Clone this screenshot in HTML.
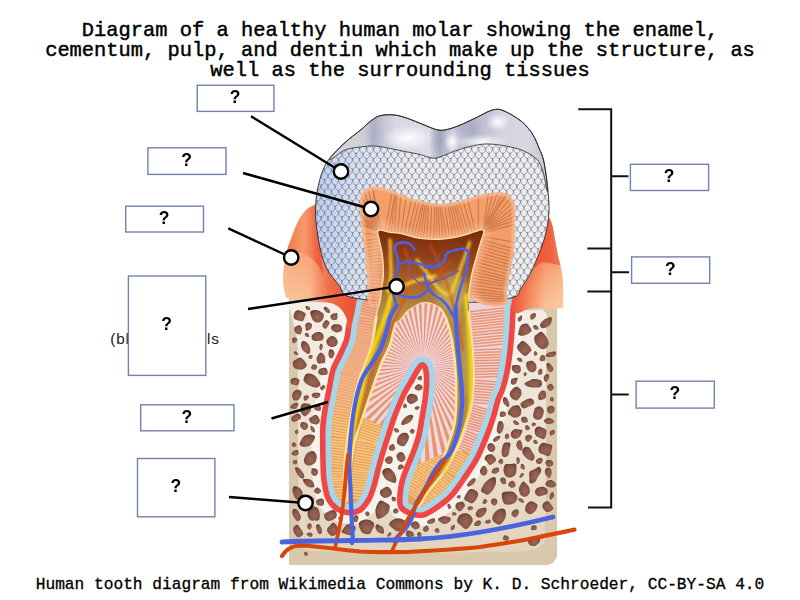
<!DOCTYPE html>
<html><head><meta charset="utf-8"><style>
html,body{margin:0;padding:0;background:#fff;width:800px;height:600px;overflow:hidden}
svg{display:block}
.t{font-family:"Liberation Mono",monospace;font-size:20.4px;fill:#000;stroke:#000;stroke-width:0.45px;text-anchor:middle}
.c{font-family:"Liberation Mono",monospace;font-size:16.2px;fill:#000;stroke:#000;stroke-width:0.3px;text-anchor:middle}
.q{font-family:"Liberation Sans",sans-serif;font-weight:bold;font-size:17.5px;fill:#000;text-anchor:middle}
.h{font-family:"Liberation Sans",sans-serif;font-size:15.3px;fill:#1a1a1a}
</style></head><body>
<svg width="800" height="600" viewBox="0 0 800 600">
<defs>
<linearGradient id="gL" x1="320" y1="250" x2="284" y2="300" gradientUnits="userSpaceOnUse"><stop offset="0" stop-color="#f6a272"/><stop offset="0.5" stop-color="#f8b286"/><stop offset="1" stop-color="#fac49c"/></linearGradient>
<linearGradient id="gLu" x1="290" y1="0" x2="320" y2="0" gradientUnits="userSpaceOnUse"><stop offset="0" stop-color="#f47a50"/><stop offset="0.45" stop-color="#f69a6c"/><stop offset="0.8" stop-color="#f27450"/><stop offset="1" stop-color="#ee5a3a"/></linearGradient>
<linearGradient id="gLt" x1="300" y1="0" x2="352" y2="0" gradientUnits="userSpaceOnUse"><stop offset="0" stop-color="#f05838" stop-opacity="0"/><stop offset="0.2" stop-color="#f05838" stop-opacity="0"/><stop offset="0.55" stop-color="#ee5a38" stop-opacity="0.75"/><stop offset="1" stop-color="#ee5232" stop-opacity="1"/></linearGradient>
<linearGradient id="gR" x1="535" y1="265" x2="565" y2="300" gradientUnits="userSpaceOnUse"><stop offset="0" stop-color="#f48a60"/><stop offset="0.4" stop-color="#f8ac7e"/><stop offset="1" stop-color="#fcc8a0"/></linearGradient>
<linearGradient id="gRu" x1="535" y1="0" x2="560" y2="0" gradientUnits="userSpaceOnUse"><stop offset="0" stop-color="#ee5434"/><stop offset="0.6" stop-color="#f06040"/><stop offset="1" stop-color="#f47c54"/></linearGradient>
<linearGradient id="gRt" x1="545" y1="0" x2="512" y2="0" gradientUnits="userSpaceOnUse"><stop offset="0" stop-color="#ee5636" stop-opacity="0"/><stop offset="0.4" stop-color="#ee5636" stop-opacity="0.35"/><stop offset="1" stop-color="#ee5232" stop-opacity="1"/></linearGradient>
<linearGradient id="occ" x1="330" y1="0" x2="550" y2="0" gradientUnits="userSpaceOnUse">
 <stop offset="0" stop-color="#d4d4da"/><stop offset="0.17" stop-color="#d0d0d8"/><stop offset="0.2" stop-color="#b8b8cc"/><stop offset="0.3" stop-color="#d8d8e4"/><stop offset="0.45" stop-color="#dcdce6"/>
 <stop offset="0.5" stop-color="#b0b0c8"/><stop offset="0.56" stop-color="#d0d0de"/><stop offset="0.65" stop-color="#b4b4cc"/><stop offset="0.78" stop-color="#d4d4e0"/><stop offset="0.9" stop-color="#d8d8e2"/><stop offset="1" stop-color="#c4c4d0"/></linearGradient>
<linearGradient id="occV" x1="0" y1="110" x2="0" y2="165" gradientUnits="userSpaceOnUse"><stop offset="0" stop-color="#8888a8" stop-opacity="0.35"/><stop offset="0.5" stop-color="#fff" stop-opacity="0.0"/><stop offset="1" stop-color="#fff" stop-opacity="0.4"/></linearGradient>
<linearGradient id="enm" x1="316" y1="0" x2="550" y2="0" gradientUnits="userSpaceOnUse"><stop offset="0" stop-color="#bccef0"/><stop offset="0.18" stop-color="#d8e0f0"/><stop offset="0.4" stop-color="#eaebef"/><stop offset="1" stop-color="#ececef"/></linearGradient>
<linearGradient id="dC" x1="0" y1="186" x2="0" y2="300" gradientUnits="userSpaceOnUse"><stop offset="0" stop-color="#f3a06a"/><stop offset="1" stop-color="#f09a66"/></linearGradient>
<linearGradient id="pulpG" x1="0" y1="232" x2="0" y2="315" gradientUnits="userSpaceOnUse"><stop offset="0" stop-color="#7a2c0a"/><stop offset="0.3" stop-color="#92401a"/><stop offset="0.65" stop-color="#a86a2c"/><stop offset="1" stop-color="#b89048"/></linearGradient>
<filter id="blur1" x="-20%" y="-20%" width="140%" height="140%"><feGaussianBlur stdDeviation="0.9"/></filter>
<clipPath id="cA"><path d="M356.0,296.0 C353.0,300.2 353.2,305.2 352.0,310.0 C350.8,314.8 349.9,320.0 349.0,325.0 C348.1,330.0 348.0,335.0 346.5,340.0 C345.0,345.0 342.2,350.0 340.0,355.0 C337.8,360.0 334.8,364.2 333.0,370.0 C331.2,375.8 330.3,383.3 329.0,390.0 C327.7,396.7 326.0,404.2 325.0,410.0 C324.0,415.8 323.4,420.0 323.0,425.0 C322.6,430.0 322.7,434.2 322.7,440.0 C322.7,445.8 322.8,453.3 323.0,460.0 C323.2,466.7 323.2,473.7 324.0,480.0 C324.8,486.3 326.0,493.3 328.0,498.0 C330.0,502.7 332.8,505.6 336.0,508.0 C339.2,510.4 343.5,512.2 347.5,512.5 C351.5,512.8 356.4,512.2 360.0,510.0 C363.6,507.8 366.7,503.0 369.0,499.0 C371.3,495.0 372.5,490.8 374.0,486.0 C375.5,481.2 376.5,475.7 378.0,470.0 C379.5,464.3 381.2,457.8 383.0,452.0 C384.8,446.2 386.7,440.7 388.5,435.0 C390.3,429.3 392.1,423.3 394.0,418.0 C395.9,412.7 398.2,407.3 400.0,403.0 C401.8,398.7 403.0,395.8 405.0,392.0 C407.0,388.2 409.7,384.0 412.0,380.0 C414.3,376.0 417.2,370.5 419.0,368.0 C420.8,365.5 421.8,364.5 423.0,365.0 C424.2,365.5 425.4,367.7 426.0,371.0 C426.6,374.3 426.7,380.2 426.5,385.0 C426.3,389.8 425.8,394.5 425.0,400.0 C424.2,405.5 423.0,412.2 422.0,418.0 C421.0,423.8 420.5,429.2 419.0,435.0 C417.5,440.8 415.2,447.2 413.0,453.0 C410.8,458.8 407.8,465.2 406.0,470.0 C404.2,474.8 403.0,477.8 402.0,482.0 C401.0,486.2 400.2,490.8 400.0,495.0 C399.8,499.2 399.2,503.9 401.0,507.0 C402.8,510.1 407.3,512.2 411.0,513.5 C414.7,514.8 418.8,515.9 423.0,515.0 C427.2,514.1 431.3,511.2 436.0,508.0 C440.7,504.8 446.5,500.7 451.0,496.0 C455.5,491.3 458.8,486.0 463.0,480.0 C467.2,474.0 472.7,465.8 476.0,460.0 C479.3,454.2 480.8,450.0 483.0,445.0 C485.2,440.0 487.2,435.0 489.0,430.0 C490.8,425.0 492.5,420.0 494.0,415.0 C495.5,410.0 496.5,404.5 498.0,400.0 C499.5,395.5 501.5,392.7 503.0,388.0 C504.5,383.3 505.8,378.0 507.0,372.0 C508.2,366.0 509.2,359.0 510.0,352.0 C510.8,345.0 511.5,337.0 512.0,330.0 C512.5,323.0 512.7,315.3 513.0,310.0 C513.3,304.7 516.2,302.2 514.0,298.0 C511.8,293.8 524.0,287.2 500.0,285.0 C476.0,282.8 394.0,283.2 370.0,285.0 C346.0,286.8 359.0,291.8 356.0,296.0 Z"/></clipPath>
<clipPath id="cLlow"><path d="M300,300 L300,540 L398,540 L398,470 L390,440 L380,425 L365,418 L345,420 L300,420Z"/></clipPath>
<clipPath id="cRlow"><path d="M398,540 L398,475 L410,468 L440,455 L470,450 L500,450 L500,540Z"/></clipPath>
<linearGradient id="oLg" x1="0" y1="300" x2="0" y2="440" gradientUnits="userSpaceOnUse"><stop offset="0" stop-color="#f2b898"/><stop offset="0.5" stop-color="#eeaa78"/><stop offset="1" stop-color="#e9a252"/></linearGradient>
<linearGradient id="oLs" x1="0" y1="300" x2="0" y2="440" gradientUnits="userSpaceOnUse"><stop offset="0" stop-color="#e8906c"/><stop offset="0.6" stop-color="#f2b890"/><stop offset="1" stop-color="#f6c88c"/></linearGradient>
<radialGradient id="spotG" cx="0.55" cy="0.6" r="0.6"><stop offset="0" stop-color="#9c6656"/><stop offset="0.7" stop-color="#845444"/><stop offset="1" stop-color="#6a4234"/></radialGradient>
<clipPath id="cOcc"><path d="M330.0,158.0 C332.0,155.4 340.0,147.1 345.0,142.5 C350.0,137.9 355.5,134.2 360.0,130.5 C364.5,126.8 368.5,122.5 372.0,120.0 C375.5,117.5 377.2,116.3 381.0,115.5 C384.8,114.7 390.0,114.5 394.5,115.0 C399.0,115.5 403.2,116.9 408.0,118.5 C412.8,120.1 418.0,122.6 423.0,124.5 C428.0,126.4 433.7,129.2 438.0,130.0 C442.3,130.8 444.9,130.0 449.0,129.0 C453.1,128.0 457.8,126.0 462.5,124.0 C467.2,122.0 473.0,119.2 477.5,117.0 C482.0,114.8 486.2,112.3 489.5,111.0 C492.8,109.7 494.8,109.4 497.0,109.3 C499.2,109.2 500.5,109.5 503.0,110.5 C505.5,111.5 509.0,113.2 512.0,115.0 C515.0,116.8 518.2,118.8 521.0,121.0 C523.8,123.2 526.2,125.8 528.5,128.5 C530.8,131.2 532.8,134.2 534.5,137.5 C536.2,140.8 537.5,144.2 539.0,148.0 C540.5,151.8 542.2,155.0 543.5,160.0 C544.8,165.0 545.8,172.7 546.5,178.0 C547.2,183.3 548.1,193.0 547.5,192.0 C546.9,191.0 544.7,177.3 543.0,172.0 C541.3,166.7 540.2,163.2 537.5,160.0 C534.8,156.8 530.8,154.5 527.0,152.5 C523.2,150.5 519.5,149.2 515.0,148.0 C510.5,146.8 505.0,145.7 500.0,145.0 C495.0,144.3 490.0,143.8 485.0,144.0 C480.0,144.2 475.0,145.3 470.0,146.5 C465.0,147.7 460.0,149.2 455.0,151.0 C450.0,152.8 443.8,155.8 440.0,157.0 C436.2,158.2 435.3,158.4 432.0,158.0 C428.7,157.6 424.5,155.6 420.0,154.5 C415.5,153.4 410.0,152.5 405.0,151.5 C400.0,150.5 395.0,149.4 390.0,148.5 C385.0,147.6 380.0,146.2 375.0,146.0 C370.0,145.8 365.0,146.3 360.0,147.0 C355.0,147.7 349.5,148.2 345.0,150.0 C340.5,151.8 335.5,156.7 333.0,158.0 C330.5,159.3 328.0,160.6 330.0,158.0 Z"/></clipPath>
<radialGradient id="hiW"><stop offset="0" stop-color="#fff" stop-opacity="0.95"/><stop offset="1" stop-color="#fff" stop-opacity="0"/></radialGradient>
<filter id="blur3" x="-50%" y="-50%" width="200%" height="200%"><feGaussianBlur stdDeviation="3"/></filter>
<linearGradient id="boneG" x1="0" y1="300" x2="0" y2="555" gradientUnits="userSpaceOnUse"><stop offset="0" stop-color="#f4eee6"/><stop offset="0.5" stop-color="#ece2d4"/><stop offset="1" stop-color="#e2d4bc"/></linearGradient>
<clipPath id="cI"><path d="M423.0,365.0 C424.2,365.5 425.4,367.7 426.0,371.0 C426.6,374.3 426.7,380.2 426.5,385.0 C426.3,389.8 425.8,394.5 425.0,400.0 C424.2,405.5 423.0,412.2 422.0,418.0 C421.0,423.8 420.5,429.2 419.0,435.0 C417.5,440.8 415.2,447.2 413.0,453.0 C410.8,458.8 407.8,465.2 406.0,470.0 C404.2,474.8 403.0,477.8 402.0,482.0 C401.0,486.2 400.2,490.8 400.0,495.0 C399.8,499.2 403.5,505.2 401.0,507.0 C398.5,508.8 390.3,507.3 385.0,506.0 C379.7,504.7 370.8,502.3 369.0,499.0 C367.2,495.7 372.5,490.8 374.0,486.0 C375.5,481.2 376.5,475.7 378.0,470.0 C379.5,464.3 381.2,457.8 383.0,452.0 C384.8,446.2 386.7,440.7 388.5,435.0 C390.3,429.3 392.1,423.3 394.0,418.0 C395.9,412.7 398.2,407.3 400.0,403.0 C401.8,398.7 403.0,395.8 405.0,392.0 C407.0,388.2 409.7,384.0 412.0,380.0 C414.3,376.0 417.2,370.5 419.0,368.0 C420.8,365.5 421.8,364.5 423.0,365.0 Z"/></clipPath>
<clipPath id="cDC"><path d="M369.0,304.0 C367.7,298.7 367.8,283.7 367.0,274.0 C366.2,264.3 365.0,255.0 364.0,246.0 C363.0,237.0 361.8,226.7 361.0,220.0 C360.2,213.3 359.5,210.0 359.5,206.0 C359.5,202.0 359.9,198.8 361.0,196.0 C362.1,193.2 363.5,191.1 366.0,189.5 C368.5,187.9 372.0,186.4 376.0,186.5 C380.0,186.6 384.3,188.1 390.0,190.0 C395.7,191.9 403.3,195.8 410.0,198.0 C416.7,200.2 424.3,202.0 430.0,203.0 C435.7,204.0 439.0,204.3 444.0,204.0 C449.0,203.7 454.7,202.3 460.0,201.0 C465.3,199.7 471.0,197.3 476.0,196.0 C481.0,194.7 485.3,193.5 490.0,193.0 C494.7,192.5 500.3,192.2 504.0,193.0 C507.7,193.8 510.2,195.5 512.0,198.0 C513.8,200.5 514.5,203.5 515.0,208.0 C515.5,212.5 515.2,218.0 515.0,225.0 C514.8,232.0 514.8,242.2 514.0,250.0 C513.2,257.8 511.2,265.3 510.0,272.0 C508.8,278.7 507.7,284.7 507.0,290.0 C506.3,295.3 508.8,301.3 506.0,304.0 C503.2,306.7 496.0,306.7 490.0,306.0 C484.0,305.3 478.3,301.3 470.0,300.0 C461.7,298.7 450.0,298.3 440.0,298.0 C430.0,297.7 419.2,297.0 410.0,298.0 C400.8,299.0 390.8,302.7 385.0,304.0 C379.2,305.3 377.7,306.0 375.0,306.0 C372.3,306.0 370.3,309.3 369.0,304.0 Z"/></clipPath>
<clipPath id="cCr"><path d="M350.0,297.0 C339.8,294.2 342.8,289.7 339.0,285.0 C335.2,280.3 330.2,275.2 327.0,269.0 C323.8,262.8 321.8,255.8 320.0,248.0 C318.2,240.2 316.7,230.0 316.0,222.0 C315.3,214.0 315.5,206.5 316.0,200.0 C316.5,193.5 317.8,188.0 319.0,183.0 C320.2,178.0 321.2,174.2 323.0,170.0 C324.8,165.8 326.3,162.6 330.0,158.0 C333.7,153.4 340.0,147.1 345.0,142.5 C350.0,137.9 355.5,134.2 360.0,130.5 C364.5,126.8 368.5,122.5 372.0,120.0 C375.5,117.5 377.2,116.3 381.0,115.5 C384.8,114.7 390.0,114.5 394.5,115.0 C399.0,115.5 403.2,116.9 408.0,118.5 C412.8,120.1 418.0,122.6 423.0,124.5 C428.0,126.4 433.7,129.2 438.0,130.0 C442.3,130.8 444.9,130.0 449.0,129.0 C453.1,128.0 457.8,126.0 462.5,124.0 C467.2,122.0 473.0,119.2 477.5,117.0 C482.0,114.8 486.2,112.3 489.5,111.0 C492.8,109.7 494.8,109.4 497.0,109.3 C499.2,109.2 500.5,109.5 503.0,110.5 C505.5,111.5 509.0,113.2 512.0,115.0 C515.0,116.8 518.2,118.8 521.0,121.0 C523.8,123.2 526.2,125.8 528.5,128.5 C530.8,131.2 532.8,134.2 534.5,137.5 C536.2,140.8 537.5,144.2 539.0,148.0 C540.5,151.8 542.2,154.3 543.5,160.0 C544.8,165.7 546.1,174.5 547.0,182.0 C547.9,189.5 548.8,198.3 549.0,205.0 C549.2,211.7 548.8,216.2 548.0,222.0 C547.2,227.8 545.7,234.3 544.0,240.0 C542.3,245.7 540.0,251.0 538.0,256.0 C536.0,261.0 534.0,265.8 532.0,270.0 C530.0,274.2 528.0,277.7 526.0,281.0 C524.0,284.3 522.0,287.3 520.0,290.0 C518.0,292.7 520.7,295.0 514.0,297.0 C507.3,299.0 499.0,301.2 480.0,302.0 C461.0,302.8 421.7,302.8 400.0,302.0 C378.3,301.2 360.2,299.8 350.0,297.0 Z"/></clipPath>
<clipPath id="cPulp"><path d="M379.0,231.0 C380.7,229.8 386.5,232.5 390.0,233.0 C393.5,233.5 395.0,233.0 400.0,234.0 C405.0,235.0 413.3,238.0 420.0,239.0 C426.7,240.0 433.3,240.3 440.0,240.0 C446.7,239.7 454.0,238.3 460.0,237.0 C466.0,235.7 472.2,233.0 476.0,232.0 C479.8,231.0 482.3,229.3 483.0,231.0 C483.7,232.7 481.2,237.8 480.0,242.0 C478.8,246.2 477.5,250.5 476.0,256.0 C474.5,261.5 472.3,268.5 471.0,275.0 C469.7,281.5 468.5,288.8 468.0,295.0 C467.5,301.2 467.7,306.2 468.0,312.0 C468.3,317.8 469.3,323.7 470.0,330.0 C470.7,336.3 471.5,341.7 472.0,350.0 C472.5,358.3 473.2,370.8 473.0,380.0 C472.8,389.2 472.5,396.7 471.0,405.0 C469.5,413.3 466.5,422.5 464.0,430.0 C461.5,437.5 459.3,443.0 456.0,450.0 C452.7,457.0 448.7,465.0 444.0,472.0 C439.3,479.0 432.0,486.5 428.0,492.0 C424.0,497.5 421.8,503.3 420.0,505.0 C418.2,506.7 416.2,504.5 417.0,502.0 C417.8,499.5 421.5,495.3 425.0,490.0 C428.5,484.7 434.2,477.5 438.0,470.0 C441.8,462.5 445.2,453.3 448.0,445.0 C450.8,436.7 453.7,430.8 455.0,420.0 C456.3,409.2 456.5,393.3 456.0,380.0 C455.5,366.7 453.7,350.3 452.0,340.0 C450.3,329.7 448.0,323.5 446.0,318.0 C444.0,312.5 442.3,309.5 440.0,307.0 C437.7,304.5 434.7,303.8 432.0,303.0 C429.3,302.2 426.7,301.8 424.0,302.0 C421.3,302.2 418.7,302.7 416.0,304.0 C413.3,305.3 410.5,307.7 408.0,310.0 C405.5,312.3 403.0,316.0 401.0,318.0 C399.0,320.0 397.8,317.5 396.0,322.0 C394.2,326.5 392.3,338.3 390.0,345.0 C387.7,351.7 384.4,356.2 382.0,362.0 C379.6,367.8 378.3,372.0 375.5,380.0 C372.7,388.0 368.4,400.0 365.0,410.0 C361.6,420.0 357.5,430.0 355.0,440.0 C352.5,450.0 351.2,462.0 350.0,470.0 C348.8,478.0 348.5,483.0 348.0,488.0 C347.5,493.0 347.5,498.0 347.0,500.0 C346.5,502.0 345.5,502.0 345.0,500.0 C344.5,498.0 344.2,493.0 344.0,488.0 C343.8,483.0 343.5,478.0 344.0,470.0 C344.5,462.0 345.7,450.0 347.0,440.0 C348.3,430.0 350.0,420.0 352.0,410.0 C354.0,400.0 356.7,388.0 359.0,380.0 C361.3,372.0 363.8,367.8 366.0,362.0 C368.2,356.2 370.3,352.0 372.0,345.0 C373.7,338.0 374.5,327.5 376.0,320.0 C377.5,312.5 380.0,305.0 381.0,300.0 C382.0,295.0 381.5,294.2 382.0,290.0 C382.5,285.8 383.8,280.8 384.0,275.0 C384.2,269.2 383.7,260.8 383.0,255.0 C382.3,249.2 380.7,244.0 380.0,240.0 C379.3,236.0 377.3,232.2 379.0,231.0 Z"/></clipPath>
</defs>
<rect width="800" height="600" fill="#fff"/>
<text class="t" x="400" y="36">Diagram of a healthy human molar showing the enamel,</text>
<text class="t" x="400" y="55.8">cementum, pulp, and dentin which make up the structure, as</text>
<text class="t" x="400" y="75.5">well as the surrounding tissues</text>
<text class="c" x="400" y="588.6">Human tooth diagram from Wikimedia Commons by K. D. Schroeder, CC-BY-SA 4.0</text>
<text class="h" x="110.3" y="344.4" textLength="108.5" lengthAdjust="spacing">(blood vessels</text>

<!-- bone -->
<path d="M289.0,298.0 L289.0,565.0 L548.0,565.0 L553.0,563.0 L557.0,557.0 L557.0,307.0 L548.0,306.0 L300.0,298.0 Z" fill="#dac8ac"/>
<path d="M290.0,302.0 C287.0,304.7 290.8,311.7 292.0,318.0 C293.2,324.3 296.0,329.7 297.0,340.0 C298.0,350.3 297.8,363.3 298.0,380.0 C298.2,396.7 297.8,420.0 298.0,440.0 C298.2,460.0 298.3,482.5 299.0,500.0 C299.7,517.5 298.5,536.5 302.0,545.0 C305.5,553.5 303.7,549.7 320.0,551.0 C336.3,552.3 373.3,552.8 400.0,553.0 C426.7,553.2 457.0,552.8 480.0,552.0 C503.0,551.2 527.2,553.3 538.0,548.0 C548.8,542.7 543.7,534.7 545.0,520.0 C546.3,505.3 545.8,480.0 546.0,460.0 C546.2,440.0 546.0,420.0 546.0,400.0 C546.0,380.0 546.2,354.7 546.0,340.0 C545.8,325.3 549.3,317.0 545.0,312.0 C540.7,307.0 544.2,311.2 520.0,310.0 C495.8,308.8 435.0,306.3 400.0,305.0 C365.0,303.7 328.3,302.5 310.0,302.0 C291.7,301.5 293.0,299.3 290.0,302.0 Z" fill="url(#boneG)"/>
<path d="M356.0,296.0 C353.0,300.2 353.2,305.2 352.0,310.0 C350.8,314.8 349.9,320.0 349.0,325.0 C348.1,330.0 348.0,335.0 346.5,340.0 C345.0,345.0 342.2,350.0 340.0,355.0 C337.8,360.0 334.8,364.2 333.0,370.0 C331.2,375.8 330.3,383.3 329.0,390.0 C327.7,396.7 326.0,404.2 325.0,410.0 C324.0,415.8 323.4,420.0 323.0,425.0 C322.6,430.0 322.7,434.2 322.7,440.0 C322.7,445.8 322.8,453.3 323.0,460.0 C323.2,466.7 323.2,473.7 324.0,480.0 C324.8,486.3 326.0,493.3 328.0,498.0 C330.0,502.7 332.8,505.6 336.0,508.0 C339.2,510.4 343.5,512.2 347.5,512.5 C351.5,512.8 356.4,512.2 360.0,510.0 C363.6,507.8 366.7,503.0 369.0,499.0 C371.3,495.0 372.5,490.8 374.0,486.0 C375.5,481.2 376.5,475.7 378.0,470.0 C379.5,464.3 381.2,457.8 383.0,452.0 C384.8,446.2 386.7,440.7 388.5,435.0 C390.3,429.3 392.1,423.3 394.0,418.0 C395.9,412.7 398.2,407.3 400.0,403.0 C401.8,398.7 403.0,395.8 405.0,392.0 C407.0,388.2 409.7,384.0 412.0,380.0 C414.3,376.0 417.2,370.5 419.0,368.0 C420.8,365.5 421.8,364.5 423.0,365.0 C424.2,365.5 425.4,367.7 426.0,371.0 C426.6,374.3 426.7,380.2 426.5,385.0 C426.3,389.8 425.8,394.5 425.0,400.0 C424.2,405.5 423.0,412.2 422.0,418.0 C421.0,423.8 420.5,429.2 419.0,435.0 C417.5,440.8 415.2,447.2 413.0,453.0 C410.8,458.8 407.8,465.2 406.0,470.0 C404.2,474.8 403.0,477.8 402.0,482.0 C401.0,486.2 400.2,490.8 400.0,495.0 C399.8,499.2 399.2,503.9 401.0,507.0 C402.8,510.1 407.3,512.2 411.0,513.5 C414.7,514.8 418.8,515.9 423.0,515.0 C427.2,514.1 431.3,511.2 436.0,508.0 C440.7,504.8 446.5,500.7 451.0,496.0 C455.5,491.3 458.8,486.0 463.0,480.0 C467.2,474.0 472.7,465.8 476.0,460.0 C479.3,454.2 480.8,450.0 483.0,445.0 C485.2,440.0 487.2,435.0 489.0,430.0 C490.8,425.0 492.5,420.0 494.0,415.0 C495.5,410.0 496.5,404.5 498.0,400.0 C499.5,395.5 501.5,392.7 503.0,388.0 C504.5,383.3 505.8,378.0 507.0,372.0 C508.2,366.0 509.2,359.0 510.0,352.0 C510.8,345.0 511.5,337.0 512.0,330.0 C512.5,323.0 512.7,315.3 513.0,310.0 C513.3,304.7 516.2,302.2 514.0,298.0 C511.8,293.8 524.0,287.2 500.0,285.0 C476.0,282.8 394.0,283.2 370.0,285.0 C346.0,286.8 359.0,291.8 356.0,296.0 Z" fill="none" stroke="#f6f2ec" stroke-width="22" stroke-linejoin="round"/>
<path d="M423.0,365.0 C424.2,365.5 425.4,367.7 426.0,371.0 C426.6,374.3 426.7,380.2 426.5,385.0 C426.3,389.8 425.8,394.5 425.0,400.0 C424.2,405.5 423.0,412.2 422.0,418.0 C421.0,423.8 420.5,429.2 419.0,435.0 C417.5,440.8 415.2,447.2 413.0,453.0 C410.8,458.8 407.8,465.2 406.0,470.0 C404.2,474.8 403.0,477.8 402.0,482.0 C401.0,486.2 400.2,490.8 400.0,495.0 C399.8,499.2 403.5,505.2 401.0,507.0 C398.5,508.8 390.3,507.3 385.0,506.0 C379.7,504.7 370.8,502.3 369.0,499.0 C367.2,495.7 372.5,490.8 374.0,486.0 C375.5,481.2 376.5,475.7 378.0,470.0 C379.5,464.3 381.2,457.8 383.0,452.0 C384.8,446.2 386.7,440.7 388.5,435.0 C390.3,429.3 392.1,423.3 394.0,418.0 C395.9,412.7 398.2,407.3 400.0,403.0 C401.8,398.7 403.0,395.8 405.0,392.0 C407.0,388.2 409.7,384.0 412.0,380.0 C414.3,376.0 417.2,370.5 419.0,368.0 C420.8,365.5 421.8,364.5 423.0,365.0 Z" fill="#f6f2ec"/>
<g fill="url(#spotG)"><path d="M307.6,515.2 C307.4,513.4 307.7,510.9 308.6,509.4 C309.4,508.0 311.2,506.7 312.7,506.5 C314.2,506.3 316.4,506.8 317.6,508.1 C318.8,509.3 319.5,511.9 319.8,513.9 C320.0,515.9 319.8,518.9 318.9,520.0 C318.0,521.1 315.7,520.6 314.2,520.6 C312.8,520.6 311.3,521.0 310.2,520.1 C309.1,519.2 307.9,517.0 307.6,515.2 Z"/>
<path d="M407.5,524.4 C407.5,525.9 405.6,527.7 403.9,528.9 C402.2,530.1 399.4,531.5 397.5,531.3 C395.6,531.2 393.7,529.2 392.3,528.0 C390.8,526.9 389.0,525.6 389.0,524.3 C389.0,523.1 390.6,521.4 392.0,520.4 C393.4,519.4 395.6,518.2 397.5,518.2 C399.5,518.1 402.1,518.9 403.8,519.9 C405.4,521.0 407.5,522.9 407.5,524.4 Z"/>
<path d="M455.5,506.8 C455.4,505.8 455.5,504.6 456.1,503.8 C456.7,503.0 457.9,502.4 459.1,502.2 C460.3,501.9 462.2,501.6 463.2,502.2 C464.1,502.8 465.0,504.6 465.0,505.7 C464.9,506.8 463.7,507.8 462.9,508.7 C462.1,509.7 461.2,511.2 460.1,511.3 C459.1,511.4 457.6,510.2 456.9,509.4 C456.1,508.7 455.7,507.7 455.5,506.8 Z"/>
<path d="M317.5,322.6 C316.0,322.7 314.3,321.5 313.2,320.5 C312.2,319.5 311.7,318.2 311.3,316.7 C310.8,315.2 309.8,312.6 310.5,311.5 C311.2,310.4 313.9,310.1 315.4,310.0 C316.9,310.0 318.3,310.3 319.7,311.1 C321.0,311.8 323.3,313.1 323.7,314.6 C324.2,316.2 323.3,318.9 322.3,320.2 C321.2,321.6 319.0,322.6 317.5,322.6 Z"/>
<path d="M528.8,353.4 C527.7,354.4 526.6,356.2 525.1,356.0 C523.6,355.8 521.3,353.8 520.0,352.3 C518.6,350.9 517.1,348.8 517.0,347.3 C516.8,345.9 518.1,344.8 519.1,343.7 C520.0,342.6 521.1,340.9 522.6,341.0 C524.0,341.1 526.4,342.9 527.9,344.4 C529.4,345.8 531.2,348.2 531.4,349.7 C531.5,351.2 529.8,352.3 528.8,353.4 Z"/>
<path d="M308.8,354.0 C307.8,354.3 306.0,353.0 304.8,352.1 C303.7,351.1 302.4,349.8 301.8,348.4 C301.1,347.0 301.0,345.0 301.2,343.8 C301.3,342.6 302.0,341.5 302.8,341.1 C303.6,340.8 304.9,341.2 305.9,341.8 C306.9,342.5 308.2,343.7 308.9,345.1 C309.7,346.4 310.4,348.6 310.3,350.1 C310.3,351.6 309.7,353.7 308.8,354.0 Z"/>
<path d="M484.2,493.3 C483.0,492.6 481.0,492.0 481.0,490.4 C481.1,488.8 482.9,485.4 484.3,483.5 C485.6,481.6 487.5,480.0 489.2,478.9 C491.0,477.9 493.7,476.5 494.9,477.2 C496.0,477.8 496.2,480.8 495.9,482.8 C495.7,484.9 494.5,487.4 493.2,489.4 C491.9,491.4 489.7,493.9 488.2,494.5 C486.7,495.2 485.4,494.0 484.2,493.3 Z"/>
<path d="M529.9,482.9 C529.0,482.1 529.5,479.7 529.4,477.9 C529.3,476.1 528.7,473.5 529.5,472.1 C530.4,470.6 532.9,470.0 534.5,469.1 C536.1,468.3 538.0,466.5 539.1,466.8 C540.2,467.1 541.4,469.2 541.2,470.9 C541.0,472.6 539.1,475.0 537.9,476.9 C536.8,478.8 535.8,481.6 534.4,482.6 C533.1,483.6 530.7,483.6 529.9,482.9 Z"/>
<path d="M301.0,536.4 C300.0,537.0 298.5,537.5 297.5,537.0 C296.4,536.5 295.2,534.6 294.4,533.4 C293.7,532.2 293.2,530.8 293.2,529.7 C293.1,528.5 293.6,527.4 294.3,526.6 C295.1,525.8 296.5,524.4 297.6,524.8 C298.7,525.2 299.9,527.6 300.9,529.0 C301.8,530.5 303.2,532.2 303.2,533.4 C303.3,534.7 302.0,535.8 301.0,536.4 Z"/>
<path d="M535.2,493.3 C534.8,492.1 535.1,490.0 536.0,488.9 C536.9,487.9 539.0,487.3 540.4,487.0 C541.9,486.7 543.4,486.7 544.6,487.2 C545.8,487.7 547.0,488.7 547.4,489.8 C547.9,490.9 547.9,492.9 547.2,493.8 C546.4,494.7 544.4,495.0 542.9,495.5 C541.5,495.9 539.7,496.7 538.4,496.3 C537.2,495.9 535.6,494.5 535.2,493.3 Z"/>
<path d="M503.5,470.5 C503.4,468.6 504.1,465.7 505.2,464.6 C506.3,463.6 508.6,464.2 510.4,464.1 C512.2,463.9 514.8,462.9 515.8,463.8 C516.8,464.8 516.4,467.9 516.4,469.7 C516.3,471.5 516.3,473.2 515.4,474.5 C514.6,475.8 512.8,477.2 511.2,477.5 C509.6,477.7 507.1,477.3 505.8,476.2 C504.5,475.0 503.6,472.4 503.5,470.5 Z"/>
<path d="M299.9,520.0 C299.2,520.6 297.9,521.4 296.8,520.8 C295.7,520.1 294.2,517.8 293.4,516.3 C292.7,514.8 292.3,513.0 292.3,511.7 C292.4,510.5 292.8,509.2 293.5,508.9 C294.2,508.5 295.6,508.9 296.6,509.6 C297.6,510.2 298.7,511.6 299.4,512.9 C300.1,514.1 300.7,515.8 300.8,516.9 C300.9,518.1 300.5,519.4 299.9,520.0 Z"/>
<path d="M541.7,327.9 C540.8,327.4 539.7,325.7 540.0,324.5 C540.3,323.2 542.2,321.3 543.4,320.3 C544.5,319.3 545.5,318.8 546.8,318.3 C548.1,317.7 550.4,316.6 551.2,317.1 C552.0,317.7 551.9,320.0 551.6,321.4 C551.3,322.8 550.3,324.5 549.3,325.5 C548.4,326.6 546.9,327.3 545.6,327.7 C544.3,328.1 542.6,328.5 541.7,327.9 Z"/>
<path d="M505.1,457.3 C504.0,457.3 502.5,456.4 502.0,455.0 C501.5,453.5 501.6,450.6 501.9,448.7 C502.2,446.7 503.0,444.4 503.8,443.4 C504.7,442.4 505.8,442.6 506.9,442.6 C508.0,442.5 509.9,442.0 510.3,443.2 C510.8,444.4 509.9,447.6 509.6,449.6 C509.3,451.6 509.1,453.8 508.4,455.1 C507.6,456.4 506.2,457.3 505.1,457.3 Z"/>
<path d="M524.4,383.8 C524.5,382.8 527.1,381.9 528.6,381.1 C530.1,380.3 531.6,379.2 533.6,379.0 C535.6,378.9 538.9,379.4 540.3,380.1 C541.8,380.9 542.3,382.5 542.2,383.7 C542.2,384.8 541.5,386.4 540.0,387.0 C538.6,387.7 535.7,387.5 533.6,387.4 C531.6,387.4 529.5,387.3 528.0,386.7 C526.5,386.1 524.3,384.7 524.4,383.8 Z"/>
<path d="M511.5,416.4 C510.2,415.6 508.1,414.7 507.9,413.4 C507.6,412.1 509.1,410.0 510.0,408.8 C510.9,407.5 512.1,406.4 513.5,405.8 C515.0,405.3 517.4,404.8 518.6,405.5 C519.9,406.2 520.9,408.4 521.2,410.1 C521.4,411.7 521.2,414.2 520.2,415.5 C519.3,416.8 516.9,417.5 515.5,417.6 C514.0,417.8 512.7,417.1 511.5,416.4 Z"/>
<path d="M495.0,522.8 C493.7,521.7 492.3,520.2 492.2,518.4 C492.2,516.7 493.5,513.9 494.8,512.3 C496.0,510.8 498.0,509.5 499.7,509.0 C501.3,508.5 503.5,508.4 504.5,509.2 C505.6,510.0 505.9,512.1 506.0,513.8 C506.0,515.5 505.7,517.5 504.7,519.3 C503.7,521.1 501.7,524.0 500.0,524.6 C498.4,525.2 496.3,523.8 495.0,522.8 Z"/>
<path d="M315.7,461.7 C314.7,463.3 312.4,464.7 310.8,465.2 C309.2,465.7 307.3,465.5 306.1,464.8 C304.9,464.1 304.0,462.2 303.8,460.8 C303.7,459.3 304.5,457.3 305.2,455.9 C306.0,454.5 307.2,453.1 308.6,452.3 C310.0,451.5 312.2,450.7 313.6,451.2 C314.9,451.8 316.3,453.7 316.6,455.4 C317.0,457.2 316.6,460.0 315.7,461.7 Z"/>
<path d="M399.9,445.4 C398.8,444.8 397.3,443.9 397.0,442.5 C396.7,441.1 397.2,438.5 398.1,437.0 C398.9,435.4 400.7,433.8 402.1,433.2 C403.4,432.5 405.3,432.6 406.4,433.1 C407.6,433.7 408.8,435.3 409.0,436.7 C409.1,438.2 408.1,440.3 407.3,441.9 C406.4,443.4 405.2,445.4 404.0,446.0 C402.7,446.6 401.1,446.0 399.9,445.4 Z"/>
<path d="M527.4,513.2 C526.4,512.5 525.4,511.4 525.2,510.0 C525.1,508.6 525.4,506.2 526.3,504.8 C527.1,503.3 529.2,501.7 530.6,501.3 C532.0,501.0 533.3,501.8 534.5,502.5 C535.6,503.1 537.4,504.0 537.5,505.4 C537.7,506.8 536.5,509.3 535.4,510.8 C534.4,512.2 532.6,513.7 531.2,514.1 C529.9,514.5 528.4,513.9 527.4,513.2 Z"/>
<path d="M304.5,317.7 C304.1,318.9 303.8,320.6 302.7,321.1 C301.7,321.6 299.6,321.1 298.2,320.6 C296.8,320.2 294.8,319.4 294.1,318.4 C293.3,317.3 293.5,315.5 293.9,314.2 C294.3,312.9 295.1,311.2 296.4,310.7 C297.6,310.1 299.9,310.4 301.4,310.9 C303.0,311.4 305.1,312.6 305.6,313.8 C306.1,314.9 305.0,316.5 304.5,317.7 Z"/>
<path d="M543.3,414.5 C542.9,416.0 542.3,417.8 541.2,418.7 C540.1,419.6 538.2,420.0 536.9,419.8 C535.6,419.5 533.9,418.3 533.4,417.0 C532.8,415.7 533.4,413.7 533.8,412.1 C534.2,410.6 534.6,408.5 535.7,407.6 C536.8,406.7 538.9,406.2 540.2,406.6 C541.5,407.0 543.0,408.5 543.5,409.8 C544.0,411.1 543.7,413.0 543.3,414.5 Z"/>
<path d="M320.4,384.9 C319.9,386.2 317.6,387.5 315.7,387.6 C313.8,387.7 310.8,386.4 308.8,385.3 C306.8,384.3 304.6,382.6 303.9,381.2 C303.1,379.9 303.7,378.4 304.2,377.2 C304.7,375.9 305.1,374.1 306.7,373.7 C308.3,373.3 311.9,373.9 313.8,374.9 C315.7,376.0 317.2,378.1 318.3,379.8 C319.4,381.5 320.8,383.6 320.4,384.9 Z"/>
<path d="M384.7,497.9 C383.4,497.7 381.7,496.5 380.9,495.4 C380.1,494.2 379.6,492.2 380.0,491.1 C380.3,489.9 382.0,489.1 383.2,488.4 C384.4,487.7 385.9,486.5 387.2,486.7 C388.5,486.9 390.1,488.4 390.8,489.5 C391.6,490.7 392.2,492.5 391.8,493.7 C391.5,494.9 390.2,496.1 389.0,496.8 C387.8,497.5 386.1,498.1 384.7,497.9 Z"/>
<path d="M533.6,372.0 C532.4,372.4 530.7,372.3 529.5,371.6 C528.4,370.8 527.2,368.9 526.7,367.4 C526.2,365.9 526.0,363.6 526.5,362.5 C527.0,361.4 528.7,361.1 529.8,360.9 C530.9,360.7 532.0,360.6 533.0,361.2 C534.1,361.8 535.4,363.0 535.9,364.3 C536.5,365.6 536.7,367.8 536.3,369.0 C536.0,370.3 534.7,371.5 533.6,372.0 Z"/>
<path d="M477.3,516.9 C476.5,516.3 475.5,515.2 475.6,514.0 C475.8,512.7 477.0,510.5 478.1,509.5 C479.2,508.5 481.0,508.3 482.3,508.0 C483.6,507.7 485.2,507.3 485.9,507.8 C486.6,508.4 486.7,510.2 486.3,511.4 C486.0,512.6 485.0,514.1 484.1,515.1 C483.1,516.1 481.7,517.1 480.6,517.4 C479.5,517.7 478.2,517.5 477.3,516.9 Z"/>
<path d="M331.4,346.9 C330.0,346.7 328.5,345.9 327.7,345.0 C326.9,344.0 326.2,342.5 326.3,341.3 C326.4,340.2 327.3,338.9 328.3,338.0 C329.2,337.1 330.6,336.0 331.9,336.0 C333.2,335.9 334.9,336.9 335.9,337.9 C336.8,338.9 337.8,340.6 337.8,341.9 C337.8,343.2 336.8,345.1 335.8,346.0 C334.7,346.8 332.7,347.1 331.4,346.9 Z"/>
<path d="M551.3,451.0 C550.8,452.8 550.3,455.6 549.0,456.2 C547.7,456.8 545.1,455.3 543.5,454.6 C541.8,454.0 539.9,453.5 539.1,452.3 C538.3,451.1 538.4,448.8 538.8,447.3 C539.3,445.8 540.5,443.8 541.8,443.2 C543.1,442.5 545.1,443.0 546.8,443.4 C548.5,443.8 551.3,444.2 552.1,445.5 C552.8,446.7 551.8,449.2 551.3,451.0 Z"/>
<path d="M450.5,520.8 C450.2,521.6 449.0,522.2 448.0,522.7 C446.9,523.3 445.3,524.1 444.1,524.0 C442.8,523.9 441.4,522.8 440.4,522.0 C439.4,521.3 438.0,520.3 438.0,519.5 C438.0,518.7 439.3,517.8 440.5,517.3 C441.6,516.7 443.2,516.3 444.8,516.3 C446.4,516.4 449.0,516.9 450.0,517.6 C450.9,518.4 450.8,519.9 450.5,520.8 Z"/>
<path d="M509.7,393.9 C509.7,392.4 511.0,390.7 512.1,389.5 C513.1,388.3 514.6,386.8 516.0,386.7 C517.3,386.6 519.4,387.8 520.3,389.0 C521.2,390.2 521.7,392.3 521.6,393.8 C521.5,395.2 520.6,396.6 519.7,397.8 C518.8,398.9 517.5,400.4 516.2,400.5 C514.9,400.6 513.1,399.6 512.0,398.6 C510.9,397.5 509.7,395.5 509.7,393.9 Z"/>
<path d="M526.0,496.7 C524.6,497.1 522.2,496.4 521.0,495.2 C519.9,494.1 519.1,491.7 518.9,490.0 C518.8,488.3 519.4,486.6 520.2,485.2 C520.9,483.8 522.2,481.5 523.3,481.4 C524.5,481.3 526.2,483.5 527.2,484.6 C528.2,485.7 529.0,486.7 529.4,488.2 C529.8,489.6 530.1,491.7 529.5,493.1 C528.9,494.5 527.4,496.3 526.0,496.7 Z"/>
<path d="M395.3,482.8 C394.3,483.5 392.0,482.5 390.4,481.8 C388.7,481.1 386.6,480.4 385.3,478.8 C383.9,477.2 382.3,474.0 382.2,472.3 C382.2,470.6 383.8,469.3 385.0,468.6 C386.3,468.0 388.0,467.7 389.5,468.3 C391.0,469.0 392.8,470.9 394.0,472.5 C395.1,474.1 396.0,476.3 396.2,478.0 C396.5,479.7 396.3,482.2 395.3,482.8 Z"/>
<path d="M544.0,439.2 C542.9,439.7 541.0,438.5 539.6,437.8 C538.2,437.1 536.3,436.4 535.5,435.0 C534.7,433.6 534.5,431.0 534.9,429.5 C535.3,428.1 536.8,426.9 538.0,426.5 C539.2,426.1 540.7,426.8 542.0,427.4 C543.4,427.9 545.5,428.7 546.2,429.9 C546.8,431.2 546.3,433.5 546.0,435.0 C545.6,436.6 545.1,438.8 544.0,439.2 Z"/>
<path d="M311.0,409.5 C310.7,411.0 309.8,412.4 308.7,413.5 C307.7,414.6 305.9,416.3 304.6,416.2 C303.3,416.1 301.7,414.1 301.0,412.7 C300.3,411.4 300.2,409.6 300.4,408.1 C300.6,406.7 301.2,404.7 302.2,403.9 C303.2,403.1 304.9,403.2 306.3,403.4 C307.6,403.5 309.5,403.7 310.3,404.7 C311.1,405.7 311.3,408.1 311.0,409.5 Z"/>
<path d="M303.5,369.0 C302.2,369.7 300.6,369.8 299.0,369.6 C297.5,369.4 295.3,368.9 294.3,367.7 C293.2,366.5 292.3,363.7 292.7,362.4 C293.0,361.0 295.1,360.2 296.4,359.3 C297.6,358.5 299.0,357.2 300.3,357.4 C301.6,357.6 303.0,359.2 304.1,360.5 C305.2,361.8 306.9,363.8 306.8,365.2 C306.7,366.6 304.8,368.3 303.5,369.0 Z"/>
<path d="M314.2,486.7 C313.6,487.4 311.8,487.4 310.5,487.4 C309.3,487.3 307.8,486.9 306.8,486.2 C305.8,485.5 305.0,484.4 304.4,483.3 C303.7,482.1 302.5,480.2 302.9,479.5 C303.3,478.8 305.5,478.9 306.9,479.0 C308.2,479.0 309.8,479.1 310.9,479.8 C312.1,480.5 313.1,482.0 313.7,483.1 C314.2,484.3 314.7,486.0 314.2,486.7 Z"/>
<path d="M332.9,536.1 C331.6,536.1 329.9,535.1 328.9,534.0 C327.9,532.9 326.9,530.8 327.0,529.4 C327.2,528.0 328.7,526.8 329.8,525.7 C330.8,524.6 332.0,522.8 333.2,522.8 C334.4,522.8 335.9,524.4 336.8,525.6 C337.7,526.7 338.7,528.3 338.7,529.7 C338.6,531.1 337.6,532.7 336.7,533.8 C335.7,534.8 334.2,536.0 332.9,536.1 Z"/>
<path d="M342.2,328.2 C342.2,329.2 341.8,330.6 340.9,331.3 C340.0,332.1 338.2,332.5 336.9,332.4 C335.6,332.4 334.2,331.7 333.2,330.9 C332.2,330.2 331.0,328.9 331.0,327.9 C331.0,326.8 332.1,325.3 333.1,324.7 C334.1,324.1 335.9,324.2 337.2,324.3 C338.4,324.4 339.9,324.6 340.7,325.3 C341.5,325.9 342.2,327.2 342.2,328.2 Z"/>
<path d="M546.4,347.7 C545.2,348.6 543.2,349.7 541.5,349.1 C539.7,348.5 537.0,346.0 535.8,344.1 C534.5,342.1 534.0,338.9 534.3,337.2 C534.5,335.6 536.1,334.9 537.3,334.0 C538.5,333.1 540.0,331.3 541.5,331.8 C543.0,332.3 545.1,335.1 546.4,337.0 C547.6,338.9 548.7,341.5 548.8,343.3 C548.8,345.1 547.6,346.7 546.4,347.7 Z"/>
<path d="M369.4,534.0 C367.9,534.7 365.2,534.3 363.6,533.5 C362.0,532.6 360.7,530.7 360.0,528.9 C359.2,527.1 358.4,524.3 359.1,522.7 C359.8,521.2 362.4,520.1 364.1,519.7 C365.9,519.2 367.8,519.3 369.4,520.0 C371.1,520.6 373.7,522.1 374.2,523.7 C374.7,525.2 373.3,527.6 372.5,529.3 C371.7,531.0 370.9,533.3 369.4,534.0 Z"/>
<path d="M493.5,463.1 C492.5,464.0 491.0,465.3 489.9,465.1 C488.9,465.0 488.0,463.2 487.1,462.1 C486.2,461.0 484.7,459.9 484.6,458.7 C484.6,457.5 485.8,455.7 486.9,455.0 C487.9,454.2 489.7,454.1 490.9,454.3 C492.1,454.5 493.2,455.4 494.1,456.3 C495.0,457.3 496.2,458.8 496.1,460.0 C496.0,461.1 494.6,462.2 493.5,463.1 Z"/>
<path d="M417.8,400.0 C417.4,401.2 415.5,402.1 414.3,402.7 C413.2,403.4 411.9,404.2 410.7,404.1 C409.6,403.9 408.1,402.8 407.4,401.7 C406.8,400.6 406.5,398.7 406.9,397.5 C407.2,396.3 408.4,394.9 409.4,394.3 C410.4,393.7 411.9,393.7 413.1,393.9 C414.3,394.1 415.8,394.5 416.6,395.6 C417.4,396.6 418.2,398.8 417.8,400.0 Z"/>
<path d="M532.5,460.8 C531.4,461.2 529.3,459.9 528.0,459.2 C526.7,458.4 525.5,457.6 524.5,456.3 C523.5,455.0 522.2,452.7 522.2,451.2 C522.2,449.7 523.4,447.8 524.6,447.2 C525.8,446.6 527.9,446.7 529.2,447.4 C530.5,448.2 531.3,450.3 532.2,451.8 C533.1,453.3 534.6,455.2 534.7,456.6 C534.7,458.1 533.6,460.3 532.5,460.8 Z"/>
<path d="M511.3,436.5 C510.7,435.5 510.6,433.7 511.1,432.4 C511.7,431.2 513.4,429.7 514.6,429.2 C515.8,428.7 517.2,429.3 518.5,429.4 C519.8,429.6 521.8,429.5 522.3,430.2 C522.8,431.0 521.9,432.8 521.4,434.0 C520.9,435.1 520.3,436.5 519.2,437.3 C518.1,438.1 516.1,438.8 514.8,438.7 C513.5,438.5 511.9,437.6 511.3,436.5 Z"/>
<path d="M377.6,518.8 C376.3,518.1 375.9,515.0 375.7,513.1 C375.4,511.1 375.4,509.1 376.2,507.0 C377.0,504.9 378.7,501.3 380.2,500.6 C381.8,499.8 384.0,501.6 385.5,502.5 C387.1,503.4 389.2,504.2 389.6,505.9 C390.0,507.6 389.1,510.9 388.1,512.8 C387.0,514.6 385.1,515.9 383.4,516.9 C381.6,517.9 378.9,519.4 377.6,518.8 Z"/>
<path d="M304.3,430.0 C303.3,429.9 302.3,429.0 301.7,428.3 C301.0,427.6 300.5,426.8 300.3,425.9 C300.2,425.0 300.3,423.6 300.8,422.9 C301.3,422.2 302.6,421.9 303.5,421.9 C304.3,421.9 305.3,422.2 306.0,422.7 C306.8,423.3 307.8,424.1 308.0,425.1 C308.2,426.1 307.9,427.7 307.3,428.5 C306.7,429.3 305.2,430.0 304.3,430.0 Z"/>
<path d="M341.6,532.1 C341.3,531.0 342.9,529.1 343.8,527.9 C344.8,526.6 345.8,525.2 347.1,524.6 C348.5,524.1 350.5,524.2 351.9,524.6 C353.3,525.0 355.0,525.9 355.5,526.9 C356.0,528.0 355.4,529.8 354.7,531.2 C353.9,532.5 352.4,534.5 351.0,535.0 C349.5,535.6 347.3,534.8 345.8,534.3 C344.2,533.8 341.9,533.2 341.6,532.1 Z"/>
<path d="M468.0,501.8 C466.6,501.1 464.5,500.4 464.2,499.1 C463.9,497.8 465.3,495.5 466.2,493.8 C467.1,492.2 468.1,490.1 469.5,489.4 C470.8,488.7 472.9,489.2 474.4,489.8 C475.8,490.5 477.7,491.8 478.1,493.4 C478.4,495.0 477.3,497.6 476.4,499.3 C475.4,500.9 473.7,502.8 472.3,503.3 C470.9,503.7 469.3,502.5 468.0,501.8 Z"/>
<path d="M323.7,336.5 C323.8,337.7 323.4,339.3 322.5,340.1 C321.5,340.8 319.5,340.9 317.9,341.0 C316.3,341.0 314.0,341.0 313.0,340.2 C311.9,339.5 311.4,337.5 311.5,336.4 C311.7,335.2 313.0,334.1 314.0,333.4 C315.1,332.6 316.6,332.0 318.0,332.0 C319.3,331.9 321.3,332.4 322.2,333.2 C323.2,333.9 323.7,335.4 323.7,336.5 Z"/>
<path d="M518.5,335.0 C517.8,334.0 518.6,331.7 519.0,330.1 C519.4,328.5 519.7,326.4 521.0,325.4 C522.2,324.3 524.9,323.4 526.4,323.6 C527.8,323.8 528.7,325.4 529.6,326.5 C530.4,327.7 531.9,329.1 531.6,330.4 C531.3,331.6 529.0,333.2 527.7,334.1 C526.3,335.0 524.9,335.5 523.3,335.7 C521.8,335.8 519.3,335.9 518.5,335.0 Z"/>
<path d="M316.5,359.2 C316.5,357.9 317.2,356.6 317.9,355.5 C318.5,354.4 319.4,352.7 320.4,352.5 C321.3,352.3 322.9,353.6 323.7,354.5 C324.5,355.5 324.9,356.9 325.1,358.3 C325.3,359.6 325.5,361.8 324.9,362.6 C324.3,363.5 322.7,363.2 321.6,363.3 C320.4,363.4 319.0,364.0 318.2,363.3 C317.4,362.6 316.6,360.5 316.5,359.2 Z"/>
<path d="M399.3,461.3 C398.4,460.9 397.8,460.3 397.4,459.3 C396.9,458.3 396.2,456.5 396.6,455.3 C396.9,454.2 398.6,452.7 399.6,452.2 C400.7,451.8 402.0,452.2 402.8,452.6 C403.6,453.1 404.1,454.0 404.5,455.0 C404.9,456.0 405.7,457.7 405.4,458.9 C405.0,460.1 403.3,461.6 402.3,462.0 C401.2,462.4 400.1,461.8 399.3,461.3 Z"/>
<path d="M466.0,529.2 C464.4,529.3 462.5,527.1 461.0,525.8 C459.5,524.5 457.5,523.0 457.2,521.3 C456.9,519.6 458.2,517.0 459.3,515.6 C460.5,514.3 462.5,513.4 464.1,513.2 C465.8,513.0 467.9,513.4 469.3,514.5 C470.7,515.5 472.5,517.7 472.7,519.4 C473.0,521.2 471.7,523.4 470.6,525.0 C469.5,526.7 467.7,529.1 466.0,529.2 Z"/>
<path d="M299.8,444.7 C299.4,443.7 300.1,442.1 300.9,440.7 C301.6,439.2 302.6,437.1 304.2,436.0 C305.8,435.0 308.7,434.6 310.5,434.6 C312.3,434.7 314.4,435.3 314.9,436.4 C315.4,437.4 314.4,439.5 313.5,441.0 C312.6,442.6 311.2,444.7 309.5,445.7 C307.8,446.6 304.9,446.9 303.3,446.8 C301.7,446.6 300.2,445.7 299.8,444.7 Z"/>
<path d="M401.6,424.8 C401.0,424.3 401.3,422.7 401.9,421.4 C402.5,420.1 404.0,418.0 405.5,416.9 C406.9,415.8 409.2,414.9 410.4,414.7 C411.7,414.5 412.6,415.1 413.0,415.7 C413.3,416.4 413.2,417.5 412.6,418.6 C412.1,419.7 411.0,421.3 409.8,422.3 C408.6,423.2 406.9,423.9 405.6,424.3 C404.2,424.7 402.2,425.3 401.6,424.8 Z"/>
<path d="M504.6,503.9 C503.2,502.9 502.4,500.2 502.1,498.4 C501.7,496.5 501.5,493.8 502.5,492.7 C503.5,491.5 506.2,491.8 508.0,491.6 C509.8,491.5 511.7,491.1 513.2,491.9 C514.8,492.7 517.0,494.7 517.4,496.4 C517.8,498.1 516.8,500.7 515.6,502.0 C514.5,503.4 512.5,504.1 510.7,504.4 C508.9,504.7 506.1,504.9 504.6,503.9 Z"/>
<path d="M302.7,500.4 C302.7,499.3 303.9,497.9 304.8,497.2 C305.7,496.4 307.1,495.7 308.3,495.6 C309.5,495.5 311.0,496.0 312.0,496.7 C312.9,497.4 314.0,498.7 314.1,499.8 C314.2,500.9 313.5,502.3 312.6,503.4 C311.7,504.4 310.0,505.9 308.8,505.9 C307.5,505.9 306.0,504.3 305.0,503.4 C304.0,502.5 302.7,501.4 302.7,500.4 Z"/>
<path d="M550.0,511.4 C548.8,511.9 547.4,512.2 546.2,511.8 C545.1,511.4 543.9,510.2 543.3,509.1 C542.6,508.0 542.2,506.3 542.4,505.2 C542.6,504.0 543.6,502.8 544.6,502.2 C545.6,501.5 547.4,501.0 548.4,501.4 C549.5,501.8 550.3,503.3 551.1,504.6 C551.9,505.8 553.6,507.6 553.4,508.8 C553.2,509.9 551.2,510.9 550.0,511.4 Z"/>
<path d="M521.3,406.6 C520.8,405.7 520.1,404.4 520.8,403.3 C521.5,402.2 523.8,400.7 525.5,399.9 C527.1,399.1 529.4,398.5 530.8,398.6 C532.1,398.7 533.0,399.6 533.6,400.5 C534.1,401.3 534.7,402.8 533.9,403.8 C533.1,404.9 530.5,405.8 528.8,406.6 C527.2,407.4 525.2,408.5 523.9,408.5 C522.7,408.5 521.9,407.5 521.3,406.6 Z"/>
<path d="M419.7,525.2 C419.8,526.2 419.5,527.6 418.7,528.3 C417.9,529.0 416.0,529.5 415.0,529.4 C413.9,529.2 412.8,528.1 412.1,527.3 C411.4,526.5 410.9,525.5 411.0,524.6 C411.1,523.8 411.8,522.9 412.6,522.3 C413.4,521.8 414.6,521.2 415.5,521.2 C416.5,521.3 417.6,522.0 418.3,522.7 C419.0,523.3 419.7,524.3 419.7,525.2 Z"/>
<path d="M300.2,498.6 C299.2,499.2 297.6,500.1 296.4,499.4 C295.2,498.7 294.0,496.0 293.3,494.4 C292.7,492.7 292.4,491.0 292.5,489.6 C292.6,488.2 293.3,486.6 294.2,486.2 C295.1,485.7 296.7,486.3 297.9,487.0 C299.2,487.7 300.9,488.8 301.7,490.3 C302.5,491.8 303.0,494.4 302.8,495.8 C302.5,497.2 301.3,498.0 300.2,498.6 Z"/>
<path d="M539.5,400.1 C538.9,399.8 538.4,398.9 538.2,397.9 C538.1,396.9 538.1,395.3 538.7,394.1 C539.3,392.9 540.7,391.2 541.7,390.7 C542.8,390.1 544.2,390.5 544.9,391.0 C545.6,391.6 545.9,392.8 546.0,394.0 C546.1,395.1 546.2,397.1 545.5,398.1 C544.9,399.1 543.1,399.4 542.1,399.8 C541.1,400.1 540.2,400.5 539.5,400.1 Z"/>
<path d="M552.5,371.0 C552.0,371.5 551.3,372.4 550.5,372.2 C549.7,372.0 548.3,370.6 547.7,369.7 C547.1,368.7 546.9,367.7 546.7,366.7 C546.5,365.8 546.3,364.6 546.7,364.0 C547.1,363.5 548.3,362.9 549.2,363.2 C550.1,363.5 551.4,365.0 552.1,366.0 C552.8,367.0 553.4,368.3 553.4,369.1 C553.5,370.0 553.0,370.5 552.5,371.0 Z"/>
<path d="M511.5,384.3 C511.1,383.9 510.9,383.1 510.9,382.2 C510.9,381.4 510.9,379.9 511.5,379.2 C512.1,378.5 513.6,378.1 514.6,377.9 C515.6,377.7 517.0,377.4 517.5,377.9 C517.9,378.4 517.3,380.0 517.1,380.9 C516.9,381.8 516.6,382.8 516.0,383.4 C515.4,384.1 514.3,384.5 513.6,384.7 C512.8,384.8 511.9,384.7 511.5,384.3 Z"/>
<path d="M320.0,396.0 C319.8,396.7 318.9,397.3 318.2,397.7 C317.4,398.1 316.4,398.4 315.4,398.3 C314.5,398.2 313.2,397.7 312.6,397.1 C312.0,396.6 311.7,395.5 311.8,394.8 C312.0,394.1 312.9,393.4 313.6,393.1 C314.3,392.7 315.2,392.7 316.3,392.7 C317.3,392.7 319.2,392.7 319.8,393.2 C320.5,393.8 320.3,395.3 320.0,396.0 Z"/>
<path d="M548.1,389.1 C547.6,388.4 547.1,387.5 547.2,386.7 C547.3,386.0 548.1,385.0 548.8,384.6 C549.5,384.1 550.6,383.7 551.4,383.9 C552.1,384.1 552.7,385.0 553.2,385.7 C553.6,386.4 554.0,387.3 553.9,388.0 C553.8,388.7 553.0,389.4 552.4,389.9 C551.7,390.4 550.7,391.0 550.0,390.9 C549.3,390.8 548.5,389.8 548.1,389.1 Z"/>
<path d="M544.8,360.6 C544.3,361.1 543.2,361.2 542.3,361.2 C541.5,361.2 540.4,361.0 540.0,360.5 C539.6,359.9 539.6,358.8 539.8,358.1 C539.9,357.4 540.3,356.8 540.8,356.3 C541.2,355.8 541.9,355.1 542.5,355.1 C543.2,355.0 544.1,355.5 544.6,356.0 C545.1,356.6 545.5,357.4 545.5,358.2 C545.5,358.9 545.3,360.1 544.8,360.6 Z"/>
<path d="M392.0,462.5 C391.5,463.2 390.4,463.9 389.5,464.0 C388.6,464.1 387.3,463.6 386.5,463.0 C385.7,462.3 384.8,461.0 384.8,460.1 C384.8,459.2 385.8,458.1 386.5,457.5 C387.2,456.9 388.0,456.3 388.9,456.2 C389.8,456.1 391.4,456.3 392.0,456.9 C392.6,457.5 392.7,459.0 392.7,459.9 C392.7,460.8 392.5,461.8 392.0,462.5 Z"/>
<path d="M320.6,534.1 C320.1,534.3 319.1,534.2 318.5,533.6 C317.9,533.0 317.4,531.6 317.0,530.4 C316.6,529.2 316.0,527.5 316.1,526.4 C316.3,525.4 317.1,524.2 317.8,524.1 C318.5,524.0 319.6,525.1 320.3,525.9 C320.9,526.7 321.5,528.0 321.8,529.1 C322.1,530.2 322.1,531.5 321.9,532.3 C321.7,533.2 321.2,533.9 320.6,534.1 Z"/>
<path d="M428.9,529.6 C428.8,530.2 428.1,530.9 427.5,531.3 C426.9,531.7 426.0,532.1 425.3,532.0 C424.6,531.9 423.6,531.3 423.3,530.6 C422.9,530.0 423.0,528.9 423.3,528.2 C423.5,527.5 424.1,527.0 424.7,526.5 C425.3,526.1 426.3,525.3 427.0,525.5 C427.6,525.6 428.1,526.8 428.4,527.5 C428.8,528.1 429.1,529.0 428.9,529.6 Z"/>
<path d="M483.0,475.5 C482.2,475.4 481.3,474.9 480.8,474.0 C480.3,473.2 479.9,471.6 480.0,470.5 C480.2,469.4 480.9,468.3 481.6,467.5 C482.3,466.7 483.2,465.8 484.0,465.8 C484.8,465.8 485.7,466.7 486.2,467.7 C486.8,468.6 487.5,470.0 487.4,471.3 C487.4,472.5 486.5,474.2 485.7,474.9 C485.0,475.6 483.8,475.7 483.0,475.5 Z"/>
<path d="M294.0,400.2 C293.1,399.6 292.4,398.1 292.2,396.9 C292.0,395.7 292.2,393.9 292.8,392.7 C293.4,391.5 294.8,390.4 295.9,389.9 C296.9,389.5 298.2,389.6 299.1,390.1 C300.1,390.5 301.3,391.3 301.6,392.4 C301.8,393.5 301.3,395.4 300.7,396.7 C300.0,398.0 298.9,399.6 297.8,400.2 C296.7,400.8 295.0,400.7 294.0,400.2 Z"/>
<path d="M499.3,433.8 C498.4,433.8 497.3,432.6 496.9,431.3 C496.6,430.1 496.9,428.2 497.2,426.6 C497.5,425.0 497.8,422.7 498.5,421.8 C499.3,420.9 500.8,421.0 501.6,421.3 C502.4,421.6 503.1,422.7 503.4,423.8 C503.7,424.9 503.8,426.5 503.6,427.7 C503.3,429.0 502.8,430.4 502.1,431.4 C501.3,432.4 500.1,433.9 499.3,433.8 Z"/>
<path d="M304.0,477.7 C303.5,478.3 302.4,478.9 301.4,478.5 C300.4,478.0 298.6,476.2 297.7,475.0 C296.7,473.8 296.3,472.5 295.8,471.3 C295.4,470.0 294.7,468.0 295.1,467.5 C295.6,466.9 297.4,467.2 298.5,467.8 C299.7,468.5 301.0,470.1 302.0,471.3 C302.9,472.5 303.7,473.8 304.0,474.8 C304.3,475.9 304.4,477.1 304.0,477.7 Z"/>
<path d="M552.8,465.0 C552.4,465.6 551.8,466.2 551.0,466.5 C550.1,466.7 548.8,466.8 547.8,466.4 C546.9,466.0 545.8,464.7 545.5,463.8 C545.2,462.9 545.6,461.6 546.2,461.0 C546.7,460.4 547.8,460.1 548.7,460.0 C549.5,459.9 550.7,459.9 551.5,460.4 C552.2,460.8 553.1,461.9 553.3,462.6 C553.5,463.4 553.2,464.3 552.8,465.0 Z"/>
<path d="M383.3,533.7 C382.8,534.1 381.5,533.6 380.6,533.2 C379.6,532.9 378.2,532.4 377.4,531.4 C376.5,530.5 375.5,528.5 375.4,527.3 C375.3,526.2 375.9,524.7 376.6,524.4 C377.4,524.1 378.8,524.9 379.9,525.4 C380.9,525.9 382.3,526.4 383.0,527.4 C383.7,528.3 383.9,530.0 384.0,531.0 C384.1,532.1 383.9,533.3 383.3,533.7 Z"/>
<path d="M322.9,505.6 C322.2,506.1 321.0,506.0 320.0,505.8 C319.0,505.6 317.6,505.2 317.0,504.5 C316.4,503.7 316.0,502.0 316.2,501.1 C316.4,500.2 317.5,499.7 318.3,499.2 C319.0,498.8 319.8,498.4 320.7,498.5 C321.6,498.6 323.1,498.9 323.6,499.7 C324.2,500.4 324.1,501.9 324.0,502.9 C323.9,503.9 323.6,505.1 322.9,505.6 Z"/>
<path d="M300.3,334.2 C299.6,334.6 298.3,334.4 297.4,334.0 C296.5,333.6 295.4,332.7 294.9,331.7 C294.4,330.7 294.1,328.8 294.4,327.9 C294.8,326.9 295.9,326.3 296.9,325.9 C297.8,325.5 299.1,325.1 300.0,325.5 C300.9,326.0 301.9,327.6 302.1,328.7 C302.4,329.7 302.0,330.9 301.7,331.8 C301.4,332.7 301.0,333.9 300.3,334.2 Z"/>
<path d="M330.4,316.8 C330.4,315.9 331.1,314.7 331.8,314.2 C332.4,313.6 333.3,313.6 334.2,313.5 C335.1,313.3 336.6,312.8 337.1,313.3 C337.6,313.7 337.3,315.3 337.4,316.3 C337.4,317.2 337.6,318.3 337.2,318.9 C336.7,319.6 335.6,320.0 334.7,320.1 C333.8,320.2 332.5,320.2 331.8,319.6 C331.1,319.1 330.4,317.7 330.4,316.8 Z"/>
<path d="M522.7,422.4 C522.0,422.0 521.4,421.0 521.2,420.3 C521.0,419.5 521.0,418.6 521.3,418.0 C521.7,417.4 522.5,417.0 523.3,416.8 C524.0,416.7 525.2,416.6 525.9,417.0 C526.6,417.4 527.2,418.4 527.5,419.2 C527.8,420.0 528.1,421.3 527.7,421.8 C527.3,422.4 526.1,422.6 525.2,422.7 C524.4,422.8 523.3,422.8 522.7,422.4 Z"/>
<path d="M414.7,387.9 C414.6,387.3 415.2,386.6 415.7,386.0 C416.3,385.4 417.2,384.5 418.1,384.3 C419.1,384.2 420.5,384.7 421.3,385.3 C422.0,385.8 422.7,386.8 422.7,387.5 C422.7,388.2 422.0,389.2 421.3,389.7 C420.6,390.2 419.4,390.5 418.5,390.5 C417.6,390.5 416.7,390.1 416.0,389.7 C415.4,389.2 414.7,388.5 414.7,387.9 Z"/>
<path d="M528.8,441.7 C528.0,441.9 526.6,441.2 526.0,440.7 C525.4,440.1 525.3,439.1 525.2,438.3 C525.1,437.6 525.2,436.7 525.7,436.1 C526.1,435.5 527.0,435.2 527.8,435.0 C528.6,434.8 529.9,434.5 530.6,434.9 C531.4,435.3 532.3,436.5 532.4,437.3 C532.4,438.1 531.4,439.0 530.8,439.8 C530.2,440.5 529.6,441.6 528.8,441.7 Z"/>
<path d="M549.5,478.0 C548.8,478.2 547.7,477.1 546.9,476.3 C546.2,475.5 545.3,474.5 545.0,473.4 C544.8,472.2 544.8,470.3 545.3,469.4 C545.7,468.5 546.8,467.9 547.7,467.8 C548.6,467.7 549.9,467.9 550.5,468.6 C551.2,469.3 551.7,471.1 551.7,472.2 C551.8,473.3 551.4,474.2 551.0,475.2 C550.6,476.2 550.2,477.8 549.5,478.0 Z"/>
<path d="M536.4,462.7 C536.0,462.0 535.9,460.8 536.2,460.1 C536.5,459.4 537.5,458.8 538.2,458.4 C539.0,458.0 540.0,457.6 540.7,457.8 C541.5,457.9 542.3,458.6 542.6,459.2 C542.9,459.8 542.7,460.8 542.4,461.5 C542.1,462.2 541.7,463.1 541.1,463.5 C540.4,463.9 539.3,464.1 538.5,464.0 C537.7,463.8 536.8,463.3 536.4,462.7 Z"/>
<path d="M324.6,518.0 C324.1,516.9 323.9,515.2 324.5,514.1 C325.2,513.0 327.0,512.1 328.5,511.4 C330.0,510.8 332.1,509.8 333.4,510.1 C334.8,510.3 336.1,511.8 336.5,513.0 C337.0,514.2 337.0,516.1 336.3,517.3 C335.6,518.5 333.6,519.7 332.1,520.3 C330.6,520.9 328.5,521.1 327.3,520.7 C326.0,520.3 325.0,519.1 324.6,518.0 Z"/>
<path d="M468.0,486.6 C467.4,486.3 467.0,485.3 467.3,484.3 C467.6,483.4 468.8,482.0 469.8,481.0 C470.7,480.0 471.8,478.9 472.8,478.5 C473.7,478.1 474.9,478.0 475.3,478.4 C475.8,478.8 475.7,480.0 475.4,481.0 C475.1,482.0 474.1,483.3 473.3,484.2 C472.5,485.0 471.4,485.6 470.5,486.0 C469.7,486.4 468.5,486.8 468.0,486.6 Z"/>
<path d="M519.9,372.3 C519.3,373.0 518.4,373.6 517.4,373.6 C516.4,373.5 514.9,373.0 513.9,372.2 C513.0,371.3 511.9,369.8 511.7,368.6 C511.5,367.5 512.0,366.0 512.7,365.4 C513.4,364.7 514.9,364.9 516.0,365.0 C517.2,365.1 519.1,365.2 519.9,366.0 C520.7,366.8 520.9,368.7 520.9,369.8 C520.9,370.8 520.5,371.7 519.9,372.3 Z"/>
<path d="M508.0,407.0 C507.4,407.0 506.5,406.0 505.8,405.4 C505.0,404.8 504.0,404.2 503.6,403.2 C503.1,402.2 502.9,400.6 503.0,399.5 C503.1,398.5 503.4,397.3 504.0,397.0 C504.6,396.7 505.8,397.1 506.5,397.8 C507.3,398.5 508.1,400.0 508.6,401.2 C509.0,402.4 509.4,404.0 509.4,405.0 C509.3,405.9 508.6,406.9 508.0,407.0 Z"/>
<path d="M319.8,421.3 C319.6,422.4 318.4,423.8 317.4,424.2 C316.3,424.7 314.8,424.4 313.7,424.1 C312.6,423.8 311.3,423.4 310.5,422.5 C309.8,421.6 308.9,419.8 309.2,418.8 C309.5,417.8 311.2,417.1 312.3,416.5 C313.4,415.8 314.8,414.6 315.9,414.8 C317.0,415.0 318.2,416.6 318.8,417.7 C319.5,418.7 320.1,420.2 319.8,421.3 Z"/>
<path d="M530.7,319.2 C530.3,318.9 530.3,318.0 530.3,317.3 C530.3,316.6 530.3,315.6 530.6,315.0 C531.0,314.3 531.9,313.8 532.6,313.5 C533.3,313.2 534.2,312.8 534.8,313.0 C535.3,313.3 535.9,314.1 536.0,314.9 C536.0,315.7 535.6,317.1 535.0,317.8 C534.5,318.6 533.4,319.3 532.7,319.5 C532.0,319.8 531.1,319.6 530.7,319.2 Z"/>
<path d="M317.8,494.1 C317.1,494.1 316.4,493.6 315.7,493.1 C315.1,492.6 314.2,492.0 314.1,491.3 C314.0,490.6 314.5,489.6 315.1,488.9 C315.6,488.3 316.5,487.7 317.3,487.6 C318.0,487.6 318.9,488.2 319.5,488.7 C320.2,489.3 321.1,490.1 321.2,490.7 C321.2,491.4 320.3,492.3 319.7,492.9 C319.1,493.4 318.4,494.0 317.8,494.1 Z"/>
<path d="M291.5,454.2 C291.4,453.7 291.7,452.9 292.1,452.3 C292.6,451.7 293.4,450.9 294.3,450.6 C295.2,450.2 296.9,449.9 297.6,450.2 C298.3,450.4 298.3,451.4 298.5,452.0 C298.6,452.6 298.9,453.3 298.5,454.0 C298.1,454.6 296.8,455.5 295.9,455.7 C295.0,455.9 293.9,455.6 293.1,455.3 C292.4,455.1 291.7,454.7 291.5,454.2 Z"/>
<path d="M512.8,516.3 C512.2,515.8 511.4,515.2 511.4,514.3 C511.3,513.5 511.8,512.0 512.5,511.2 C513.1,510.4 514.5,509.5 515.5,509.4 C516.4,509.2 517.7,509.6 518.2,510.2 C518.7,510.8 518.9,512.0 518.7,512.9 C518.6,513.8 518.1,515.0 517.5,515.7 C516.9,516.5 515.7,517.3 514.9,517.4 C514.1,517.5 513.4,516.8 512.8,516.3 Z"/>
<path d="M554.3,421.4 C554.2,422.2 552.8,423.1 551.9,423.6 C551.0,424.1 549.9,424.3 548.9,424.3 C547.8,424.2 546.5,423.9 545.7,423.3 C544.9,422.7 543.8,421.3 544.0,420.4 C544.2,419.6 545.7,418.8 546.6,418.4 C547.5,418.0 548.6,417.8 549.5,417.9 C550.4,418.0 551.3,418.4 552.1,419.0 C552.9,419.6 554.3,420.7 554.3,421.4 Z"/>
<path d="M497.0,503.5 C496.6,504.3 495.7,505.2 495.0,505.4 C494.3,505.6 493.3,505.2 492.6,504.8 C492.0,504.5 491.5,503.9 491.2,503.1 C490.9,502.4 490.7,501.3 491.0,500.6 C491.3,499.8 492.2,499.0 493.0,498.6 C493.7,498.3 494.9,498.3 495.6,498.7 C496.4,499.0 497.2,499.9 497.4,500.7 C497.6,501.5 497.4,502.7 497.0,503.5 Z"/>
<path d="M323.7,327.7 C323.2,327.3 322.6,327.0 322.5,326.2 C322.4,325.4 322.6,323.9 323.2,322.9 C323.7,321.9 325.0,320.5 325.8,320.2 C326.6,319.9 327.4,320.5 328.0,320.9 C328.6,321.3 329.4,321.7 329.5,322.6 C329.5,323.4 328.8,325.0 328.2,326.0 C327.5,327.0 326.4,328.5 325.7,328.8 C324.9,329.1 324.3,328.2 323.7,327.7 Z"/>
<path d="M494.0,451.0 C493.3,451.6 492.1,452.2 491.1,451.9 C490.1,451.6 488.5,450.5 487.9,449.4 C487.3,448.3 487.2,446.5 487.5,445.5 C487.7,444.5 488.6,443.8 489.3,443.5 C490.1,443.1 491.2,442.8 492.0,443.2 C492.9,443.5 494.0,444.5 494.5,445.4 C495.0,446.3 495.3,447.6 495.2,448.5 C495.1,449.5 494.7,450.5 494.0,451.0 Z"/>
<path d="M299.1,382.6 C298.9,383.5 298.7,384.7 298.0,385.1 C297.2,385.5 295.8,385.1 294.7,384.9 C293.6,384.6 292.0,384.5 291.3,383.9 C290.6,383.2 290.3,381.8 290.5,380.8 C290.7,379.9 291.5,378.8 292.4,378.3 C293.3,377.8 295.0,377.6 296.1,377.9 C297.2,378.1 298.7,379.0 299.2,379.8 C299.7,380.6 299.3,381.7 299.1,382.6 Z"/>
<path d="M427.2,523.1 C426.9,522.5 427.2,521.3 427.8,520.6 C428.4,519.9 429.8,519.3 430.9,518.9 C432.0,518.5 433.6,518.0 434.3,518.2 C435.0,518.5 435.1,519.6 435.2,520.2 C435.2,520.8 435.1,521.5 434.7,522.0 C434.3,522.6 433.3,523.2 432.5,523.5 C431.7,523.8 430.7,523.9 429.8,523.9 C429.0,523.8 427.6,523.6 427.2,523.1 Z"/>
<path d="M491.8,472.4 C491.6,471.9 491.7,471.0 492.1,470.3 C492.5,469.5 493.5,468.6 494.5,468.1 C495.4,467.7 497.1,467.4 497.9,467.6 C498.6,467.8 498.8,468.7 499.0,469.3 C499.2,470.0 499.5,470.7 499.1,471.3 C498.7,472.0 497.6,472.9 496.7,473.3 C495.8,473.7 494.5,473.8 493.7,473.6 C492.8,473.5 492.1,473.0 491.8,472.4 Z"/>
<path d="M502.3,417.1 C501.6,417.1 500.6,417.0 500.2,416.5 C499.8,416.0 499.7,415.0 499.8,414.2 C499.9,413.5 500.1,412.5 500.6,412.0 C501.1,411.6 502.1,411.5 502.9,411.5 C503.7,411.6 504.7,411.8 505.2,412.3 C505.7,412.9 506.1,414.2 505.9,414.9 C505.7,415.6 504.7,416.2 504.1,416.5 C503.5,416.9 502.9,417.1 502.3,417.1 Z"/>
<path d="M510.6,487.5 C509.8,487.2 508.8,486.3 508.5,485.6 C508.2,484.8 508.5,483.6 508.9,482.9 C509.2,482.2 509.9,481.7 510.6,481.4 C511.3,481.0 512.4,480.6 513.1,480.9 C513.8,481.1 514.5,482.0 514.9,482.7 C515.3,483.5 515.7,484.5 515.5,485.4 C515.2,486.2 514.4,487.3 513.6,487.6 C512.8,488.0 511.5,487.9 510.6,487.5 Z"/>
<path d="M548.2,412.5 C547.6,411.9 547.2,410.8 547.2,409.9 C547.2,409.0 547.4,407.8 548.0,407.1 C548.6,406.4 549.8,405.8 550.7,405.7 C551.7,405.6 553.1,406.1 553.8,406.8 C554.4,407.5 554.8,408.9 554.7,409.8 C554.7,410.7 554.0,411.7 553.3,412.4 C552.7,413.0 551.7,413.5 550.8,413.5 C550.0,413.5 548.8,413.1 548.2,412.5 Z"/>
<path d="M318.2,372.6 C317.9,371.7 318.7,370.0 319.4,369.2 C320.1,368.5 321.5,368.2 322.5,368.0 C323.6,367.8 325.0,367.5 325.8,367.9 C326.6,368.4 327.2,369.6 327.5,370.6 C327.7,371.6 328.0,373.1 327.4,373.9 C326.9,374.6 325.2,374.9 324.1,375.0 C323.0,375.2 321.9,375.3 320.9,374.9 C320.0,374.5 318.4,373.6 318.2,372.6 Z"/>
<path d="M393.8,450.2 C393.2,450.5 392.4,450.9 391.6,450.8 C390.8,450.7 389.6,450.2 389.2,449.5 C388.8,448.8 389.0,447.4 389.2,446.7 C389.5,445.9 390.1,445.3 390.8,444.9 C391.5,444.4 392.6,443.8 393.3,444.0 C393.9,444.3 394.4,445.6 394.7,446.4 C395.1,447.1 395.5,448.0 395.3,448.6 C395.2,449.2 394.4,449.8 393.8,450.2 Z"/>
<path d="M306.1,330.6 C305.5,330.2 305.7,328.6 305.6,327.6 C305.4,326.5 304.9,325.2 305.4,324.4 C305.8,323.5 307.3,322.7 308.1,322.5 C309.0,322.2 309.8,322.6 310.5,323.0 C311.1,323.4 311.8,324.0 312.0,324.8 C312.1,325.7 312.0,327.1 311.5,327.9 C311.0,328.8 310.0,329.6 309.1,330.1 C308.2,330.5 306.7,331.1 306.1,330.6 Z"/>
<path d="M545.4,355.5 C545.4,354.9 546.5,354.1 547.3,353.5 C548.1,352.9 549.1,352.4 550.3,352.1 C551.6,351.7 553.8,351.2 554.8,351.5 C555.7,351.7 556.0,352.9 556.0,353.6 C556.0,354.4 555.6,355.3 554.8,355.9 C554.0,356.4 552.4,356.8 551.2,357.0 C550.0,357.1 548.6,357.3 547.6,357.0 C546.7,356.8 545.5,356.1 545.4,355.5 Z"/>
<path d="M545.4,484.3 C545.3,483.4 546.2,482.0 547.1,481.3 C548.0,480.6 549.7,480.1 550.8,480.1 C551.9,480.1 553.0,480.8 553.8,481.4 C554.7,481.9 555.6,482.6 555.8,483.4 C556.0,484.2 555.9,485.7 555.2,486.4 C554.4,487.1 552.6,487.4 551.4,487.5 C550.2,487.5 548.7,487.4 547.7,486.8 C546.7,486.3 545.5,485.2 545.4,484.3 Z"/>
<path d="M520.8,450.4 C520.0,450.6 518.9,449.8 518.1,449.0 C517.4,448.2 516.5,446.7 516.3,445.6 C516.1,444.5 516.5,443.2 516.9,442.4 C517.2,441.6 517.6,441.1 518.2,440.8 C518.8,440.5 519.9,439.9 520.5,440.5 C521.1,441.0 521.7,442.9 522.0,444.1 C522.4,445.4 522.8,447.1 522.6,448.2 C522.4,449.2 521.5,450.3 520.8,450.4 Z"/>
<path d="M291.7,420.5 C291.2,419.7 291.1,418.3 291.5,417.4 C292.0,416.5 293.4,415.8 294.5,415.1 C295.6,414.5 297.1,413.5 298.1,413.6 C299.1,413.7 300.0,414.7 300.5,415.5 C300.9,416.3 301.2,417.6 300.7,418.5 C300.2,419.3 298.6,419.9 297.6,420.5 C296.5,421.1 295.3,422.0 294.3,422.0 C293.3,422.0 292.1,421.2 291.7,420.5 Z"/>
<path d="M317.1,474.7 C316.5,475.3 315.5,476.1 314.6,476.0 C313.7,475.9 312.1,474.9 311.6,474.1 C311.1,473.2 311.3,471.9 311.4,471.0 C311.5,470.0 311.6,469.0 312.1,468.6 C312.7,468.2 313.8,468.1 314.6,468.3 C315.4,468.5 316.6,469.0 317.1,469.6 C317.7,470.3 317.9,471.5 317.9,472.4 C317.9,473.2 317.6,474.1 317.1,474.7 Z"/>
<path d="M330.4,358.3 C329.7,358.0 329.2,356.8 328.8,355.9 C328.5,355.0 328.4,354.0 328.5,353.0 C328.6,351.9 328.9,350.4 329.5,349.8 C330.0,349.2 331.0,349.3 331.6,349.4 C332.3,349.5 333.1,349.7 333.5,350.5 C334.0,351.2 334.6,352.7 334.5,353.8 C334.4,355.0 333.6,356.7 332.9,357.4 C332.2,358.2 331.0,358.5 330.4,358.3 Z"/>
<path d="M544.5,381.1 C544.1,380.6 544.0,380.0 543.9,379.2 C543.8,378.4 543.6,377.3 544.0,376.5 C544.5,375.6 545.7,374.4 546.5,374.1 C547.3,373.8 548.3,374.1 548.7,374.5 C549.2,375.0 549.2,376.0 549.1,376.8 C549.1,377.6 548.9,378.4 548.4,379.3 C548.0,380.1 547.1,381.6 546.5,381.9 C545.8,382.2 544.9,381.5 544.5,381.1 Z"/>
<path d="M413.9,535.7 C413.5,536.4 411.9,536.6 411.0,536.8 C410.1,537.0 409.3,537.2 408.4,537.0 C407.6,536.7 406.5,536.1 406.1,535.4 C405.7,534.7 405.8,533.7 406.0,532.9 C406.2,532.1 406.7,530.9 407.4,530.6 C408.2,530.3 409.6,530.8 410.6,531.1 C411.5,531.5 412.7,532.0 413.3,532.7 C413.8,533.5 414.2,535.0 413.9,535.7 Z"/>
<path d="M308.6,357.3 C308.5,356.9 308.5,356.4 308.8,356.0 C309.1,355.6 309.9,355.0 310.4,355.0 C311.0,354.9 312.0,355.2 312.3,355.5 C312.7,355.9 312.7,356.5 312.7,356.9 C312.7,357.3 312.5,357.7 312.2,358.1 C311.9,358.4 311.4,358.9 310.9,359.0 C310.3,359.1 309.6,358.8 309.2,358.5 C308.8,358.2 308.6,357.7 308.6,357.3 Z"/>
<path d="M316.8,368.3 C316.5,368.9 315.9,369.5 315.3,369.7 C314.6,369.9 313.7,369.9 313.0,369.6 C312.3,369.3 311.2,368.6 311.1,368.0 C310.9,367.4 311.5,366.5 311.9,365.8 C312.3,365.2 312.7,364.4 313.3,364.3 C313.9,364.1 314.8,364.4 315.4,364.8 C316.1,365.1 316.9,365.6 317.1,366.2 C317.3,366.8 317.1,367.7 316.8,368.3 Z"/>
<path d="M525.6,429.5 C525.2,429.0 525.2,428.1 525.2,427.5 C525.1,426.9 525.1,426.2 525.4,425.8 C525.8,425.3 526.6,424.8 527.1,424.9 C527.7,425.0 528.2,425.8 528.7,426.3 C529.2,426.8 530.0,427.3 530.1,427.8 C530.2,428.4 529.7,429.1 529.2,429.5 C528.8,429.9 528.2,430.2 527.6,430.2 C526.9,430.2 526.0,429.9 525.6,429.5 Z"/>
<path d="M483.9,504.0 C483.4,503.9 482.7,503.2 482.6,502.7 C482.4,502.1 483.0,501.3 483.3,500.7 C483.6,500.1 483.9,499.3 484.3,499.1 C484.8,498.9 485.5,499.2 485.9,499.4 C486.4,499.7 487.0,500.0 487.2,500.4 C487.4,500.9 487.3,501.8 487.0,502.3 C486.8,502.8 486.2,503.2 485.7,503.4 C485.1,503.7 484.5,504.1 483.9,504.0 Z"/>
<path d="M354.4,521.7 C353.9,521.4 353.4,521.0 353.2,520.3 C353.1,519.6 353.1,518.5 353.5,517.7 C353.8,516.8 354.6,515.6 355.2,515.2 C355.8,514.9 356.6,515.2 357.2,515.5 C357.7,515.8 358.2,516.3 358.4,517.0 C358.6,517.7 358.5,518.9 358.1,519.7 C357.8,520.6 357.0,521.8 356.4,522.2 C355.8,522.5 355.0,522.1 354.4,521.7 Z"/>
<path d="M414.8,408.7 C414.7,408.2 414.8,407.5 415.2,407.1 C415.5,406.7 416.4,406.5 416.9,406.4 C417.5,406.3 417.9,406.4 418.4,406.6 C418.9,406.7 419.8,407.0 419.9,407.3 C419.9,407.7 419.3,408.3 418.9,408.7 C418.6,409.1 418.3,409.5 417.8,409.7 C417.3,409.9 416.5,410.0 416.0,409.8 C415.5,409.6 415.0,409.2 414.8,408.7 Z"/>
<path d="M304.4,400.4 C304.0,400.1 303.7,399.3 303.7,398.7 C303.6,398.0 303.5,396.9 303.9,396.3 C304.3,395.8 305.3,395.5 306.0,395.4 C306.7,395.2 307.4,395.1 307.9,395.4 C308.4,395.7 309.1,396.4 309.1,397.0 C309.1,397.7 308.4,398.5 307.9,399.1 C307.4,399.7 306.9,400.3 306.3,400.5 C305.8,400.7 304.9,400.7 304.4,400.4 Z"/>
<path d="M439.3,532.1 C439.0,532.6 438.2,533.1 437.6,533.1 C437.0,533.1 436.3,532.7 435.8,532.3 C435.3,531.9 434.7,531.3 434.6,530.7 C434.5,530.2 435.0,529.5 435.3,529.1 C435.7,528.7 436.2,528.4 436.8,528.3 C437.3,528.3 438.1,528.3 438.6,528.7 C439.0,529.0 439.3,529.7 439.4,530.3 C439.5,530.9 439.6,531.7 439.3,532.1 Z"/>
<path d="M290.3,407.5 C290.1,406.9 290.9,405.7 291.5,405.1 C292.0,404.4 292.7,403.8 293.5,403.4 C294.4,403.1 295.7,402.6 296.5,402.7 C297.3,402.9 298.2,403.6 298.4,404.3 C298.5,404.9 297.9,405.8 297.4,406.6 C297.0,407.3 296.4,408.3 295.6,408.7 C294.8,409.1 293.4,409.0 292.6,408.8 C291.7,408.6 290.4,408.1 290.3,407.5 Z"/>
<path d="M524.1,502.1 C524.0,502.5 523.5,502.9 522.9,502.9 C522.3,502.9 521.3,502.4 520.6,502.1 C520.0,501.7 519.4,501.2 519.0,500.7 C518.6,500.2 517.9,499.3 518.1,499.0 C518.3,498.6 519.2,498.6 519.9,498.6 C520.6,498.6 521.7,498.6 522.3,498.9 C522.9,499.3 523.3,500.1 523.6,500.7 C523.9,501.2 524.2,501.7 524.1,502.1 Z"/>
<path d="M307.1,526.6 C307.1,525.9 307.3,525.4 307.7,524.8 C308.0,524.2 308.5,523.3 309.1,523.2 C309.7,523.1 310.8,523.5 311.3,524.0 C311.7,524.5 311.8,525.4 311.8,526.0 C311.8,526.7 311.6,527.2 311.3,527.8 C311.0,528.4 310.4,529.3 309.9,529.5 C309.3,529.6 308.2,529.0 307.8,528.5 C307.3,528.0 307.1,527.2 307.1,526.6 Z"/>
<path d="M524.1,469.9 C523.7,470.1 522.9,469.4 522.3,469.0 C521.8,468.7 521.0,468.4 520.8,467.9 C520.5,467.3 520.7,466.5 520.8,465.9 C520.8,465.2 520.9,464.3 521.3,464.1 C521.7,463.8 522.5,464.0 523.1,464.3 C523.7,464.6 524.3,465.4 524.6,466.0 C524.9,466.6 524.8,467.4 524.7,468.0 C524.6,468.7 524.5,469.8 524.1,469.9 Z"/>
<path d="M517.7,464.3 C517.3,464.2 517.0,463.0 516.8,462.3 C516.6,461.6 516.5,461.0 516.5,460.2 C516.5,459.4 516.6,458.1 516.9,457.6 C517.2,457.2 517.9,457.3 518.3,457.4 C518.7,457.5 519.1,457.9 519.4,458.4 C519.6,458.9 519.9,459.7 519.9,460.5 C519.9,461.3 519.6,462.4 519.2,463.0 C518.8,463.7 518.1,464.4 517.7,464.3 Z"/>
<path d="M418.0,379.4 C417.6,378.9 417.5,377.9 417.6,377.4 C417.8,376.9 418.4,376.6 418.9,376.4 C419.3,376.1 419.8,375.7 420.3,375.8 C420.8,375.8 421.7,376.3 421.9,376.8 C422.2,377.3 421.9,378.1 421.8,378.6 C421.7,379.2 421.7,380.0 421.4,380.3 C421.0,380.5 420.2,380.3 419.6,380.1 C419.1,379.9 418.3,379.8 418.0,379.4 Z"/>
<path d="M342.5,520.6 C342.3,520.8 341.7,520.8 341.3,520.8 C340.8,520.9 340.1,521.0 339.6,520.7 C339.2,520.4 338.8,519.7 338.6,519.1 C338.4,518.6 338.2,517.9 338.4,517.6 C338.7,517.2 339.5,517.2 340.0,517.3 C340.5,517.3 341.1,517.7 341.6,518.0 C342.0,518.4 342.4,518.9 342.6,519.3 C342.7,519.7 342.7,520.3 342.5,520.6 Z"/>
<path d="M320.8,408.0 C320.9,408.9 321.0,410.2 320.5,410.6 C319.9,411.1 318.4,411.0 317.5,410.8 C316.7,410.7 316.0,410.4 315.4,409.9 C314.8,409.4 314.2,408.6 314.2,407.9 C314.2,407.3 314.9,406.6 315.5,406.0 C316.0,405.5 316.8,404.9 317.6,404.9 C318.4,404.8 319.7,405.1 320.2,405.7 C320.8,406.2 320.8,407.2 320.8,408.0 Z"/>
<path d="M493.0,440.7 C492.8,440.2 493.3,439.3 493.7,438.6 C494.2,438.0 494.9,437.3 495.6,436.9 C496.4,436.4 497.4,435.8 498.2,435.7 C499.0,435.6 500.0,435.8 500.2,436.2 C500.5,436.7 500.2,437.6 499.8,438.3 C499.3,439.0 498.6,439.8 497.8,440.4 C496.9,440.9 495.5,441.6 494.7,441.7 C493.9,441.7 493.1,441.2 493.0,440.7 Z"/>
<path d="M417.3,535.2 C417.2,534.6 417.1,534.0 417.3,533.5 C417.5,533.0 417.9,532.4 418.4,532.2 C418.9,532.0 419.6,532.1 420.1,532.4 C420.7,532.7 421.4,533.2 421.6,533.8 C421.8,534.4 421.5,535.3 421.3,535.8 C421.0,536.4 420.5,537.0 420.0,537.1 C419.5,537.3 418.7,537.0 418.3,536.7 C417.8,536.4 417.5,535.7 417.3,535.2 Z"/>
<path d="M505.8,483.5 C505.4,484.0 504.2,484.4 503.4,484.2 C502.6,484.1 501.7,483.1 501.1,482.4 C500.6,481.8 500.3,480.9 500.2,480.2 C500.2,479.5 500.3,478.7 500.7,478.2 C501.1,477.8 501.9,477.5 502.7,477.5 C503.4,477.6 504.8,477.8 505.3,478.4 C505.9,478.9 505.9,480.2 506.0,481.0 C506.1,481.9 506.2,482.9 505.8,483.5 Z"/>
<path d="M296.8,341.2 C296.5,341.8 295.8,342.5 295.1,342.8 C294.5,343.1 293.4,343.4 292.9,343.1 C292.4,342.8 292.4,341.6 292.3,340.9 C292.2,340.2 291.8,339.3 292.1,338.7 C292.4,338.1 293.4,337.6 294.0,337.4 C294.6,337.2 295.2,337.4 295.7,337.7 C296.2,337.9 297.0,338.2 297.2,338.8 C297.4,339.4 297.2,340.5 296.8,341.2 Z"/>
<path d="M292.7,462.8 C292.5,462.3 292.7,461.4 293.1,461.0 C293.4,460.5 294.0,460.5 294.6,460.3 C295.1,460.1 295.9,459.6 296.3,459.8 C296.8,460.0 297.0,461.0 297.1,461.6 C297.3,462.2 297.4,462.8 297.1,463.3 C296.9,463.8 296.2,464.4 295.7,464.5 C295.2,464.6 294.6,464.2 294.1,464.0 C293.6,463.7 292.8,463.3 292.7,462.8 Z"/>
<path d="M534.0,426.3 C533.5,426.4 532.7,426.3 532.3,426.1 C531.9,425.8 531.6,425.3 531.6,424.9 C531.5,424.5 531.7,424.0 532.0,423.6 C532.3,423.2 532.8,422.6 533.3,422.5 C533.8,422.3 534.5,422.7 535.0,422.9 C535.6,423.2 536.3,423.6 536.3,424.0 C536.4,424.4 535.7,425.0 535.3,425.4 C534.9,425.8 534.5,426.2 534.0,426.3 Z"/>
<path d="M518.9,424.4 C518.7,424.7 518.1,424.8 517.5,424.9 C516.9,424.9 515.9,425.1 515.3,424.7 C514.6,424.4 513.9,423.5 513.5,422.8 C513.2,422.2 513.0,421.4 513.3,421.0 C513.6,420.6 514.5,420.5 515.2,420.5 C515.8,420.6 516.6,421.1 517.2,421.5 C517.9,421.9 518.7,422.4 518.9,422.9 C519.2,423.3 519.2,424.0 518.9,424.4 Z"/>
<path d="M297.6,355.0 C297.3,355.2 296.9,355.2 296.4,355.1 C295.9,355.0 295.2,354.9 294.8,354.6 C294.3,354.2 293.9,353.4 293.8,353.0 C293.7,352.5 293.8,352.1 294.0,351.9 C294.2,351.6 294.6,351.3 295.0,351.3 C295.5,351.4 296.4,351.7 296.9,352.1 C297.5,352.5 298.2,353.4 298.3,353.9 C298.4,354.4 297.9,354.8 297.6,355.0 Z"/>
<path d="M295.8,434.1 C295.5,433.9 295.3,433.3 295.1,432.8 C294.9,432.4 294.5,431.7 294.7,431.2 C294.9,430.8 295.6,430.4 296.0,430.1 C296.4,429.9 297.0,429.5 297.4,429.6 C297.7,429.7 297.9,430.4 298.1,430.9 C298.3,431.4 298.8,432.1 298.6,432.6 C298.5,433.1 297.8,433.6 297.3,433.9 C296.8,434.1 296.2,434.2 295.8,434.1 Z"/>
<path d="M320.2,350.1 C319.9,349.9 319.6,349.4 319.5,348.8 C319.4,348.2 319.3,347.4 319.5,346.6 C319.6,345.8 320.1,344.5 320.5,344.1 C320.9,343.7 321.6,343.8 321.9,344.0 C322.3,344.2 322.5,344.8 322.6,345.4 C322.7,345.9 322.8,346.7 322.6,347.5 C322.5,348.2 322.0,349.5 321.6,349.9 C321.2,350.4 320.6,350.3 320.2,350.1 Z"/>
<path d="M314.7,432.3 C314.4,432.6 313.7,432.6 313.1,432.3 C312.6,432.0 311.6,431.1 311.2,430.4 C310.8,429.7 310.7,428.7 310.7,427.9 C310.7,427.2 310.6,426.2 310.9,426.0 C311.3,425.7 312.2,426.1 312.7,426.5 C313.3,426.9 313.9,427.9 314.3,428.6 C314.7,429.2 314.9,430.0 314.9,430.6 C315.0,431.2 315.0,432.0 314.7,432.3 Z"/>
<path d="M329.6,313.0 C329.2,313.3 328.2,313.0 327.4,312.7 C326.7,312.4 326.0,311.9 325.4,311.2 C324.7,310.6 323.9,309.5 323.7,308.8 C323.6,308.1 324.0,307.4 324.5,307.1 C324.9,306.8 325.7,306.8 326.3,307.0 C327.0,307.3 327.7,308.0 328.3,308.6 C328.9,309.3 329.7,310.2 329.9,310.9 C330.1,311.6 330.0,312.7 329.6,313.0 Z"/>
<path d="M366.0,515.6 C365.6,515.2 365.2,514.6 365.2,514.1 C365.1,513.5 365.3,512.7 365.7,512.2 C366.0,511.8 366.9,511.4 367.5,511.5 C368.0,511.5 368.6,512.0 368.9,512.3 C369.3,512.7 369.5,513.2 369.6,513.7 C369.7,514.3 369.7,515.1 369.3,515.6 C369.0,516.0 368.1,516.5 367.5,516.5 C367.0,516.5 366.4,515.9 366.0,515.6 Z"/>
<path d="M450.0,508.6 C449.6,508.8 449.1,509.4 448.7,509.1 C448.3,508.8 447.9,507.5 447.7,506.8 C447.5,506.2 447.3,505.5 447.4,505.0 C447.4,504.5 447.7,504.1 448.1,504.0 C448.4,503.8 448.9,503.7 449.3,503.9 C449.7,504.2 450.3,504.9 450.6,505.6 C450.9,506.3 451.3,507.4 451.2,507.9 C451.1,508.4 450.4,508.4 450.0,508.6 Z"/>
<path d="M320.8,389.3 C320.4,388.9 319.8,388.3 319.9,387.8 C320.0,387.3 320.9,386.7 321.5,386.2 C322.0,385.7 322.8,385.1 323.3,385.0 C323.9,385.0 324.5,385.5 324.8,385.9 C325.1,386.4 325.3,387.0 325.2,387.5 C325.1,388.1 324.5,388.6 323.9,389.1 C323.4,389.6 322.6,390.4 322.1,390.4 C321.6,390.5 321.1,389.8 320.8,389.3 Z"/>
<path d="M499.5,463.3 C499.1,462.9 498.3,462.6 498.2,462.1 C498.1,461.6 498.7,460.8 499.0,460.2 C499.4,459.7 499.9,459.1 500.5,459.0 C501.0,458.8 501.9,458.9 502.3,459.2 C502.8,459.5 503.0,460.2 503.1,460.8 C503.2,461.5 503.3,462.3 502.9,462.9 C502.6,463.5 501.7,464.1 501.1,464.2 C500.6,464.3 500.0,463.6 499.5,463.3 Z"/>
<path d="M451.3,530.3 C451.0,530.2 450.8,529.6 450.7,529.0 C450.7,528.4 450.7,527.3 451.0,526.7 C451.4,526.1 452.3,525.6 452.8,525.3 C453.4,525.0 454.0,524.6 454.3,524.8 C454.7,524.9 454.9,525.6 454.9,526.2 C455.0,526.8 455.0,528.0 454.6,528.6 C454.2,529.2 453.3,529.6 452.8,529.9 C452.2,530.2 451.7,530.5 451.3,530.3 Z"/>
<path d="M518.7,321.4 C518.3,321.2 517.8,320.6 517.8,320.0 C517.7,319.4 517.9,318.2 518.2,317.6 C518.6,317.0 519.3,316.8 519.8,316.4 C520.4,316.0 521.2,315.2 521.6,315.3 C522.0,315.4 522.0,316.5 522.1,317.2 C522.1,317.9 522.3,318.8 522.0,319.4 C521.7,320.1 520.9,320.8 520.4,321.2 C519.8,321.5 519.1,321.6 518.7,321.4 Z"/>
<path d="M312.6,535.0 C312.5,535.5 312.4,536.1 311.9,536.4 C311.4,536.7 310.2,536.8 309.5,536.7 C308.8,536.6 308.2,536.1 307.7,535.7 C307.2,535.3 306.6,534.8 306.6,534.3 C306.6,533.9 307.3,533.4 307.8,533.1 C308.4,532.8 309.3,532.5 310.0,532.6 C310.7,532.6 311.6,533.1 312.0,533.5 C312.5,533.9 312.6,534.5 312.6,535.0 Z"/>
<path d="M550.3,435.5 C549.9,435.3 549.9,434.2 549.8,433.5 C549.7,432.8 549.6,431.9 550.0,431.4 C550.3,430.9 551.1,430.7 551.7,430.5 C552.3,430.2 553.2,429.6 553.7,429.8 C554.2,430.0 554.7,430.9 554.8,431.6 C555.0,432.3 554.8,433.5 554.4,434.1 C554.0,434.6 553.0,434.7 552.4,434.9 C551.7,435.2 550.8,435.8 550.3,435.5 Z"/>
<path d="M452.1,514.0 C452.1,513.5 452.3,512.9 452.6,512.6 C453.0,512.3 453.6,512.2 454.0,512.2 C454.5,512.2 454.9,512.3 455.4,512.6 C455.8,512.8 456.4,513.3 456.5,513.7 C456.6,514.2 456.2,515.0 455.9,515.3 C455.5,515.6 454.8,515.5 454.3,515.6 C453.7,515.6 453.0,515.7 452.6,515.5 C452.3,515.2 452.1,514.5 452.1,514.0 Z"/>
<path d="M294.1,447.2 C293.6,447.2 292.9,446.8 292.5,446.3 C292.1,445.9 291.6,445.2 291.6,444.7 C291.6,444.1 292.1,443.5 292.5,443.1 C292.9,442.7 293.5,442.3 293.9,442.3 C294.4,442.3 294.9,442.7 295.3,443.1 C295.7,443.5 296.3,444.0 296.4,444.5 C296.5,445.1 296.1,445.9 295.7,446.4 C295.3,446.8 294.6,447.2 294.1,447.2 Z"/>
<path d="M398.7,432.0 C398.4,432.3 397.7,432.6 397.1,432.6 C396.5,432.6 395.8,432.3 395.3,432.0 C394.8,431.6 394.4,431.0 394.2,430.5 C394.0,430.0 393.8,429.2 394.0,428.8 C394.2,428.5 395.0,428.3 395.6,428.3 C396.2,428.3 396.9,428.4 397.5,428.7 C398.0,429.0 398.7,429.7 398.9,430.2 C399.1,430.8 399.0,431.6 398.7,432.0 Z"/>
<path d="M522.4,360.9 C522.2,361.4 521.6,362.1 521.1,362.1 C520.5,362.2 519.7,361.7 519.1,361.4 C518.5,361.0 518.0,360.7 517.7,360.2 C517.3,359.7 516.9,358.7 517.1,358.3 C517.3,357.9 518.3,357.8 518.9,357.8 C519.5,357.7 520.2,357.8 520.7,358.1 C521.2,358.4 521.7,358.8 521.9,359.3 C522.2,359.8 522.5,360.5 522.4,360.9 Z"/>
<path d="M413.0,433.9 C412.6,434.0 411.8,433.5 411.3,433.2 C410.8,432.9 410.2,432.6 410.0,432.1 C409.8,431.6 410.0,430.8 410.2,430.3 C410.5,429.8 411.0,429.0 411.6,428.9 C412.1,428.7 413.0,429.0 413.5,429.3 C414.0,429.6 414.6,430.2 414.7,430.7 C414.8,431.2 414.4,431.8 414.1,432.3 C413.8,432.8 413.5,433.7 413.0,433.9 Z"/>
<path d="M550.0,400.1 C549.8,399.6 549.8,398.9 550.0,398.4 C550.1,397.9 550.6,397.5 551.1,397.3 C551.5,397.2 552.2,397.1 552.7,397.3 C553.1,397.5 553.5,398.2 553.7,398.7 C553.9,399.2 554.0,399.9 553.8,400.3 C553.6,400.8 553.2,401.4 552.8,401.6 C552.3,401.7 551.6,401.6 551.2,401.3 C550.7,401.1 550.2,400.6 550.0,400.1 Z"/>
<path d="M468.0,509.2 C467.8,508.7 467.3,508.1 467.6,507.6 C467.9,507.1 469.1,506.3 469.8,506.2 C470.5,506.0 471.5,506.4 472.0,506.6 C472.5,506.9 472.9,507.3 473.0,507.7 C473.2,508.1 473.2,508.7 472.9,509.1 C472.6,509.5 471.7,509.9 471.0,510.1 C470.3,510.3 469.4,510.5 468.9,510.4 C468.4,510.2 468.2,509.7 468.0,509.2 Z"/>
<path d="M519.9,477.7 C519.6,477.5 519.4,477.1 519.5,476.6 C519.5,476.1 520.0,475.3 520.3,474.8 C520.7,474.2 521.3,473.4 521.8,473.1 C522.2,472.9 522.8,473.0 523.1,473.2 C523.5,473.4 523.9,473.8 523.9,474.3 C523.8,474.9 523.2,475.9 522.8,476.5 C522.3,477.0 521.7,477.5 521.2,477.7 C520.7,477.9 520.2,477.9 519.9,477.7 Z"/>
<path d="M537.9,442.8 C537.8,443.2 537.1,443.8 536.6,444.0 C536.0,444.2 535.1,444.1 534.6,443.9 C534.1,443.7 533.8,443.0 533.5,442.6 C533.3,442.1 533.1,441.5 533.2,441.1 C533.4,440.7 533.8,440.2 534.3,440.0 C534.8,439.8 535.6,439.8 536.0,440.0 C536.5,440.2 536.7,440.8 537.0,441.2 C537.3,441.7 538.0,442.3 537.9,442.8 Z"/>
<path d="M506.2,439.0 C505.7,438.8 505.1,438.5 504.9,438.0 C504.7,437.5 504.7,436.6 504.9,435.9 C505.1,435.2 505.5,434.4 506.0,434.0 C506.4,433.7 507.2,433.6 507.7,433.8 C508.2,433.9 508.8,434.4 509.0,434.9 C509.3,435.5 509.3,436.4 509.2,437.1 C509.0,437.8 508.4,438.7 508.0,439.0 C507.5,439.3 506.8,439.1 506.2,439.0 Z"/>
<path d="M538.6,329.1 C538.4,329.5 537.5,329.7 536.9,329.8 C536.2,329.8 535.4,329.8 534.9,329.4 C534.3,329.1 533.7,328.4 533.4,327.8 C533.2,327.2 533.1,326.4 533.3,325.9 C533.6,325.5 534.4,325.1 535.0,325.1 C535.7,325.1 536.5,325.5 537.1,325.8 C537.6,326.2 537.9,326.8 538.2,327.3 C538.4,327.9 538.8,328.7 538.6,329.1 Z"/>
<path d="M474.2,524.9 C474.0,524.4 474.3,523.6 474.7,523.0 C475.1,522.4 475.8,521.5 476.6,521.1 C477.4,520.7 479.0,520.4 479.7,520.5 C480.4,520.7 480.6,521.5 480.8,522.1 C481.0,522.6 481.2,523.3 480.9,523.9 C480.5,524.5 479.5,525.6 478.6,525.9 C477.8,526.2 476.5,526.1 475.8,525.9 C475.0,525.8 474.4,525.4 474.2,524.9 Z"/>
<path d="M395.5,500.8 C395.1,501.1 394.5,501.7 394.0,501.6 C393.4,501.6 392.6,500.9 392.2,500.4 C391.8,499.9 391.6,499.1 391.6,498.5 C391.6,497.9 391.7,497.2 392.1,496.9 C392.5,496.6 393.2,496.6 393.8,496.7 C394.3,496.8 395.0,497.1 395.4,497.5 C395.9,498.0 396.4,498.8 396.4,499.3 C396.4,499.9 395.9,500.4 395.5,500.8 Z"/>
<path d="M538.9,375.0 C538.5,374.8 538.3,374.2 538.2,373.6 C538.1,373.0 537.9,372.2 538.2,371.5 C538.5,370.7 539.2,369.6 539.7,369.1 C540.3,368.7 541.3,368.7 541.7,369.0 C542.1,369.3 542.2,370.2 542.3,370.9 C542.4,371.7 542.6,372.8 542.3,373.4 C542.0,374.0 541.0,374.5 540.4,374.7 C539.8,375.0 539.3,375.2 538.9,375.0 Z"/>
<path d="M534.8,355.7 C534.4,355.5 534.1,355.2 533.9,354.8 C533.8,354.4 533.7,353.9 533.8,353.4 C533.9,352.9 534.1,352.1 534.5,351.8 C534.8,351.5 535.6,351.3 536.0,351.4 C536.4,351.5 536.8,352.1 537.0,352.6 C537.2,353.1 537.4,353.8 537.3,354.3 C537.2,354.8 536.6,355.4 536.1,355.6 C535.7,355.9 535.2,355.8 534.8,355.7 Z"/>
<path d="M550.9,499.9 C550.4,499.9 549.9,498.8 549.7,498.0 C549.5,497.3 549.5,496.1 549.7,495.2 C549.9,494.4 550.5,493.7 551.0,493.1 C551.5,492.6 552.1,492.1 552.6,492.1 C553.0,492.2 553.5,492.8 553.8,493.5 C554.0,494.2 554.3,495.4 554.1,496.2 C553.9,497.0 553.1,497.7 552.6,498.3 C552.1,498.9 551.3,499.9 550.9,499.9 Z"/>
<path d="M485.6,523.0 C485.3,522.6 484.9,521.8 485.2,521.3 C485.5,520.9 486.6,520.5 487.3,520.1 C488.0,519.8 488.8,519.3 489.3,519.4 C489.9,519.4 490.3,520.0 490.5,520.4 C490.7,520.9 491.0,521.5 490.8,522.0 C490.6,522.6 489.7,523.3 489.0,523.6 C488.4,523.9 487.6,523.7 487.0,523.6 C486.4,523.5 485.9,523.4 485.6,523.0 Z"/>
<path d="M404.2,408.2 C403.8,408.1 403.4,407.5 403.2,407.0 C403.0,406.5 403.1,406.0 403.2,405.5 C403.3,405.0 403.6,404.3 404.0,404.0 C404.4,403.8 405.3,403.8 405.8,404.0 C406.2,404.2 406.5,404.8 406.7,405.3 C406.9,405.8 407.2,406.4 407.0,406.9 C406.9,407.3 406.2,407.5 405.7,407.7 C405.3,408.0 404.6,408.4 404.2,408.2 Z"/>
<path d="M309.8,310.1 C309.5,310.3 308.9,310.1 308.3,310.0 C307.8,309.9 307.1,309.8 306.7,309.4 C306.2,308.9 305.6,308.0 305.5,307.5 C305.5,306.9 305.8,306.2 306.2,306.0 C306.6,305.8 307.3,306.1 307.8,306.2 C308.3,306.4 309.0,306.5 309.4,306.9 C309.8,307.3 310.2,308.1 310.2,308.6 C310.3,309.1 310.2,309.8 309.8,310.1 Z"/>
<path d="M524.7,376.2 C524.3,376.2 524.0,375.7 523.8,375.3 C523.7,374.9 523.5,374.4 523.6,374.0 C523.7,373.5 524.0,372.9 524.3,372.7 C524.6,372.5 525.1,372.6 525.5,372.6 C525.9,372.7 526.5,372.8 526.6,373.1 C526.8,373.4 526.7,374.2 526.6,374.6 C526.4,375.1 526.2,375.6 525.9,375.8 C525.5,376.1 525.0,376.3 524.7,376.2 Z"/>
<path d="M309.2,336.4 C309.0,336.7 308.6,337.0 308.1,337.0 C307.6,337.0 306.6,336.9 306.1,336.5 C305.5,336.2 305.1,335.3 304.9,334.8 C304.7,334.3 304.8,333.9 305.0,333.6 C305.2,333.3 305.5,333.1 306.0,333.1 C306.6,333.0 307.6,333.2 308.1,333.5 C308.6,333.9 308.9,334.8 309.1,335.2 C309.3,335.7 309.3,336.2 309.2,336.4 Z"/>
<path d="M398.0,468.5 C397.8,468.0 398.0,467.3 398.2,466.7 C398.5,466.1 398.9,465.2 399.6,464.8 C400.2,464.5 401.4,464.3 402.0,464.5 C402.6,464.6 402.9,465.2 403.2,465.6 C403.5,466.1 404.2,466.8 403.9,467.3 C403.7,467.9 402.5,468.5 401.8,468.9 C401.0,469.3 400.0,469.8 399.4,469.7 C398.8,469.6 398.2,469.0 398.0,468.5 Z"/>
<path d="M457.4,497.9 C457.1,497.5 456.7,496.9 456.8,496.5 C456.9,496.1 457.6,495.7 457.9,495.5 C458.3,495.3 458.8,495.0 459.1,495.0 C459.5,495.1 460.1,495.3 460.3,495.6 C460.5,495.9 460.6,496.4 460.6,496.9 C460.6,497.3 460.5,498.1 460.1,498.3 C459.8,498.6 459.1,498.7 458.6,498.6 C458.1,498.5 457.7,498.2 457.4,497.9 Z"/>
<path d="M393.2,512.4 C393.0,511.9 392.9,511.2 393.2,510.6 C393.4,510.0 394.0,509.1 394.6,508.8 C395.2,508.5 396.3,508.6 396.9,508.8 C397.5,509.0 398.1,509.5 398.3,510.0 C398.6,510.5 398.7,511.2 398.4,511.8 C398.2,512.4 397.4,513.1 396.7,513.4 C396.1,513.6 395.2,513.6 394.6,513.5 C394.0,513.3 393.5,512.8 393.2,512.4 Z"/>
<path d="M387.3,536.2 C387.1,535.9 387.3,535.4 387.5,534.9 C387.6,534.4 387.9,533.9 388.4,533.5 C388.8,533.0 389.7,532.4 390.2,532.3 C390.7,532.3 391.0,532.7 391.2,533.1 C391.4,533.4 391.5,533.8 391.3,534.3 C391.2,534.7 390.8,535.4 390.3,535.8 C389.8,536.2 389.0,536.6 388.5,536.7 C388.0,536.8 387.5,536.5 387.3,536.2 Z"/>
<path d="M307.9,554.0 C307.9,554.4 307.8,555.0 307.5,555.4 C307.2,555.7 306.5,556.1 306.0,556.1 C305.5,556.1 305.0,555.5 304.7,555.2 C304.4,554.8 304.2,554.4 304.2,554.0 C304.1,553.6 304.0,552.9 304.3,552.5 C304.7,552.1 305.5,551.7 306.0,551.8 C306.5,551.8 307.0,552.5 307.3,552.8 C307.6,553.2 307.9,553.6 307.9,554.0 Z"/>
<path d="M508.7,539.0 C508.5,539.6 508.3,540.5 507.7,540.8 C507.1,541.0 505.9,540.7 505.1,540.4 C504.3,540.1 503.2,539.6 502.9,539.0 C502.6,538.5 503.1,537.6 503.3,537.0 C503.6,536.4 503.8,535.6 504.4,535.4 C505.0,535.2 506.1,535.5 506.8,535.7 C507.5,536.0 508.4,536.5 508.8,537.1 C509.1,537.6 508.9,538.4 508.7,539.0 Z"/>
<path d="M540.2,539.9 C540.3,540.9 539.5,542.4 538.6,543.3 C537.7,544.3 536.3,545.6 534.9,545.9 C533.4,546.2 531.2,545.9 530.0,545.2 C528.9,544.6 528.2,543.2 528.0,542.1 C527.8,540.9 527.9,539.2 528.8,538.4 C529.7,537.6 531.9,537.4 533.3,537.2 C534.8,537.0 536.4,536.8 537.5,537.3 C538.6,537.7 540.0,538.9 540.2,539.9 Z"/>
<path d="M536.7,528.0 C536.7,528.6 536.6,529.5 536.2,529.8 C535.7,530.2 534.8,530.1 534.0,530.1 C533.2,530.1 532.1,530.3 531.6,530.0 C531.2,529.6 531.2,528.6 531.2,528.0 C531.2,527.4 531.3,526.6 531.7,526.1 C532.2,525.6 533.2,525.2 534.0,525.2 C534.8,525.2 535.9,525.5 536.4,526.0 C536.9,526.5 536.8,527.4 536.7,528.0 Z"/></g>

<!-- roots -->
<g clip-path="url(#cA)">
<path d="M356.0,296.0 C353.0,300.2 353.2,305.2 352.0,310.0 C350.8,314.8 349.9,320.0 349.0,325.0 C348.1,330.0 348.0,335.0 346.5,340.0 C345.0,345.0 342.2,350.0 340.0,355.0 C337.8,360.0 334.8,364.2 333.0,370.0 C331.2,375.8 330.3,383.3 329.0,390.0 C327.7,396.7 326.0,404.2 325.0,410.0 C324.0,415.8 323.4,420.0 323.0,425.0 C322.6,430.0 322.7,434.2 322.7,440.0 C322.7,445.8 322.8,453.3 323.0,460.0 C323.2,466.7 323.2,473.7 324.0,480.0 C324.8,486.3 326.0,493.3 328.0,498.0 C330.0,502.7 332.8,505.6 336.0,508.0 C339.2,510.4 343.5,512.2 347.5,512.5 C351.5,512.8 356.4,512.2 360.0,510.0 C363.6,507.8 366.7,503.0 369.0,499.0 C371.3,495.0 372.5,490.8 374.0,486.0 C375.5,481.2 376.5,475.7 378.0,470.0 C379.5,464.3 381.2,457.8 383.0,452.0 C384.8,446.2 386.7,440.7 388.5,435.0 C390.3,429.3 392.1,423.3 394.0,418.0 C395.9,412.7 398.2,407.3 400.0,403.0 C401.8,398.7 403.0,395.8 405.0,392.0 C407.0,388.2 409.7,384.0 412.0,380.0 C414.3,376.0 417.2,370.5 419.0,368.0 C420.8,365.5 421.8,364.5 423.0,365.0 C424.2,365.5 425.4,367.7 426.0,371.0 C426.6,374.3 426.7,380.2 426.5,385.0 C426.3,389.8 425.8,394.5 425.0,400.0 C424.2,405.5 423.0,412.2 422.0,418.0 C421.0,423.8 420.5,429.2 419.0,435.0 C417.5,440.8 415.2,447.2 413.0,453.0 C410.8,458.8 407.8,465.2 406.0,470.0 C404.2,474.8 403.0,477.8 402.0,482.0 C401.0,486.2 400.2,490.8 400.0,495.0 C399.8,499.2 399.2,503.9 401.0,507.0 C402.8,510.1 407.3,512.2 411.0,513.5 C414.7,514.8 418.8,515.9 423.0,515.0 C427.2,514.1 431.3,511.2 436.0,508.0 C440.7,504.8 446.5,500.7 451.0,496.0 C455.5,491.3 458.8,486.0 463.0,480.0 C467.2,474.0 472.7,465.8 476.0,460.0 C479.3,454.2 480.8,450.0 483.0,445.0 C485.2,440.0 487.2,435.0 489.0,430.0 C490.8,425.0 492.5,420.0 494.0,415.0 C495.5,410.0 496.5,404.5 498.0,400.0 C499.5,395.5 501.5,392.7 503.0,388.0 C504.5,383.3 505.8,378.0 507.0,372.0 C508.2,366.0 509.2,359.0 510.0,352.0 C510.8,345.0 511.5,337.0 512.0,330.0 C512.5,323.0 512.7,315.3 513.0,310.0 C513.3,304.7 516.2,302.2 514.0,298.0 C511.8,293.8 524.0,287.2 500.0,285.0 C476.0,282.8 394.0,283.2 370.0,285.0 C346.0,286.8 359.0,291.8 356.0,296.0 Z" fill="#ecd6e2"/>
<g fill="#ec9468"><path d="M430.0,366.0 L573.0,362.5 L573.0,369.5 Z M430.0,366.7 L572.6,376.7 L571.9,383.8 Z M429.9,367.3 L570.9,390.9 L569.6,397.8 Z M429.7,368.0 L567.9,404.9 L565.9,411.6 Z M429.5,368.6 L563.5,418.5 L560.9,425.0 Z M429.2,369.2 L557.9,431.6 L554.7,437.9 Z M428.9,369.8 L551.1,444.1 L547.2,450.0 Z M428.5,370.3 L543.1,455.9 L538.7,461.5 Z M428.1,370.8 L534.0,466.9 L529.1,472.0 Z M427.6,371.3 L523.9,477.0 L518.5,481.6 Z M427.1,371.7 L512.9,486.1 L507.1,490.2 Z M426.5,372.1 L501.0,494.1 L494.9,497.6 Z M425.9,372.4 L488.5,500.9 L482.1,503.9 Z M425.3,372.6 L475.4,506.6 L468.7,508.9 Z M424.7,372.8 L461.8,510.9 L454.9,512.6 Z M424.0,372.9 L447.8,513.9 L440.8,514.9 Z M423.3,373.0 L433.7,515.6 L426.6,516.0 Z M422.7,373.0 L419.4,516.0 L412.3,515.6 Z M422.0,372.9 L405.2,514.9 L398.2,513.9 Z M421.3,372.8 L391.1,512.6 L384.2,510.9 Z M420.7,372.6 L377.3,508.9 L370.6,506.6 Z M420.1,372.4 L363.9,503.9 L357.5,500.9 Z M419.5,372.1 L351.1,497.6 L345.0,494.1 Z M418.9,371.7 L338.9,490.2 L333.1,486.1 Z M418.4,371.3 L327.5,481.6 L322.1,477.0 Z M417.9,370.8 L316.9,472.0 L312.0,466.9 Z M417.5,370.3 L307.3,461.5 L302.9,455.9 Z M417.1,369.8 L298.8,450.0 L294.9,444.1 Z M416.8,369.2 L291.3,437.9 L288.1,431.6 Z M416.5,368.6 L285.1,425.0 L282.5,418.5 Z M416.3,368.0 L280.1,411.6 L278.1,404.9 Z M416.1,367.3 L276.4,397.8 L275.1,390.9 Z M416.0,366.7 L274.1,383.8 L273.4,376.7 Z M416.0,366.0 L273.0,369.5 L273.0,362.5 Z M416.0,365.3 L273.4,355.3 L274.1,348.2 Z M416.1,364.7 L275.1,341.1 L276.4,334.2 Z M416.3,364.0 L278.1,327.1 L280.1,320.4 Z M416.5,363.4 L282.5,313.5 L285.1,307.0 Z M416.8,362.8 L288.1,300.4 L291.3,294.1 Z M417.1,362.2 L294.9,287.9 L298.8,282.0 Z M417.5,361.7 L302.9,276.1 L307.3,270.5 Z M417.9,361.2 L312.0,265.1 L316.9,260.0 Z M418.4,360.7 L322.1,255.0 L327.5,250.4 Z M418.9,360.3 L333.1,245.9 L338.9,241.8 Z M419.5,359.9 L345.0,237.9 L351.1,234.4 Z M420.1,359.6 L357.5,231.1 L363.9,228.1 Z M420.7,359.4 L370.6,225.4 L377.3,223.1 Z M421.3,359.2 L384.2,221.1 L391.1,219.4 Z M422.0,359.1 L398.2,218.1 L405.2,217.1 Z M422.7,359.0 L412.3,216.4 L419.4,216.0 Z M423.3,359.0 L426.6,216.0 L433.7,216.4 Z M424.0,359.1 L440.8,217.1 L447.8,218.1 Z M424.7,359.2 L454.9,219.4 L461.8,221.1 Z M425.3,359.4 L468.7,223.1 L475.4,225.4 Z M425.9,359.6 L482.1,228.1 L488.5,231.1 Z M426.5,359.9 L494.9,234.4 L501.0,237.9 Z M427.1,360.3 L507.1,241.8 L512.9,245.9 Z M427.6,360.7 L518.5,250.4 L523.9,255.0 Z M428.1,361.2 L529.1,260.0 L534.0,265.1 Z M428.5,361.7 L538.7,270.5 L543.1,276.1 Z M428.9,362.2 L547.2,282.0 L551.1,287.9 Z M429.2,362.8 L554.7,294.1 L557.9,300.4 Z M429.5,363.4 L560.9,307.0 L563.5,313.5 Z M429.7,364.0 L565.9,320.4 L567.9,327.1 Z M429.9,364.7 L569.6,334.2 L570.9,341.1 Z M430.0,365.3 L571.9,348.2 L572.6,355.3 Z"/></g>
<path d="M470.0,290.0 L468.0,312.0 L470.0,330.0 L472.0,350.0 L473.0,380.0 L471.0,405.0 L464.0,430.0 L456.0,450.0 L444.0,472.0 L428.0,492.0 L420.0,505.0 L420.0,530.0 L540.0,530.0 L540.0,290.0 Z" fill="#ecd2dc"/>
<g stroke="#eb9670" stroke-width="1.5"><line x1="470.0" y1="311.8" x2="507.8" y2="307.6"/><line x1="470.3" y1="314.4" x2="508.0" y2="310.2"/><line x1="470.6" y1="316.9" x2="508.3" y2="312.7"/><line x1="470.8" y1="319.5" x2="508.6" y2="315.3"/><line x1="471.1" y1="322.1" x2="508.9" y2="317.9"/><line x1="471.4" y1="324.6" x2="509.2" y2="320.4"/><line x1="471.7" y1="327.2" x2="509.5" y2="323.0"/><line x1="472.0" y1="329.8" x2="509.8" y2="326.0"/><line x1="472.3" y1="332.7" x2="510.1" y2="328.9"/><line x1="472.6" y1="335.5" x2="510.4" y2="331.7"/><line x1="472.8" y1="338.4" x2="510.7" y2="334.6"/><line x1="473.1" y1="341.2" x2="510.9" y2="337.4"/><line x1="473.4" y1="344.1" x2="511.2" y2="340.3"/><line x1="473.7" y1="346.9" x2="511.5" y2="343.2"/><line x1="474.0" y1="349.9" x2="512.0" y2="348.7"/><line x1="474.1" y1="352.7" x2="512.1" y2="351.4"/><line x1="474.2" y1="355.4" x2="512.2" y2="354.1"/><line x1="474.3" y1="358.1" x2="512.3" y2="356.8"/><line x1="474.4" y1="360.8" x2="512.3" y2="359.6"/><line x1="474.5" y1="363.6" x2="512.4" y2="362.3"/><line x1="474.5" y1="366.3" x2="512.5" y2="365.0"/><line x1="474.6" y1="369.0" x2="512.6" y2="367.8"/><line x1="474.7" y1="371.8" x2="512.7" y2="370.5"/><line x1="474.8" y1="374.5" x2="512.8" y2="373.2"/><line x1="474.9" y1="377.2" x2="512.9" y2="375.9"/><line x1="475.0" y1="380.2" x2="512.9" y2="383.2"/><line x1="474.8" y1="382.9" x2="512.7" y2="386.0"/><line x1="474.5" y1="385.7" x2="512.4" y2="388.7"/><line x1="474.3" y1="388.5" x2="512.2" y2="391.5"/><line x1="474.1" y1="391.3" x2="512.0" y2="394.3"/><line x1="473.9" y1="394.0" x2="511.8" y2="397.1"/><line x1="473.7" y1="396.8" x2="511.5" y2="399.9"/><line x1="473.4" y1="399.6" x2="511.3" y2="402.6"/><line x1="473.2" y1="402.4" x2="511.1" y2="405.4"/><line x1="472.9" y1="405.5" x2="509.5" y2="415.8"/><line x1="472.2" y1="408.0" x2="508.8" y2="418.3"/><line x1="471.5" y1="410.5" x2="508.1" y2="420.8"/><line x1="470.8" y1="413.0" x2="507.4" y2="423.3"/><line x1="470.1" y1="415.5" x2="506.7" y2="425.8"/><line x1="469.4" y1="418.0" x2="506.0" y2="428.3"/><line x1="468.7" y1="420.5" x2="505.3" y2="430.8"/><line x1="468.0" y1="423.0" x2="504.6" y2="433.3"/><line x1="467.3" y1="425.5" x2="503.9" y2="435.8"/><line x1="466.6" y1="428.0" x2="503.2" y2="438.3"/><line x1="465.9" y1="430.7" x2="501.1" y2="444.9"/><line x1="464.9" y1="433.2" x2="500.1" y2="447.4"/><line x1="463.9" y1="435.7" x2="499.1" y2="449.9"/><line x1="462.9" y1="438.2" x2="498.1" y2="452.4"/><line x1="461.9" y1="440.7" x2="497.1" y2="454.9"/><line x1="460.9" y1="443.2" x2="496.1" y2="457.4"/><line x1="459.9" y1="445.7" x2="495.1" y2="459.9"/><line x1="458.9" y1="448.2" x2="494.1" y2="462.4"/><line x1="457.8" y1="451.0" x2="491.1" y2="469.2"/><line x1="456.4" y1="453.4" x2="489.8" y2="471.6"/><line x1="455.1" y1="455.8" x2="488.4" y2="474.0"/><line x1="453.8" y1="458.3" x2="487.1" y2="476.5"/><line x1="452.4" y1="460.7" x2="485.8" y2="478.9"/><line x1="451.1" y1="463.2" x2="484.4" y2="481.4"/><line x1="449.8" y1="465.6" x2="483.1" y2="483.8"/><line x1="448.4" y1="468.1" x2="481.8" y2="486.3"/><line x1="447.1" y1="470.5" x2="480.4" y2="488.7"/><line x1="445.6" y1="473.2" x2="475.2" y2="497.0"/><line x1="443.8" y1="475.5" x2="473.5" y2="499.2"/><line x1="442.0" y1="477.7" x2="471.7" y2="501.4"/><line x1="440.2" y1="479.9" x2="469.9" y2="503.7"/><line x1="438.5" y1="482.1" x2="468.1" y2="505.9"/><line x1="436.7" y1="484.4" x2="466.3" y2="508.1"/><line x1="434.9" y1="486.6" x2="464.6" y2="510.3"/><line x1="433.1" y1="488.8" x2="462.8" y2="512.5"/><line x1="431.3" y1="491.0" x2="461.0" y2="514.8"/><line x1="429.7" y1="493.0" x2="462.1" y2="513.0"/><line x1="428.4" y1="495.2" x2="460.7" y2="515.1"/><line x1="427.0" y1="497.4" x2="459.4" y2="517.3"/><line x1="425.7" y1="499.5" x2="458.1" y2="519.5"/><line x1="424.4" y1="501.7" x2="456.7" y2="521.6"/><line x1="423.0" y1="503.9" x2="455.4" y2="523.8"/></g>
<path d="M330.0,290.0 L381.0,300.0 L376.0,320.0 L372.0,345.0 L366.0,362.0 L359.0,380.0 L352.0,410.0 L347.0,440.0 L344.0,470.0 L344.0,488.0 L345.0,500.0 L346.0,530.0 L300.0,530.0 L300.0,290.0 Z" fill="url(#oLg)"/>
<g stroke="url(#oLs)" stroke-width="1.4"><line x1="379.1" y1="299.5" x2="351.9" y2="292.7"/><line x1="378.4" y1="302.0" x2="351.3" y2="295.2"/><line x1="377.8" y1="304.5" x2="350.6" y2="297.7"/><line x1="377.2" y1="307.0" x2="350.0" y2="300.2"/><line x1="376.6" y1="309.5" x2="349.4" y2="302.7"/><line x1="375.9" y1="312.0" x2="348.8" y2="305.2"/><line x1="375.3" y1="314.5" x2="348.1" y2="307.7"/><line x1="374.7" y1="317.0" x2="347.5" y2="310.2"/><line x1="374.0" y1="319.7" x2="346.4" y2="315.3"/><line x1="373.6" y1="322.5" x2="345.9" y2="318.0"/><line x1="373.1" y1="325.2" x2="345.5" y2="320.8"/><line x1="372.7" y1="328.0" x2="345.0" y2="323.6"/><line x1="372.2" y1="330.8" x2="344.6" y2="326.4"/><line x1="371.8" y1="333.6" x2="344.2" y2="329.1"/><line x1="371.4" y1="336.4" x2="343.7" y2="331.9"/><line x1="370.9" y1="339.1" x2="343.3" y2="334.7"/><line x1="370.5" y1="341.9" x2="342.8" y2="337.5"/><line x1="370.1" y1="344.3" x2="343.7" y2="335.0"/><line x1="369.3" y1="346.8" x2="342.9" y2="337.4"/><line x1="368.4" y1="349.2" x2="342.0" y2="339.9"/><line x1="367.5" y1="351.6" x2="341.1" y2="342.3"/><line x1="366.7" y1="354.0" x2="340.3" y2="344.7"/><line x1="365.8" y1="356.5" x2="339.4" y2="347.2"/><line x1="365.0" y1="358.9" x2="338.6" y2="349.6"/><line x1="364.1" y1="361.3" x2="338.0" y2="351.1"/><line x1="363.1" y1="363.8" x2="337.0" y2="353.7"/><line x1="362.1" y1="366.4" x2="336.0" y2="356.3"/><line x1="361.1" y1="369.0" x2="335.0" y2="358.8"/><line x1="360.1" y1="371.6" x2="334.0" y2="361.4"/><line x1="359.1" y1="374.1" x2="333.0" y2="364.0"/><line x1="358.1" y1="376.7" x2="332.0" y2="366.6"/><line x1="357.1" y1="379.5" x2="329.8" y2="373.2"/><line x1="356.4" y1="382.3" x2="329.1" y2="375.9"/><line x1="355.8" y1="385.0" x2="328.5" y2="378.6"/><line x1="355.1" y1="387.7" x2="327.9" y2="381.4"/><line x1="354.5" y1="390.5" x2="327.2" y2="384.1"/><line x1="353.9" y1="393.2" x2="326.6" y2="386.8"/><line x1="353.2" y1="395.9" x2="326.0" y2="389.5"/><line x1="352.6" y1="398.6" x2="325.3" y2="392.3"/><line x1="352.0" y1="401.4" x2="324.7" y2="395.0"/><line x1="351.3" y1="404.1" x2="324.1" y2="397.7"/><line x1="350.7" y1="406.8" x2="323.4" y2="400.5"/><line x1="350.0" y1="409.7" x2="322.4" y2="405.1"/><line x1="349.6" y1="412.4" x2="322.0" y2="407.8"/><line x1="349.1" y1="415.1" x2="321.5" y2="410.5"/><line x1="348.7" y1="417.9" x2="321.0" y2="413.2"/><line x1="348.2" y1="420.6" x2="320.6" y2="416.0"/><line x1="347.8" y1="423.3" x2="320.1" y2="418.7"/><line x1="347.3" y1="426.0" x2="319.7" y2="421.4"/><line x1="346.8" y1="428.8" x2="319.2" y2="424.2"/><line x1="346.4" y1="431.5" x2="318.8" y2="426.9"/><line x1="345.9" y1="434.2" x2="318.3" y2="429.6"/><line x1="345.5" y1="436.9" x2="317.9" y2="432.3"/><line x1="345.0" y1="439.8" x2="317.1" y2="437.0"/><line x1="344.7" y1="442.5" x2="316.9" y2="439.7"/><line x1="344.5" y1="445.3" x2="316.6" y2="442.5"/><line x1="344.2" y1="448.0" x2="316.3" y2="445.2"/><line x1="343.9" y1="450.7" x2="316.1" y2="447.9"/><line x1="343.6" y1="453.4" x2="315.8" y2="450.7"/><line x1="343.4" y1="456.2" x2="315.5" y2="453.4"/><line x1="343.1" y1="458.9" x2="315.2" y2="456.1"/><line x1="342.8" y1="461.6" x2="315.0" y2="458.8"/><line x1="342.6" y1="464.3" x2="314.7" y2="461.6"/><line x1="342.3" y1="467.1" x2="314.4" y2="464.3"/><line x1="342.0" y1="470.0" x2="314.0" y2="470.0"/><line x1="342.0" y1="472.6" x2="314.0" y2="472.6"/><line x1="342.0" y1="475.1" x2="314.0" y2="475.1"/><line x1="342.0" y1="477.7" x2="314.0" y2="477.7"/><line x1="342.0" y1="480.3" x2="314.0" y2="480.3"/><line x1="342.0" y1="482.9" x2="314.0" y2="482.9"/><line x1="342.0" y1="485.4" x2="314.0" y2="485.4"/><line x1="342.0" y1="488.2" x2="314.1" y2="490.5"/><line x1="342.3" y1="491.2" x2="314.4" y2="493.5"/><line x1="342.5" y1="494.2" x2="314.6" y2="496.5"/><line x1="342.8" y1="497.2" x2="314.9" y2="499.5"/></g>
<g clip-path="url(#cLlow)"><rect x="300" y="300" width="200" height="240" fill="#e9a252"/><g stroke="#f6c88c" stroke-width="1.4"><line x1="397.9" y1="322.5" x2="425.0" y2="329.6"/><line x1="397.3" y1="325.1" x2="424.4" y2="332.1"/><line x1="396.6" y1="327.6" x2="423.7" y2="334.7"/><line x1="395.9" y1="330.2" x2="423.0" y2="337.2"/><line x1="395.3" y1="332.7" x2="422.4" y2="339.8"/><line x1="394.6" y1="335.3" x2="421.7" y2="342.4"/><line x1="393.9" y1="337.8" x2="421.0" y2="344.9"/><line x1="393.3" y1="340.4" x2="420.4" y2="347.5"/><line x1="392.6" y1="342.9" x2="419.7" y2="350.0"/><line x1="391.8" y1="345.9" x2="417.1" y2="357.8"/><line x1="390.7" y1="348.3" x2="416.0" y2="360.2"/><line x1="389.5" y1="350.7" x2="414.9" y2="362.6"/><line x1="388.4" y1="353.1" x2="413.7" y2="365.1"/><line x1="387.2" y1="355.6" x2="412.6" y2="367.5"/><line x1="386.1" y1="358.0" x2="411.4" y2="369.9"/><line x1="385.0" y1="360.4" x2="410.3" y2="372.3"/><line x1="383.9" y1="362.7" x2="410.2" y2="372.2"/><line x1="383.0" y1="365.3" x2="409.3" y2="374.8"/><line x1="382.0" y1="367.8" x2="408.4" y2="377.3"/><line x1="381.1" y1="370.4" x2="407.4" y2="379.9"/><line x1="380.2" y1="373.0" x2="406.5" y2="382.5"/><line x1="379.2" y1="375.5" x2="405.6" y2="385.0"/><line x1="378.3" y1="378.1" x2="404.6" y2="387.6"/><line x1="377.4" y1="380.7" x2="403.8" y2="389.9"/><line x1="376.5" y1="383.2" x2="402.9" y2="392.4"/><line x1="375.6" y1="385.7" x2="402.1" y2="394.9"/><line x1="374.8" y1="388.2" x2="401.2" y2="397.4"/><line x1="373.9" y1="390.7" x2="400.3" y2="399.9"/><line x1="373.0" y1="393.2" x2="399.4" y2="402.4"/><line x1="372.1" y1="395.7" x2="398.6" y2="404.9"/><line x1="371.3" y1="398.2" x2="397.7" y2="407.4"/><line x1="370.4" y1="400.7" x2="396.8" y2="409.9"/><line x1="369.5" y1="403.2" x2="395.9" y2="412.4"/><line x1="368.6" y1="405.7" x2="395.1" y2="414.9"/><line x1="367.8" y1="408.2" x2="394.2" y2="417.4"/><line x1="366.9" y1="410.6" x2="393.5" y2="419.5"/><line x1="366.1" y1="413.1" x2="392.6" y2="422.0"/><line x1="365.2" y1="415.6" x2="391.8" y2="424.5"/><line x1="364.4" y1="418.1" x2="391.0" y2="427.0"/><line x1="363.6" y1="420.6" x2="390.1" y2="429.5"/><line x1="362.7" y1="423.1" x2="389.3" y2="432.0"/><line x1="361.9" y1="425.6" x2="388.5" y2="434.5"/><line x1="361.1" y1="428.1" x2="387.6" y2="437.0"/><line x1="360.2" y1="430.6" x2="386.8" y2="439.5"/><line x1="359.4" y1="433.1" x2="386.0" y2="442.0"/><line x1="358.6" y1="435.6" x2="385.1" y2="444.5"/><line x1="357.7" y1="438.1" x2="384.3" y2="447.0"/><line x1="357.0" y1="440.3" x2="384.6" y2="444.9"/><line x1="356.5" y1="443.1" x2="384.1" y2="447.7"/><line x1="356.1" y1="445.8" x2="383.7" y2="450.4"/><line x1="355.6" y1="448.5" x2="383.2" y2="453.1"/><line x1="355.2" y1="451.2" x2="382.8" y2="455.8"/><line x1="354.7" y1="454.0" x2="382.3" y2="458.6"/><line x1="354.2" y1="456.7" x2="381.9" y2="461.3"/><line x1="353.8" y1="459.4" x2="381.4" y2="464.0"/><line x1="353.3" y1="462.1" x2="381.0" y2="466.8"/><line x1="352.9" y1="464.9" x2="380.5" y2="469.5"/><line x1="352.4" y1="467.6" x2="380.0" y2="472.2"/><line x1="352.0" y1="470.2" x2="379.8" y2="473.3"/><line x1="351.7" y1="472.8" x2="379.5" y2="475.9"/><line x1="351.4" y1="475.4" x2="379.2" y2="478.5"/><line x1="351.1" y1="477.9" x2="379.0" y2="481.0"/><line x1="350.8" y1="480.5" x2="378.7" y2="483.6"/><line x1="350.6" y1="483.1" x2="378.4" y2="486.2"/><line x1="350.3" y1="485.6" x2="378.1" y2="488.7"/><line x1="350.0" y1="488.2" x2="377.9" y2="490.5"/><line x1="349.7" y1="491.2" x2="377.6" y2="493.5"/><line x1="349.5" y1="494.2" x2="377.4" y2="496.5"/><line x1="349.2" y1="497.2" x2="377.1" y2="499.5"/><line x1="379.1" y1="299.5" x2="351.9" y2="292.7"/><line x1="378.4" y1="302.0" x2="351.3" y2="295.2"/><line x1="377.8" y1="304.5" x2="350.6" y2="297.7"/><line x1="377.2" y1="307.0" x2="350.0" y2="300.2"/><line x1="376.6" y1="309.5" x2="349.4" y2="302.7"/><line x1="375.9" y1="312.0" x2="348.8" y2="305.2"/><line x1="375.3" y1="314.5" x2="348.1" y2="307.7"/><line x1="374.7" y1="317.0" x2="347.5" y2="310.2"/><line x1="374.0" y1="319.7" x2="346.4" y2="315.3"/><line x1="373.6" y1="322.5" x2="345.9" y2="318.0"/><line x1="373.1" y1="325.2" x2="345.5" y2="320.8"/><line x1="372.7" y1="328.0" x2="345.0" y2="323.6"/><line x1="372.2" y1="330.8" x2="344.6" y2="326.4"/><line x1="371.8" y1="333.6" x2="344.2" y2="329.1"/><line x1="371.4" y1="336.4" x2="343.7" y2="331.9"/><line x1="370.9" y1="339.1" x2="343.3" y2="334.7"/><line x1="370.5" y1="341.9" x2="342.8" y2="337.5"/><line x1="370.1" y1="344.3" x2="343.7" y2="335.0"/><line x1="369.3" y1="346.8" x2="342.9" y2="337.4"/><line x1="368.4" y1="349.2" x2="342.0" y2="339.9"/><line x1="367.5" y1="351.6" x2="341.1" y2="342.3"/><line x1="366.7" y1="354.0" x2="340.3" y2="344.7"/><line x1="365.8" y1="356.5" x2="339.4" y2="347.2"/><line x1="365.0" y1="358.9" x2="338.6" y2="349.6"/><line x1="364.1" y1="361.3" x2="338.0" y2="351.1"/><line x1="363.1" y1="363.8" x2="337.0" y2="353.7"/><line x1="362.1" y1="366.4" x2="336.0" y2="356.3"/><line x1="361.1" y1="369.0" x2="335.0" y2="358.8"/><line x1="360.1" y1="371.6" x2="334.0" y2="361.4"/><line x1="359.1" y1="374.1" x2="333.0" y2="364.0"/><line x1="358.1" y1="376.7" x2="332.0" y2="366.6"/><line x1="357.1" y1="379.5" x2="329.8" y2="373.2"/><line x1="356.4" y1="382.3" x2="329.1" y2="375.9"/><line x1="355.8" y1="385.0" x2="328.5" y2="378.6"/><line x1="355.1" y1="387.7" x2="327.9" y2="381.4"/><line x1="354.5" y1="390.5" x2="327.2" y2="384.1"/><line x1="353.9" y1="393.2" x2="326.6" y2="386.8"/><line x1="353.2" y1="395.9" x2="326.0" y2="389.5"/><line x1="352.6" y1="398.6" x2="325.3" y2="392.3"/><line x1="352.0" y1="401.4" x2="324.7" y2="395.0"/><line x1="351.3" y1="404.1" x2="324.1" y2="397.7"/><line x1="350.7" y1="406.8" x2="323.4" y2="400.5"/><line x1="350.0" y1="409.7" x2="322.4" y2="405.1"/><line x1="349.6" y1="412.4" x2="322.0" y2="407.8"/><line x1="349.1" y1="415.1" x2="321.5" y2="410.5"/><line x1="348.7" y1="417.9" x2="321.0" y2="413.2"/><line x1="348.2" y1="420.6" x2="320.6" y2="416.0"/><line x1="347.8" y1="423.3" x2="320.1" y2="418.7"/><line x1="347.3" y1="426.0" x2="319.7" y2="421.4"/><line x1="346.8" y1="428.8" x2="319.2" y2="424.2"/><line x1="346.4" y1="431.5" x2="318.8" y2="426.9"/><line x1="345.9" y1="434.2" x2="318.3" y2="429.6"/><line x1="345.5" y1="436.9" x2="317.9" y2="432.3"/><line x1="345.0" y1="439.8" x2="317.1" y2="437.0"/><line x1="344.7" y1="442.5" x2="316.9" y2="439.7"/><line x1="344.5" y1="445.3" x2="316.6" y2="442.5"/><line x1="344.2" y1="448.0" x2="316.3" y2="445.2"/><line x1="343.9" y1="450.7" x2="316.1" y2="447.9"/><line x1="343.6" y1="453.4" x2="315.8" y2="450.7"/><line x1="343.4" y1="456.2" x2="315.5" y2="453.4"/><line x1="343.1" y1="458.9" x2="315.2" y2="456.1"/><line x1="342.8" y1="461.6" x2="315.0" y2="458.8"/><line x1="342.6" y1="464.3" x2="314.7" y2="461.6"/><line x1="342.3" y1="467.1" x2="314.4" y2="464.3"/><line x1="342.0" y1="470.0" x2="314.0" y2="470.0"/><line x1="342.0" y1="472.6" x2="314.0" y2="472.6"/><line x1="342.0" y1="475.1" x2="314.0" y2="475.1"/><line x1="342.0" y1="477.7" x2="314.0" y2="477.7"/><line x1="342.0" y1="480.3" x2="314.0" y2="480.3"/><line x1="342.0" y1="482.9" x2="314.0" y2="482.9"/><line x1="342.0" y1="485.4" x2="314.0" y2="485.4"/><line x1="342.0" y1="488.2" x2="314.1" y2="490.5"/><line x1="342.3" y1="491.2" x2="314.4" y2="493.5"/><line x1="342.5" y1="494.2" x2="314.6" y2="496.5"/><line x1="342.8" y1="497.2" x2="314.9" y2="499.5"/></g></g>
<g clip-path="url(#cRlow)"><rect x="300" y="300" width="200" height="240" fill="#e9a252"/><g stroke="#f6c88c" stroke-width="1.4"><line x1="444.1" y1="318.5" x2="417.1" y2="325.9"/><line x1="444.8" y1="321.3" x2="417.8" y2="328.6"/><line x1="445.6" y1="324.0" x2="418.6" y2="331.4"/><line x1="446.3" y1="326.8" x2="419.3" y2="334.1"/><line x1="447.1" y1="329.5" x2="420.1" y2="336.9"/><line x1="447.8" y1="332.3" x2="420.8" y2="339.6"/><line x1="448.6" y1="335.0" x2="421.6" y2="342.4"/><line x1="449.3" y1="337.8" x2="422.3" y2="345.1"/><line x1="450.0" y1="340.2" x2="422.1" y2="343.0"/><line x1="450.3" y1="342.9" x2="422.4" y2="345.7"/><line x1="450.5" y1="345.5" x2="422.7" y2="348.3"/><line x1="450.8" y1="348.2" x2="422.9" y2="351.0"/><line x1="451.1" y1="350.9" x2="423.2" y2="353.7"/><line x1="451.3" y1="353.5" x2="423.5" y2="356.3"/><line x1="451.6" y1="356.2" x2="423.7" y2="359.0"/><line x1="451.9" y1="358.9" x2="424.0" y2="361.7"/><line x1="452.1" y1="361.5" x2="424.3" y2="364.3"/><line x1="452.4" y1="364.2" x2="424.5" y2="367.0"/><line x1="452.7" y1="366.9" x2="424.8" y2="369.7"/><line x1="452.9" y1="369.5" x2="425.1" y2="372.3"/><line x1="453.2" y1="372.2" x2="425.3" y2="375.0"/><line x1="453.5" y1="374.9" x2="425.6" y2="377.7"/><line x1="453.7" y1="377.5" x2="425.9" y2="380.3"/><line x1="454.0" y1="380.0" x2="426.0" y2="379.3"/><line x1="453.9" y1="382.6" x2="425.9" y2="381.9"/><line x1="453.9" y1="385.3" x2="425.9" y2="384.6"/><line x1="453.8" y1="388.0" x2="425.8" y2="387.3"/><line x1="453.7" y1="390.6" x2="425.7" y2="389.9"/><line x1="453.7" y1="393.3" x2="425.7" y2="392.6"/><line x1="453.6" y1="396.0" x2="425.6" y2="395.3"/><line x1="453.5" y1="398.6" x2="425.5" y2="397.9"/><line x1="453.5" y1="401.3" x2="425.5" y2="400.6"/><line x1="453.4" y1="404.0" x2="425.4" y2="403.3"/><line x1="453.3" y1="406.6" x2="425.3" y2="405.9"/><line x1="453.3" y1="409.3" x2="425.3" y2="408.6"/><line x1="453.2" y1="412.0" x2="425.2" y2="411.3"/><line x1="453.1" y1="414.6" x2="425.1" y2="413.9"/><line x1="453.1" y1="417.3" x2="425.1" y2="416.6"/><line x1="453.1" y1="419.5" x2="426.1" y2="411.9"/><line x1="452.4" y1="422.0" x2="425.4" y2="414.4"/><line x1="451.7" y1="424.5" x2="424.7" y2="416.9"/><line x1="451.0" y1="427.0" x2="424.0" y2="419.4"/><line x1="450.3" y1="429.5" x2="423.3" y2="421.9"/><line x1="449.6" y1="432.0" x2="422.6" y2="424.4"/><line x1="448.9" y1="434.5" x2="421.9" y2="426.9"/><line x1="448.2" y1="437.0" x2="421.2" y2="429.4"/><line x1="447.5" y1="439.5" x2="420.5" y2="431.9"/><line x1="446.8" y1="442.0" x2="419.8" y2="434.4"/><line x1="446.1" y1="444.3" x2="420.1" y2="433.9"/><line x1="445.1" y1="446.8" x2="419.1" y2="436.4"/><line x1="444.1" y1="449.3" x2="418.1" y2="438.9"/><line x1="443.1" y1="451.8" x2="417.1" y2="441.4"/><line x1="442.1" y1="454.3" x2="416.1" y2="443.9"/><line x1="441.1" y1="456.8" x2="415.1" y2="446.4"/><line x1="440.1" y1="459.3" x2="414.1" y2="448.9"/><line x1="439.1" y1="461.8" x2="413.1" y2="451.4"/><line x1="438.1" y1="464.3" x2="412.1" y2="453.9"/><line x1="437.1" y1="466.8" x2="411.1" y2="456.4"/><line x1="436.3" y1="468.9" x2="412.8" y2="453.7"/><line x1="434.9" y1="471.1" x2="411.4" y2="455.9"/><line x1="433.4" y1="473.4" x2="410.0" y2="458.1"/><line x1="432.0" y1="475.6" x2="408.5" y2="460.3"/><line x1="430.5" y1="477.8" x2="407.1" y2="462.5"/><line x1="429.1" y1="480.0" x2="405.6" y2="464.8"/><line x1="427.7" y1="482.2" x2="404.2" y2="467.0"/><line x1="426.2" y1="484.5" x2="402.7" y2="469.2"/><line x1="424.8" y1="486.7" x2="401.3" y2="471.4"/><line x1="423.3" y1="488.9" x2="400.0" y2="473.4"/><line x1="421.7" y1="491.3" x2="398.4" y2="475.8"/><line x1="420.1" y1="493.7" x2="396.8" y2="478.2"/><line x1="418.5" y1="496.1" x2="395.2" y2="480.6"/><line x1="416.9" y1="498.5" x2="393.6" y2="483.0"/><line x1="470.0" y1="311.8" x2="507.8" y2="307.6"/><line x1="470.3" y1="314.4" x2="508.0" y2="310.2"/><line x1="470.6" y1="316.9" x2="508.3" y2="312.7"/><line x1="470.8" y1="319.5" x2="508.6" y2="315.3"/><line x1="471.1" y1="322.1" x2="508.9" y2="317.9"/><line x1="471.4" y1="324.6" x2="509.2" y2="320.4"/><line x1="471.7" y1="327.2" x2="509.5" y2="323.0"/><line x1="472.0" y1="329.8" x2="509.8" y2="326.0"/><line x1="472.3" y1="332.7" x2="510.1" y2="328.9"/><line x1="472.6" y1="335.5" x2="510.4" y2="331.7"/><line x1="472.8" y1="338.4" x2="510.7" y2="334.6"/><line x1="473.1" y1="341.2" x2="510.9" y2="337.4"/><line x1="473.4" y1="344.1" x2="511.2" y2="340.3"/><line x1="473.7" y1="346.9" x2="511.5" y2="343.2"/><line x1="474.0" y1="349.9" x2="512.0" y2="348.7"/><line x1="474.1" y1="352.7" x2="512.1" y2="351.4"/><line x1="474.2" y1="355.4" x2="512.2" y2="354.1"/><line x1="474.3" y1="358.1" x2="512.3" y2="356.8"/><line x1="474.4" y1="360.8" x2="512.3" y2="359.6"/><line x1="474.5" y1="363.6" x2="512.4" y2="362.3"/><line x1="474.5" y1="366.3" x2="512.5" y2="365.0"/><line x1="474.6" y1="369.0" x2="512.6" y2="367.8"/><line x1="474.7" y1="371.8" x2="512.7" y2="370.5"/><line x1="474.8" y1="374.5" x2="512.8" y2="373.2"/><line x1="474.9" y1="377.2" x2="512.9" y2="375.9"/><line x1="475.0" y1="380.2" x2="512.9" y2="383.2"/><line x1="474.8" y1="382.9" x2="512.7" y2="386.0"/><line x1="474.5" y1="385.7" x2="512.4" y2="388.7"/><line x1="474.3" y1="388.5" x2="512.2" y2="391.5"/><line x1="474.1" y1="391.3" x2="512.0" y2="394.3"/><line x1="473.9" y1="394.0" x2="511.8" y2="397.1"/><line x1="473.7" y1="396.8" x2="511.5" y2="399.9"/><line x1="473.4" y1="399.6" x2="511.3" y2="402.6"/><line x1="473.2" y1="402.4" x2="511.1" y2="405.4"/><line x1="472.9" y1="405.5" x2="509.5" y2="415.8"/><line x1="472.2" y1="408.0" x2="508.8" y2="418.3"/><line x1="471.5" y1="410.5" x2="508.1" y2="420.8"/><line x1="470.8" y1="413.0" x2="507.4" y2="423.3"/><line x1="470.1" y1="415.5" x2="506.7" y2="425.8"/><line x1="469.4" y1="418.0" x2="506.0" y2="428.3"/><line x1="468.7" y1="420.5" x2="505.3" y2="430.8"/><line x1="468.0" y1="423.0" x2="504.6" y2="433.3"/><line x1="467.3" y1="425.5" x2="503.9" y2="435.8"/><line x1="466.6" y1="428.0" x2="503.2" y2="438.3"/><line x1="465.9" y1="430.7" x2="501.1" y2="444.9"/><line x1="464.9" y1="433.2" x2="500.1" y2="447.4"/><line x1="463.9" y1="435.7" x2="499.1" y2="449.9"/><line x1="462.9" y1="438.2" x2="498.1" y2="452.4"/><line x1="461.9" y1="440.7" x2="497.1" y2="454.9"/><line x1="460.9" y1="443.2" x2="496.1" y2="457.4"/><line x1="459.9" y1="445.7" x2="495.1" y2="459.9"/><line x1="458.9" y1="448.2" x2="494.1" y2="462.4"/><line x1="457.8" y1="451.0" x2="491.1" y2="469.2"/><line x1="456.4" y1="453.4" x2="489.8" y2="471.6"/><line x1="455.1" y1="455.8" x2="488.4" y2="474.0"/><line x1="453.8" y1="458.3" x2="487.1" y2="476.5"/><line x1="452.4" y1="460.7" x2="485.8" y2="478.9"/><line x1="451.1" y1="463.2" x2="484.4" y2="481.4"/><line x1="449.8" y1="465.6" x2="483.1" y2="483.8"/><line x1="448.4" y1="468.1" x2="481.8" y2="486.3"/><line x1="447.1" y1="470.5" x2="480.4" y2="488.7"/><line x1="445.6" y1="473.2" x2="475.2" y2="497.0"/><line x1="443.8" y1="475.5" x2="473.5" y2="499.2"/><line x1="442.0" y1="477.7" x2="471.7" y2="501.4"/><line x1="440.2" y1="479.9" x2="469.9" y2="503.7"/><line x1="438.5" y1="482.1" x2="468.1" y2="505.9"/><line x1="436.7" y1="484.4" x2="466.3" y2="508.1"/><line x1="434.9" y1="486.6" x2="464.6" y2="510.3"/><line x1="433.1" y1="488.8" x2="462.8" y2="512.5"/><line x1="431.3" y1="491.0" x2="461.0" y2="514.8"/><line x1="429.7" y1="493.0" x2="462.1" y2="513.0"/><line x1="428.4" y1="495.2" x2="460.7" y2="515.1"/><line x1="427.0" y1="497.4" x2="459.4" y2="517.3"/><line x1="425.7" y1="499.5" x2="458.1" y2="519.5"/><line x1="424.4" y1="501.7" x2="456.7" y2="521.6"/><line x1="423.0" y1="503.9" x2="455.4" y2="523.8"/></g></g>
<path d="M356.0,296.0 C353.0,300.2 353.2,305.2 352.0,310.0 C350.8,314.8 349.9,320.0 349.0,325.0 C348.1,330.0 348.0,335.0 346.5,340.0 C345.0,345.0 342.2,350.0 340.0,355.0 C337.8,360.0 334.8,364.2 333.0,370.0 C331.2,375.8 330.3,383.3 329.0,390.0 C327.7,396.7 326.0,404.2 325.0,410.0 C324.0,415.8 323.4,420.0 323.0,425.0 C322.6,430.0 322.7,434.2 322.7,440.0 C322.7,445.8 322.8,453.3 323.0,460.0 C323.2,466.7 323.2,473.7 324.0,480.0 C324.8,486.3 326.0,493.3 328.0,498.0 C330.0,502.7 332.8,505.6 336.0,508.0 C339.2,510.4 343.5,512.2 347.5,512.5 C351.5,512.8 356.4,512.2 360.0,510.0 C363.6,507.8 366.7,503.0 369.0,499.0 C371.3,495.0 372.5,490.8 374.0,486.0 C375.5,481.2 376.5,475.7 378.0,470.0 C379.5,464.3 381.2,457.8 383.0,452.0 C384.8,446.2 386.7,440.7 388.5,435.0 C390.3,429.3 392.1,423.3 394.0,418.0 C395.9,412.7 398.2,407.3 400.0,403.0 C401.8,398.7 403.0,395.8 405.0,392.0 C407.0,388.2 409.7,384.0 412.0,380.0 C414.3,376.0 417.2,370.5 419.0,368.0 C420.8,365.5 421.8,364.5 423.0,365.0 C424.2,365.5 425.4,367.7 426.0,371.0 C426.6,374.3 426.7,380.2 426.5,385.0 C426.3,389.8 425.8,394.5 425.0,400.0 C424.2,405.5 423.0,412.2 422.0,418.0 C421.0,423.8 420.5,429.2 419.0,435.0 C417.5,440.8 415.2,447.2 413.0,453.0 C410.8,458.8 407.8,465.2 406.0,470.0 C404.2,474.8 403.0,477.8 402.0,482.0 C401.0,486.2 400.2,490.8 400.0,495.0 C399.8,499.2 399.2,503.9 401.0,507.0 C402.8,510.1 407.3,512.2 411.0,513.5 C414.7,514.8 418.8,515.9 423.0,515.0 C427.2,514.1 431.3,511.2 436.0,508.0 C440.7,504.8 446.5,500.7 451.0,496.0 C455.5,491.3 458.8,486.0 463.0,480.0 C467.2,474.0 472.7,465.8 476.0,460.0 C479.3,454.2 480.8,450.0 483.0,445.0 C485.2,440.0 487.2,435.0 489.0,430.0 C490.8,425.0 492.5,420.0 494.0,415.0 C495.5,410.0 496.5,404.5 498.0,400.0 C499.5,395.5 501.5,392.7 503.0,388.0 C504.5,383.3 505.8,378.0 507.0,372.0 C508.2,366.0 509.2,359.0 510.0,352.0 C510.8,345.0 511.5,337.0 512.0,330.0 C512.5,323.0 512.7,315.3 513.0,310.0 C513.3,304.7 516.2,302.2 514.0,298.0 C511.8,293.8 524.0,287.2 500.0,285.0 C476.0,282.8 394.0,283.2 370.0,285.0 C346.0,286.8 359.0,291.8 356.0,296.0 Z" fill="none" stroke="#a6d4e8" stroke-width="17"/>
</g>
<path d="M356.0,296.0 C353.0,300.2 353.2,305.2 352.0,310.0 C350.8,314.8 349.9,320.0 349.0,325.0 C348.1,330.0 348.0,335.0 346.5,340.0 C345.0,345.0 342.2,350.0 340.0,355.0 C337.8,360.0 334.8,364.2 333.0,370.0 C331.2,375.8 330.3,383.3 329.0,390.0 C327.7,396.7 326.0,404.2 325.0,410.0 C324.0,415.8 323.4,420.0 323.0,425.0 C322.6,430.0 322.7,434.2 322.7,440.0 C322.7,445.8 322.8,453.3 323.0,460.0 C323.2,466.7 323.2,473.7 324.0,480.0 C324.8,486.3 326.0,493.3 328.0,498.0 C330.0,502.7 332.8,505.6 336.0,508.0 C339.2,510.4 343.5,512.2 347.5,512.5 C351.5,512.8 356.4,512.2 360.0,510.0 C363.6,507.8 366.7,503.0 369.0,499.0 C371.3,495.0 372.5,490.8 374.0,486.0 C375.5,481.2 376.5,475.7 378.0,470.0 C379.5,464.3 381.2,457.8 383.0,452.0 C384.8,446.2 386.7,440.7 388.5,435.0 C390.3,429.3 392.1,423.3 394.0,418.0 C395.9,412.7 398.2,407.3 400.0,403.0 C401.8,398.7 403.0,395.8 405.0,392.0 C407.0,388.2 409.7,384.0 412.0,380.0 C414.3,376.0 417.2,370.5 419.0,368.0 C420.8,365.5 421.8,364.5 423.0,365.0 C424.2,365.5 425.4,367.7 426.0,371.0 C426.6,374.3 426.7,380.2 426.5,385.0 C426.3,389.8 425.8,394.5 425.0,400.0 C424.2,405.5 423.0,412.2 422.0,418.0 C421.0,423.8 420.5,429.2 419.0,435.0 C417.5,440.8 415.2,447.2 413.0,453.0 C410.8,458.8 407.8,465.2 406.0,470.0 C404.2,474.8 403.0,477.8 402.0,482.0 C401.0,486.2 400.2,490.8 400.0,495.0 C399.8,499.2 399.2,503.9 401.0,507.0 C402.8,510.1 407.3,512.2 411.0,513.5 C414.7,514.8 418.8,515.9 423.0,515.0 C427.2,514.1 431.3,511.2 436.0,508.0 C440.7,504.8 446.5,500.7 451.0,496.0 C455.5,491.3 458.8,486.0 463.0,480.0 C467.2,474.0 472.7,465.8 476.0,460.0 C479.3,454.2 480.8,450.0 483.0,445.0 C485.2,440.0 487.2,435.0 489.0,430.0 C490.8,425.0 492.5,420.0 494.0,415.0 C495.5,410.0 496.5,404.5 498.0,400.0 C499.5,395.5 501.5,392.7 503.0,388.0 C504.5,383.3 505.8,378.0 507.0,372.0 C508.2,366.0 509.2,359.0 510.0,352.0 C510.8,345.0 511.5,337.0 512.0,330.0 C512.5,323.0 512.7,315.3 513.0,310.0 C513.3,304.7 516.2,302.2 514.0,298.0 C511.8,293.8 524.0,287.2 500.0,285.0 C476.0,282.8 394.0,283.2 370.0,285.0 C346.0,286.8 359.0,291.8 356.0,296.0 Z" fill="none" stroke="#f04646" stroke-width="5.6"/>

<!-- gums -->
<path d="M314.0,205.0 C312.3,205.8 308.7,207.3 306.0,210.0 C303.3,212.7 300.5,216.3 298.0,221.0 C295.5,225.7 293.2,231.8 291.0,238.0 C288.8,244.2 286.3,251.0 285.0,258.0 C283.7,265.0 283.0,274.2 283.0,280.0 C283.0,285.8 284.0,289.9 285.0,293.0 C286.0,296.1 283.5,297.0 289.0,298.5 C294.5,300.0 311.0,301.2 318.0,302.0 C325.0,302.8 327.3,302.0 331.0,303.0 C334.7,304.0 337.5,305.7 340.0,308.0 C342.5,310.3 344.3,313.7 346.0,317.0 C347.7,320.3 348.3,330.5 350.0,328.0 C351.7,325.5 356.2,307.8 356.0,302.0 C355.8,296.2 351.8,296.0 349.0,293.0 C346.2,290.0 342.7,288.0 339.0,284.0 C335.3,280.0 330.2,275.0 327.0,269.0 C323.8,263.0 321.8,255.8 320.0,248.0 C318.2,240.2 316.7,229.2 316.0,222.0 C315.3,214.8 316.3,207.8 316.0,205.0 C315.7,202.2 315.7,204.2 314.0,205.0 Z" fill="url(#gL)"/>
<path d="M314.5,206.0 C313.1,206.1 309.8,207.2 308.0,208.5 C306.2,209.8 305.2,211.6 303.5,214.0 C301.8,216.4 299.5,219.9 298.0,223.0 C296.5,226.1 295.6,229.5 294.3,232.7 C293.1,235.9 291.6,239.3 290.5,242.0 C289.4,244.7 287.1,247.4 288.0,249.0 C288.9,250.6 293.2,250.6 296.0,251.5 C298.8,252.4 302.2,253.2 305.0,254.5 C307.8,255.8 310.8,257.6 313.0,259.5 C315.2,261.4 316.8,263.8 318.5,266.0 C320.2,268.2 322.8,276.0 323.0,273.0 C323.2,270.0 321.0,256.0 320.0,248.0 C319.0,240.0 317.6,231.7 317.0,225.0 C316.4,218.3 316.9,211.2 316.5,208.0 C316.1,204.8 315.9,205.9 314.5,206.0 Z" fill="url(#gLu)"/>
<path d="M314.0,205.0 C312.3,205.8 308.7,207.3 306.0,210.0 C303.3,212.7 300.5,216.3 298.0,221.0 C295.5,225.7 293.2,231.8 291.0,238.0 C288.8,244.2 286.3,251.0 285.0,258.0 C283.7,265.0 283.0,274.2 283.0,280.0 C283.0,285.8 284.0,289.9 285.0,293.0 C286.0,296.1 283.5,297.0 289.0,298.5 C294.5,300.0 311.0,301.2 318.0,302.0 C325.0,302.8 327.3,302.0 331.0,303.0 C334.7,304.0 337.5,305.7 340.0,308.0 C342.5,310.3 344.3,313.7 346.0,317.0 C347.7,320.3 348.3,330.5 350.0,328.0 C351.7,325.5 356.2,307.8 356.0,302.0 C355.8,296.2 351.8,296.0 349.0,293.0 C346.2,290.0 342.7,288.0 339.0,284.0 C335.3,280.0 330.2,275.0 327.0,269.0 C323.8,263.0 321.8,255.8 320.0,248.0 C318.2,240.2 316.7,229.2 316.0,222.0 C315.3,214.8 316.3,207.8 316.0,205.0 C315.7,202.2 315.7,204.2 314.0,205.0 Z" fill="url(#gLt)"/>
<path d="M548.0,217.0 C549.0,216.5 550.8,221.2 552.0,225.0 C553.2,228.8 554.0,234.8 555.0,240.0 C556.0,245.2 557.0,251.3 558.0,256.0 C559.0,260.7 560.2,263.7 561.0,268.0 C561.8,272.3 562.7,277.0 563.0,282.0 C563.3,287.0 563.2,293.7 563.0,298.0 C562.8,302.3 564.5,306.3 562.0,308.0 C559.5,309.7 553.3,307.9 548.0,308.0 C542.7,308.1 535.3,307.7 530.0,308.5 C524.7,309.3 519.0,314.4 516.0,313.0 C513.0,311.6 511.3,303.8 512.0,300.0 C512.7,296.2 517.3,293.7 520.0,290.0 C522.7,286.3 525.3,282.7 528.0,278.0 C530.7,273.3 533.7,267.5 536.0,262.0 C538.3,256.5 540.3,250.7 542.0,245.0 C543.7,239.3 545.0,232.7 546.0,228.0 C547.0,223.3 547.0,217.5 548.0,217.0 Z" fill="url(#gR)"/>
<path d="M548.0,217.0 C549.0,216.3 550.8,220.2 552.0,224.0 C553.2,227.8 554.0,234.7 555.0,240.0 C556.0,245.3 557.2,251.8 558.0,256.0 C558.8,260.2 561.0,263.8 560.0,265.0 C559.0,266.2 555.0,263.9 552.0,263.5 C549.0,263.1 545.0,261.9 542.0,262.5 C539.0,263.1 534.2,269.4 534.0,267.0 C533.8,264.6 539.0,254.5 541.0,248.0 C543.0,241.5 544.8,233.2 546.0,228.0 C547.2,222.8 547.0,217.7 548.0,217.0 Z" fill="url(#gRu)"/>
<path d="M548.0,217.0 C549.0,216.5 550.8,221.2 552.0,225.0 C553.2,228.8 554.0,234.8 555.0,240.0 C556.0,245.2 557.0,251.3 558.0,256.0 C559.0,260.7 560.2,263.7 561.0,268.0 C561.8,272.3 562.7,277.0 563.0,282.0 C563.3,287.0 563.2,293.7 563.0,298.0 C562.8,302.3 564.5,306.3 562.0,308.0 C559.5,309.7 553.3,307.9 548.0,308.0 C542.7,308.1 535.3,307.7 530.0,308.5 C524.7,309.3 519.0,314.4 516.0,313.0 C513.0,311.6 511.3,303.8 512.0,300.0 C512.7,296.2 517.3,293.7 520.0,290.0 C522.7,286.3 525.3,282.7 528.0,278.0 C530.7,273.3 533.7,267.5 536.0,262.0 C538.3,256.5 540.3,250.7 542.0,245.0 C543.7,239.3 545.0,232.7 546.0,228.0 C547.0,223.3 547.0,217.5 548.0,217.0 Z" fill="url(#gRt)"/>

<!-- crown -->
<path d="M350.0,297.0 C339.8,294.2 342.8,289.7 339.0,285.0 C335.2,280.3 330.2,275.2 327.0,269.0 C323.8,262.8 321.8,255.8 320.0,248.0 C318.2,240.2 316.7,230.0 316.0,222.0 C315.3,214.0 315.5,206.5 316.0,200.0 C316.5,193.5 317.8,188.0 319.0,183.0 C320.2,178.0 321.2,174.2 323.0,170.0 C324.8,165.8 326.3,162.6 330.0,158.0 C333.7,153.4 340.0,147.1 345.0,142.5 C350.0,137.9 355.5,134.2 360.0,130.5 C364.5,126.8 368.5,122.5 372.0,120.0 C375.5,117.5 377.2,116.3 381.0,115.5 C384.8,114.7 390.0,114.5 394.5,115.0 C399.0,115.5 403.2,116.9 408.0,118.5 C412.8,120.1 418.0,122.6 423.0,124.5 C428.0,126.4 433.7,129.2 438.0,130.0 C442.3,130.8 444.9,130.0 449.0,129.0 C453.1,128.0 457.8,126.0 462.5,124.0 C467.2,122.0 473.0,119.2 477.5,117.0 C482.0,114.8 486.2,112.3 489.5,111.0 C492.8,109.7 494.8,109.4 497.0,109.3 C499.2,109.2 500.5,109.5 503.0,110.5 C505.5,111.5 509.0,113.2 512.0,115.0 C515.0,116.8 518.2,118.8 521.0,121.0 C523.8,123.2 526.2,125.8 528.5,128.5 C530.8,131.2 532.8,134.2 534.5,137.5 C536.2,140.8 537.5,144.2 539.0,148.0 C540.5,151.8 542.2,154.3 543.5,160.0 C544.8,165.7 546.1,174.5 547.0,182.0 C547.9,189.5 548.8,198.3 549.0,205.0 C549.2,211.7 548.8,216.2 548.0,222.0 C547.2,227.8 545.7,234.3 544.0,240.0 C542.3,245.7 540.0,251.0 538.0,256.0 C536.0,261.0 534.0,265.8 532.0,270.0 C530.0,274.2 528.0,277.7 526.0,281.0 C524.0,284.3 522.0,287.3 520.0,290.0 C518.0,292.7 520.7,295.0 514.0,297.0 C507.3,299.0 499.0,301.2 480.0,302.0 C461.0,302.8 421.7,302.8 400.0,302.0 C378.3,301.2 360.2,299.8 350.0,297.0 Z" fill="url(#enm)"/>
<path d="M300.0,100.0 a3.5,5.6 0 0 0 7.0,0 M307.0,100.0 a3.5,5.6 0 0 0 7.0,0 M314.0,100.0 a3.5,5.6 0 0 0 7.0,0 M321.0,100.0 a3.5,5.6 0 0 0 7.0,0 M328.0,100.0 a3.5,5.6 0 0 0 7.0,0 M335.0,100.0 a3.5,5.6 0 0 0 7.0,0 M342.0,100.0 a3.5,5.6 0 0 0 7.0,0 M349.0,100.0 a3.5,5.6 0 0 0 7.0,0 M356.0,100.0 a3.5,5.6 0 0 0 7.0,0 M363.0,100.0 a3.5,5.6 0 0 0 7.0,0 M370.0,100.0 a3.5,5.6 0 0 0 7.0,0 M377.0,100.0 a3.5,5.6 0 0 0 7.0,0 M384.0,100.0 a3.5,5.6 0 0 0 7.0,0 M391.0,100.0 a3.5,5.6 0 0 0 7.0,0 M398.0,100.0 a3.5,5.6 0 0 0 7.0,0 M405.0,100.0 a3.5,5.6 0 0 0 7.0,0 M412.0,100.0 a3.5,5.6 0 0 0 7.0,0 M419.0,100.0 a3.5,5.6 0 0 0 7.0,0 M426.0,100.0 a3.5,5.6 0 0 0 7.0,0 M433.0,100.0 a3.5,5.6 0 0 0 7.0,0 M440.0,100.0 a3.5,5.6 0 0 0 7.0,0 M447.0,100.0 a3.5,5.6 0 0 0 7.0,0 M454.0,100.0 a3.5,5.6 0 0 0 7.0,0 M461.0,100.0 a3.5,5.6 0 0 0 7.0,0 M468.0,100.0 a3.5,5.6 0 0 0 7.0,0 M475.0,100.0 a3.5,5.6 0 0 0 7.0,0 M482.0,100.0 a3.5,5.6 0 0 0 7.0,0 M489.0,100.0 a3.5,5.6 0 0 0 7.0,0 M496.0,100.0 a3.5,5.6 0 0 0 7.0,0 M503.0,100.0 a3.5,5.6 0 0 0 7.0,0 M510.0,100.0 a3.5,5.6 0 0 0 7.0,0 M517.0,100.0 a3.5,5.6 0 0 0 7.0,0 M524.0,100.0 a3.5,5.6 0 0 0 7.0,0 M531.0,100.0 a3.5,5.6 0 0 0 7.0,0 M538.0,100.0 a3.5,5.6 0 0 0 7.0,0 M545.0,100.0 a3.5,5.6 0 0 0 7.0,0 M552.0,100.0 a3.5,5.6 0 0 0 7.0,0 M559.0,100.0 a3.5,5.6 0 0 0 7.0,0 M303.5,105.3 a3.5,5.6 0 0 0 7.0,0 M310.5,105.3 a3.5,5.6 0 0 0 7.0,0 M317.5,105.3 a3.5,5.6 0 0 0 7.0,0 M324.5,105.3 a3.5,5.6 0 0 0 7.0,0 M331.5,105.3 a3.5,5.6 0 0 0 7.0,0 M338.5,105.3 a3.5,5.6 0 0 0 7.0,0 M345.5,105.3 a3.5,5.6 0 0 0 7.0,0 M352.5,105.3 a3.5,5.6 0 0 0 7.0,0 M359.5,105.3 a3.5,5.6 0 0 0 7.0,0 M366.5,105.3 a3.5,5.6 0 0 0 7.0,0 M373.5,105.3 a3.5,5.6 0 0 0 7.0,0 M380.5,105.3 a3.5,5.6 0 0 0 7.0,0 M387.5,105.3 a3.5,5.6 0 0 0 7.0,0 M394.5,105.3 a3.5,5.6 0 0 0 7.0,0 M401.5,105.3 a3.5,5.6 0 0 0 7.0,0 M408.5,105.3 a3.5,5.6 0 0 0 7.0,0 M415.5,105.3 a3.5,5.6 0 0 0 7.0,0 M422.5,105.3 a3.5,5.6 0 0 0 7.0,0 M429.5,105.3 a3.5,5.6 0 0 0 7.0,0 M436.5,105.3 a3.5,5.6 0 0 0 7.0,0 M443.5,105.3 a3.5,5.6 0 0 0 7.0,0 M450.5,105.3 a3.5,5.6 0 0 0 7.0,0 M457.5,105.3 a3.5,5.6 0 0 0 7.0,0 M464.5,105.3 a3.5,5.6 0 0 0 7.0,0 M471.5,105.3 a3.5,5.6 0 0 0 7.0,0 M478.5,105.3 a3.5,5.6 0 0 0 7.0,0 M485.5,105.3 a3.5,5.6 0 0 0 7.0,0 M492.5,105.3 a3.5,5.6 0 0 0 7.0,0 M499.5,105.3 a3.5,5.6 0 0 0 7.0,0 M506.5,105.3 a3.5,5.6 0 0 0 7.0,0 M513.5,105.3 a3.5,5.6 0 0 0 7.0,0 M520.5,105.3 a3.5,5.6 0 0 0 7.0,0 M527.5,105.3 a3.5,5.6 0 0 0 7.0,0 M534.5,105.3 a3.5,5.6 0 0 0 7.0,0 M541.5,105.3 a3.5,5.6 0 0 0 7.0,0 M548.5,105.3 a3.5,5.6 0 0 0 7.0,0 M555.5,105.3 a3.5,5.6 0 0 0 7.0,0 M300.0,110.6 a3.5,5.6 0 0 0 7.0,0 M307.0,110.6 a3.5,5.6 0 0 0 7.0,0 M314.0,110.6 a3.5,5.6 0 0 0 7.0,0 M321.0,110.6 a3.5,5.6 0 0 0 7.0,0 M328.0,110.6 a3.5,5.6 0 0 0 7.0,0 M335.0,110.6 a3.5,5.6 0 0 0 7.0,0 M342.0,110.6 a3.5,5.6 0 0 0 7.0,0 M349.0,110.6 a3.5,5.6 0 0 0 7.0,0 M356.0,110.6 a3.5,5.6 0 0 0 7.0,0 M363.0,110.6 a3.5,5.6 0 0 0 7.0,0 M370.0,110.6 a3.5,5.6 0 0 0 7.0,0 M377.0,110.6 a3.5,5.6 0 0 0 7.0,0 M384.0,110.6 a3.5,5.6 0 0 0 7.0,0 M391.0,110.6 a3.5,5.6 0 0 0 7.0,0 M398.0,110.6 a3.5,5.6 0 0 0 7.0,0 M405.0,110.6 a3.5,5.6 0 0 0 7.0,0 M412.0,110.6 a3.5,5.6 0 0 0 7.0,0 M419.0,110.6 a3.5,5.6 0 0 0 7.0,0 M426.0,110.6 a3.5,5.6 0 0 0 7.0,0 M433.0,110.6 a3.5,5.6 0 0 0 7.0,0 M440.0,110.6 a3.5,5.6 0 0 0 7.0,0 M447.0,110.6 a3.5,5.6 0 0 0 7.0,0 M454.0,110.6 a3.5,5.6 0 0 0 7.0,0 M461.0,110.6 a3.5,5.6 0 0 0 7.0,0 M468.0,110.6 a3.5,5.6 0 0 0 7.0,0 M475.0,110.6 a3.5,5.6 0 0 0 7.0,0 M482.0,110.6 a3.5,5.6 0 0 0 7.0,0 M489.0,110.6 a3.5,5.6 0 0 0 7.0,0 M496.0,110.6 a3.5,5.6 0 0 0 7.0,0 M503.0,110.6 a3.5,5.6 0 0 0 7.0,0 M510.0,110.6 a3.5,5.6 0 0 0 7.0,0 M517.0,110.6 a3.5,5.6 0 0 0 7.0,0 M524.0,110.6 a3.5,5.6 0 0 0 7.0,0 M531.0,110.6 a3.5,5.6 0 0 0 7.0,0 M538.0,110.6 a3.5,5.6 0 0 0 7.0,0 M545.0,110.6 a3.5,5.6 0 0 0 7.0,0 M552.0,110.6 a3.5,5.6 0 0 0 7.0,0 M559.0,110.6 a3.5,5.6 0 0 0 7.0,0 M303.5,115.9 a3.5,5.6 0 0 0 7.0,0 M310.5,115.9 a3.5,5.6 0 0 0 7.0,0 M317.5,115.9 a3.5,5.6 0 0 0 7.0,0 M324.5,115.9 a3.5,5.6 0 0 0 7.0,0 M331.5,115.9 a3.5,5.6 0 0 0 7.0,0 M338.5,115.9 a3.5,5.6 0 0 0 7.0,0 M345.5,115.9 a3.5,5.6 0 0 0 7.0,0 M352.5,115.9 a3.5,5.6 0 0 0 7.0,0 M359.5,115.9 a3.5,5.6 0 0 0 7.0,0 M366.5,115.9 a3.5,5.6 0 0 0 7.0,0 M373.5,115.9 a3.5,5.6 0 0 0 7.0,0 M380.5,115.9 a3.5,5.6 0 0 0 7.0,0 M387.5,115.9 a3.5,5.6 0 0 0 7.0,0 M394.5,115.9 a3.5,5.6 0 0 0 7.0,0 M401.5,115.9 a3.5,5.6 0 0 0 7.0,0 M408.5,115.9 a3.5,5.6 0 0 0 7.0,0 M415.5,115.9 a3.5,5.6 0 0 0 7.0,0 M422.5,115.9 a3.5,5.6 0 0 0 7.0,0 M429.5,115.9 a3.5,5.6 0 0 0 7.0,0 M436.5,115.9 a3.5,5.6 0 0 0 7.0,0 M443.5,115.9 a3.5,5.6 0 0 0 7.0,0 M450.5,115.9 a3.5,5.6 0 0 0 7.0,0 M457.5,115.9 a3.5,5.6 0 0 0 7.0,0 M464.5,115.9 a3.5,5.6 0 0 0 7.0,0 M471.5,115.9 a3.5,5.6 0 0 0 7.0,0 M478.5,115.9 a3.5,5.6 0 0 0 7.0,0 M485.5,115.9 a3.5,5.6 0 0 0 7.0,0 M492.5,115.9 a3.5,5.6 0 0 0 7.0,0 M499.5,115.9 a3.5,5.6 0 0 0 7.0,0 M506.5,115.9 a3.5,5.6 0 0 0 7.0,0 M513.5,115.9 a3.5,5.6 0 0 0 7.0,0 M520.5,115.9 a3.5,5.6 0 0 0 7.0,0 M527.5,115.9 a3.5,5.6 0 0 0 7.0,0 M534.5,115.9 a3.5,5.6 0 0 0 7.0,0 M541.5,115.9 a3.5,5.6 0 0 0 7.0,0 M548.5,115.9 a3.5,5.6 0 0 0 7.0,0 M555.5,115.9 a3.5,5.6 0 0 0 7.0,0 M300.0,121.2 a3.5,5.6 0 0 0 7.0,0 M307.0,121.2 a3.5,5.6 0 0 0 7.0,0 M314.0,121.2 a3.5,5.6 0 0 0 7.0,0 M321.0,121.2 a3.5,5.6 0 0 0 7.0,0 M328.0,121.2 a3.5,5.6 0 0 0 7.0,0 M335.0,121.2 a3.5,5.6 0 0 0 7.0,0 M342.0,121.2 a3.5,5.6 0 0 0 7.0,0 M349.0,121.2 a3.5,5.6 0 0 0 7.0,0 M356.0,121.2 a3.5,5.6 0 0 0 7.0,0 M363.0,121.2 a3.5,5.6 0 0 0 7.0,0 M370.0,121.2 a3.5,5.6 0 0 0 7.0,0 M377.0,121.2 a3.5,5.6 0 0 0 7.0,0 M384.0,121.2 a3.5,5.6 0 0 0 7.0,0 M391.0,121.2 a3.5,5.6 0 0 0 7.0,0 M398.0,121.2 a3.5,5.6 0 0 0 7.0,0 M405.0,121.2 a3.5,5.6 0 0 0 7.0,0 M412.0,121.2 a3.5,5.6 0 0 0 7.0,0 M419.0,121.2 a3.5,5.6 0 0 0 7.0,0 M426.0,121.2 a3.5,5.6 0 0 0 7.0,0 M433.0,121.2 a3.5,5.6 0 0 0 7.0,0 M440.0,121.2 a3.5,5.6 0 0 0 7.0,0 M447.0,121.2 a3.5,5.6 0 0 0 7.0,0 M454.0,121.2 a3.5,5.6 0 0 0 7.0,0 M461.0,121.2 a3.5,5.6 0 0 0 7.0,0 M468.0,121.2 a3.5,5.6 0 0 0 7.0,0 M475.0,121.2 a3.5,5.6 0 0 0 7.0,0 M482.0,121.2 a3.5,5.6 0 0 0 7.0,0 M489.0,121.2 a3.5,5.6 0 0 0 7.0,0 M496.0,121.2 a3.5,5.6 0 0 0 7.0,0 M503.0,121.2 a3.5,5.6 0 0 0 7.0,0 M510.0,121.2 a3.5,5.6 0 0 0 7.0,0 M517.0,121.2 a3.5,5.6 0 0 0 7.0,0 M524.0,121.2 a3.5,5.6 0 0 0 7.0,0 M531.0,121.2 a3.5,5.6 0 0 0 7.0,0 M538.0,121.2 a3.5,5.6 0 0 0 7.0,0 M545.0,121.2 a3.5,5.6 0 0 0 7.0,0 M552.0,121.2 a3.5,5.6 0 0 0 7.0,0 M559.0,121.2 a3.5,5.6 0 0 0 7.0,0 M303.5,126.5 a3.5,5.6 0 0 0 7.0,0 M310.5,126.5 a3.5,5.6 0 0 0 7.0,0 M317.5,126.5 a3.5,5.6 0 0 0 7.0,0 M324.5,126.5 a3.5,5.6 0 0 0 7.0,0 M331.5,126.5 a3.5,5.6 0 0 0 7.0,0 M338.5,126.5 a3.5,5.6 0 0 0 7.0,0 M345.5,126.5 a3.5,5.6 0 0 0 7.0,0 M352.5,126.5 a3.5,5.6 0 0 0 7.0,0 M359.5,126.5 a3.5,5.6 0 0 0 7.0,0 M366.5,126.5 a3.5,5.6 0 0 0 7.0,0 M373.5,126.5 a3.5,5.6 0 0 0 7.0,0 M380.5,126.5 a3.5,5.6 0 0 0 7.0,0 M387.5,126.5 a3.5,5.6 0 0 0 7.0,0 M394.5,126.5 a3.5,5.6 0 0 0 7.0,0 M401.5,126.5 a3.5,5.6 0 0 0 7.0,0 M408.5,126.5 a3.5,5.6 0 0 0 7.0,0 M415.5,126.5 a3.5,5.6 0 0 0 7.0,0 M422.5,126.5 a3.5,5.6 0 0 0 7.0,0 M429.5,126.5 a3.5,5.6 0 0 0 7.0,0 M436.5,126.5 a3.5,5.6 0 0 0 7.0,0 M443.5,126.5 a3.5,5.6 0 0 0 7.0,0 M450.5,126.5 a3.5,5.6 0 0 0 7.0,0 M457.5,126.5 a3.5,5.6 0 0 0 7.0,0 M464.5,126.5 a3.5,5.6 0 0 0 7.0,0 M471.5,126.5 a3.5,5.6 0 0 0 7.0,0 M478.5,126.5 a3.5,5.6 0 0 0 7.0,0 M485.5,126.5 a3.5,5.6 0 0 0 7.0,0 M492.5,126.5 a3.5,5.6 0 0 0 7.0,0 M499.5,126.5 a3.5,5.6 0 0 0 7.0,0 M506.5,126.5 a3.5,5.6 0 0 0 7.0,0 M513.5,126.5 a3.5,5.6 0 0 0 7.0,0 M520.5,126.5 a3.5,5.6 0 0 0 7.0,0 M527.5,126.5 a3.5,5.6 0 0 0 7.0,0 M534.5,126.5 a3.5,5.6 0 0 0 7.0,0 M541.5,126.5 a3.5,5.6 0 0 0 7.0,0 M548.5,126.5 a3.5,5.6 0 0 0 7.0,0 M555.5,126.5 a3.5,5.6 0 0 0 7.0,0 M300.0,131.8 a3.5,5.6 0 0 0 7.0,0 M307.0,131.8 a3.5,5.6 0 0 0 7.0,0 M314.0,131.8 a3.5,5.6 0 0 0 7.0,0 M321.0,131.8 a3.5,5.6 0 0 0 7.0,0 M328.0,131.8 a3.5,5.6 0 0 0 7.0,0 M335.0,131.8 a3.5,5.6 0 0 0 7.0,0 M342.0,131.8 a3.5,5.6 0 0 0 7.0,0 M349.0,131.8 a3.5,5.6 0 0 0 7.0,0 M356.0,131.8 a3.5,5.6 0 0 0 7.0,0 M363.0,131.8 a3.5,5.6 0 0 0 7.0,0 M370.0,131.8 a3.5,5.6 0 0 0 7.0,0 M377.0,131.8 a3.5,5.6 0 0 0 7.0,0 M384.0,131.8 a3.5,5.6 0 0 0 7.0,0 M391.0,131.8 a3.5,5.6 0 0 0 7.0,0 M398.0,131.8 a3.5,5.6 0 0 0 7.0,0 M405.0,131.8 a3.5,5.6 0 0 0 7.0,0 M412.0,131.8 a3.5,5.6 0 0 0 7.0,0 M419.0,131.8 a3.5,5.6 0 0 0 7.0,0 M426.0,131.8 a3.5,5.6 0 0 0 7.0,0 M433.0,131.8 a3.5,5.6 0 0 0 7.0,0 M440.0,131.8 a3.5,5.6 0 0 0 7.0,0 M447.0,131.8 a3.5,5.6 0 0 0 7.0,0 M454.0,131.8 a3.5,5.6 0 0 0 7.0,0 M461.0,131.8 a3.5,5.6 0 0 0 7.0,0 M468.0,131.8 a3.5,5.6 0 0 0 7.0,0 M475.0,131.8 a3.5,5.6 0 0 0 7.0,0 M482.0,131.8 a3.5,5.6 0 0 0 7.0,0 M489.0,131.8 a3.5,5.6 0 0 0 7.0,0 M496.0,131.8 a3.5,5.6 0 0 0 7.0,0 M503.0,131.8 a3.5,5.6 0 0 0 7.0,0 M510.0,131.8 a3.5,5.6 0 0 0 7.0,0 M517.0,131.8 a3.5,5.6 0 0 0 7.0,0 M524.0,131.8 a3.5,5.6 0 0 0 7.0,0 M531.0,131.8 a3.5,5.6 0 0 0 7.0,0 M538.0,131.8 a3.5,5.6 0 0 0 7.0,0 M545.0,131.8 a3.5,5.6 0 0 0 7.0,0 M552.0,131.8 a3.5,5.6 0 0 0 7.0,0 M559.0,131.8 a3.5,5.6 0 0 0 7.0,0 M303.5,137.1 a3.5,5.6 0 0 0 7.0,0 M310.5,137.1 a3.5,5.6 0 0 0 7.0,0 M317.5,137.1 a3.5,5.6 0 0 0 7.0,0 M324.5,137.1 a3.5,5.6 0 0 0 7.0,0 M331.5,137.1 a3.5,5.6 0 0 0 7.0,0 M338.5,137.1 a3.5,5.6 0 0 0 7.0,0 M345.5,137.1 a3.5,5.6 0 0 0 7.0,0 M352.5,137.1 a3.5,5.6 0 0 0 7.0,0 M359.5,137.1 a3.5,5.6 0 0 0 7.0,0 M366.5,137.1 a3.5,5.6 0 0 0 7.0,0 M373.5,137.1 a3.5,5.6 0 0 0 7.0,0 M380.5,137.1 a3.5,5.6 0 0 0 7.0,0 M387.5,137.1 a3.5,5.6 0 0 0 7.0,0 M394.5,137.1 a3.5,5.6 0 0 0 7.0,0 M401.5,137.1 a3.5,5.6 0 0 0 7.0,0 M408.5,137.1 a3.5,5.6 0 0 0 7.0,0 M415.5,137.1 a3.5,5.6 0 0 0 7.0,0 M422.5,137.1 a3.5,5.6 0 0 0 7.0,0 M429.5,137.1 a3.5,5.6 0 0 0 7.0,0 M436.5,137.1 a3.5,5.6 0 0 0 7.0,0 M443.5,137.1 a3.5,5.6 0 0 0 7.0,0 M450.5,137.1 a3.5,5.6 0 0 0 7.0,0 M457.5,137.1 a3.5,5.6 0 0 0 7.0,0 M464.5,137.1 a3.5,5.6 0 0 0 7.0,0 M471.5,137.1 a3.5,5.6 0 0 0 7.0,0 M478.5,137.1 a3.5,5.6 0 0 0 7.0,0 M485.5,137.1 a3.5,5.6 0 0 0 7.0,0 M492.5,137.1 a3.5,5.6 0 0 0 7.0,0 M499.5,137.1 a3.5,5.6 0 0 0 7.0,0 M506.5,137.1 a3.5,5.6 0 0 0 7.0,0 M513.5,137.1 a3.5,5.6 0 0 0 7.0,0 M520.5,137.1 a3.5,5.6 0 0 0 7.0,0 M527.5,137.1 a3.5,5.6 0 0 0 7.0,0 M534.5,137.1 a3.5,5.6 0 0 0 7.0,0 M541.5,137.1 a3.5,5.6 0 0 0 7.0,0 M548.5,137.1 a3.5,5.6 0 0 0 7.0,0 M555.5,137.1 a3.5,5.6 0 0 0 7.0,0 M300.0,142.4 a3.5,5.6 0 0 0 7.0,0 M307.0,142.4 a3.5,5.6 0 0 0 7.0,0 M314.0,142.4 a3.5,5.6 0 0 0 7.0,0 M321.0,142.4 a3.5,5.6 0 0 0 7.0,0 M328.0,142.4 a3.5,5.6 0 0 0 7.0,0 M335.0,142.4 a3.5,5.6 0 0 0 7.0,0 M342.0,142.4 a3.5,5.6 0 0 0 7.0,0 M349.0,142.4 a3.5,5.6 0 0 0 7.0,0 M356.0,142.4 a3.5,5.6 0 0 0 7.0,0 M363.0,142.4 a3.5,5.6 0 0 0 7.0,0 M370.0,142.4 a3.5,5.6 0 0 0 7.0,0 M377.0,142.4 a3.5,5.6 0 0 0 7.0,0 M384.0,142.4 a3.5,5.6 0 0 0 7.0,0 M391.0,142.4 a3.5,5.6 0 0 0 7.0,0 M398.0,142.4 a3.5,5.6 0 0 0 7.0,0 M405.0,142.4 a3.5,5.6 0 0 0 7.0,0 M412.0,142.4 a3.5,5.6 0 0 0 7.0,0 M419.0,142.4 a3.5,5.6 0 0 0 7.0,0 M426.0,142.4 a3.5,5.6 0 0 0 7.0,0 M433.0,142.4 a3.5,5.6 0 0 0 7.0,0 M440.0,142.4 a3.5,5.6 0 0 0 7.0,0 M447.0,142.4 a3.5,5.6 0 0 0 7.0,0 M454.0,142.4 a3.5,5.6 0 0 0 7.0,0 M461.0,142.4 a3.5,5.6 0 0 0 7.0,0 M468.0,142.4 a3.5,5.6 0 0 0 7.0,0 M475.0,142.4 a3.5,5.6 0 0 0 7.0,0 M482.0,142.4 a3.5,5.6 0 0 0 7.0,0 M489.0,142.4 a3.5,5.6 0 0 0 7.0,0 M496.0,142.4 a3.5,5.6 0 0 0 7.0,0 M503.0,142.4 a3.5,5.6 0 0 0 7.0,0 M510.0,142.4 a3.5,5.6 0 0 0 7.0,0 M517.0,142.4 a3.5,5.6 0 0 0 7.0,0 M524.0,142.4 a3.5,5.6 0 0 0 7.0,0 M531.0,142.4 a3.5,5.6 0 0 0 7.0,0 M538.0,142.4 a3.5,5.6 0 0 0 7.0,0 M545.0,142.4 a3.5,5.6 0 0 0 7.0,0 M552.0,142.4 a3.5,5.6 0 0 0 7.0,0 M559.0,142.4 a3.5,5.6 0 0 0 7.0,0 M303.5,147.7 a3.5,5.6 0 0 0 7.0,0 M310.5,147.7 a3.5,5.6 0 0 0 7.0,0 M317.5,147.7 a3.5,5.6 0 0 0 7.0,0 M324.5,147.7 a3.5,5.6 0 0 0 7.0,0 M331.5,147.7 a3.5,5.6 0 0 0 7.0,0 M338.5,147.7 a3.5,5.6 0 0 0 7.0,0 M345.5,147.7 a3.5,5.6 0 0 0 7.0,0 M352.5,147.7 a3.5,5.6 0 0 0 7.0,0 M359.5,147.7 a3.5,5.6 0 0 0 7.0,0 M366.5,147.7 a3.5,5.6 0 0 0 7.0,0 M373.5,147.7 a3.5,5.6 0 0 0 7.0,0 M380.5,147.7 a3.5,5.6 0 0 0 7.0,0 M387.5,147.7 a3.5,5.6 0 0 0 7.0,0 M394.5,147.7 a3.5,5.6 0 0 0 7.0,0 M401.5,147.7 a3.5,5.6 0 0 0 7.0,0 M408.5,147.7 a3.5,5.6 0 0 0 7.0,0 M415.5,147.7 a3.5,5.6 0 0 0 7.0,0 M422.5,147.7 a3.5,5.6 0 0 0 7.0,0 M429.5,147.7 a3.5,5.6 0 0 0 7.0,0 M436.5,147.7 a3.5,5.6 0 0 0 7.0,0 M443.5,147.7 a3.5,5.6 0 0 0 7.0,0 M450.5,147.7 a3.5,5.6 0 0 0 7.0,0 M457.5,147.7 a3.5,5.6 0 0 0 7.0,0 M464.5,147.7 a3.5,5.6 0 0 0 7.0,0 M471.5,147.7 a3.5,5.6 0 0 0 7.0,0 M478.5,147.7 a3.5,5.6 0 0 0 7.0,0 M485.5,147.7 a3.5,5.6 0 0 0 7.0,0 M492.5,147.7 a3.5,5.6 0 0 0 7.0,0 M499.5,147.7 a3.5,5.6 0 0 0 7.0,0 M506.5,147.7 a3.5,5.6 0 0 0 7.0,0 M513.5,147.7 a3.5,5.6 0 0 0 7.0,0 M520.5,147.7 a3.5,5.6 0 0 0 7.0,0 M527.5,147.7 a3.5,5.6 0 0 0 7.0,0 M534.5,147.7 a3.5,5.6 0 0 0 7.0,0 M541.5,147.7 a3.5,5.6 0 0 0 7.0,0 M548.5,147.7 a3.5,5.6 0 0 0 7.0,0 M555.5,147.7 a3.5,5.6 0 0 0 7.0,0 M300.0,153.0 a3.5,5.6 0 0 0 7.0,0 M307.0,153.0 a3.5,5.6 0 0 0 7.0,0 M314.0,153.0 a3.5,5.6 0 0 0 7.0,0 M321.0,153.0 a3.5,5.6 0 0 0 7.0,0 M328.0,153.0 a3.5,5.6 0 0 0 7.0,0 M335.0,153.0 a3.5,5.6 0 0 0 7.0,0 M342.0,153.0 a3.5,5.6 0 0 0 7.0,0 M349.0,153.0 a3.5,5.6 0 0 0 7.0,0 M356.0,153.0 a3.5,5.6 0 0 0 7.0,0 M363.0,153.0 a3.5,5.6 0 0 0 7.0,0 M370.0,153.0 a3.5,5.6 0 0 0 7.0,0 M377.0,153.0 a3.5,5.6 0 0 0 7.0,0 M384.0,153.0 a3.5,5.6 0 0 0 7.0,0 M391.0,153.0 a3.5,5.6 0 0 0 7.0,0 M398.0,153.0 a3.5,5.6 0 0 0 7.0,0 M405.0,153.0 a3.5,5.6 0 0 0 7.0,0 M412.0,153.0 a3.5,5.6 0 0 0 7.0,0 M419.0,153.0 a3.5,5.6 0 0 0 7.0,0 M426.0,153.0 a3.5,5.6 0 0 0 7.0,0 M433.0,153.0 a3.5,5.6 0 0 0 7.0,0 M440.0,153.0 a3.5,5.6 0 0 0 7.0,0 M447.0,153.0 a3.5,5.6 0 0 0 7.0,0 M454.0,153.0 a3.5,5.6 0 0 0 7.0,0 M461.0,153.0 a3.5,5.6 0 0 0 7.0,0 M468.0,153.0 a3.5,5.6 0 0 0 7.0,0 M475.0,153.0 a3.5,5.6 0 0 0 7.0,0 M482.0,153.0 a3.5,5.6 0 0 0 7.0,0 M489.0,153.0 a3.5,5.6 0 0 0 7.0,0 M496.0,153.0 a3.5,5.6 0 0 0 7.0,0 M503.0,153.0 a3.5,5.6 0 0 0 7.0,0 M510.0,153.0 a3.5,5.6 0 0 0 7.0,0 M517.0,153.0 a3.5,5.6 0 0 0 7.0,0 M524.0,153.0 a3.5,5.6 0 0 0 7.0,0 M531.0,153.0 a3.5,5.6 0 0 0 7.0,0 M538.0,153.0 a3.5,5.6 0 0 0 7.0,0 M545.0,153.0 a3.5,5.6 0 0 0 7.0,0 M552.0,153.0 a3.5,5.6 0 0 0 7.0,0 M559.0,153.0 a3.5,5.6 0 0 0 7.0,0 M303.5,158.3 a3.5,5.6 0 0 0 7.0,0 M310.5,158.3 a3.5,5.6 0 0 0 7.0,0 M317.5,158.3 a3.5,5.6 0 0 0 7.0,0 M324.5,158.3 a3.5,5.6 0 0 0 7.0,0 M331.5,158.3 a3.5,5.6 0 0 0 7.0,0 M338.5,158.3 a3.5,5.6 0 0 0 7.0,0 M345.5,158.3 a3.5,5.6 0 0 0 7.0,0 M352.5,158.3 a3.5,5.6 0 0 0 7.0,0 M359.5,158.3 a3.5,5.6 0 0 0 7.0,0 M366.5,158.3 a3.5,5.6 0 0 0 7.0,0 M373.5,158.3 a3.5,5.6 0 0 0 7.0,0 M380.5,158.3 a3.5,5.6 0 0 0 7.0,0 M387.5,158.3 a3.5,5.6 0 0 0 7.0,0 M394.5,158.3 a3.5,5.6 0 0 0 7.0,0 M401.5,158.3 a3.5,5.6 0 0 0 7.0,0 M408.5,158.3 a3.5,5.6 0 0 0 7.0,0 M415.5,158.3 a3.5,5.6 0 0 0 7.0,0 M422.5,158.3 a3.5,5.6 0 0 0 7.0,0 M429.5,158.3 a3.5,5.6 0 0 0 7.0,0 M436.5,158.3 a3.5,5.6 0 0 0 7.0,0 M443.5,158.3 a3.5,5.6 0 0 0 7.0,0 M450.5,158.3 a3.5,5.6 0 0 0 7.0,0 M457.5,158.3 a3.5,5.6 0 0 0 7.0,0 M464.5,158.3 a3.5,5.6 0 0 0 7.0,0 M471.5,158.3 a3.5,5.6 0 0 0 7.0,0 M478.5,158.3 a3.5,5.6 0 0 0 7.0,0 M485.5,158.3 a3.5,5.6 0 0 0 7.0,0 M492.5,158.3 a3.5,5.6 0 0 0 7.0,0 M499.5,158.3 a3.5,5.6 0 0 0 7.0,0 M506.5,158.3 a3.5,5.6 0 0 0 7.0,0 M513.5,158.3 a3.5,5.6 0 0 0 7.0,0 M520.5,158.3 a3.5,5.6 0 0 0 7.0,0 M527.5,158.3 a3.5,5.6 0 0 0 7.0,0 M534.5,158.3 a3.5,5.6 0 0 0 7.0,0 M541.5,158.3 a3.5,5.6 0 0 0 7.0,0 M548.5,158.3 a3.5,5.6 0 0 0 7.0,0 M555.5,158.3 a3.5,5.6 0 0 0 7.0,0 M300.0,163.6 a3.5,5.6 0 0 0 7.0,0 M307.0,163.6 a3.5,5.6 0 0 0 7.0,0 M314.0,163.6 a3.5,5.6 0 0 0 7.0,0 M321.0,163.6 a3.5,5.6 0 0 0 7.0,0 M328.0,163.6 a3.5,5.6 0 0 0 7.0,0 M335.0,163.6 a3.5,5.6 0 0 0 7.0,0 M342.0,163.6 a3.5,5.6 0 0 0 7.0,0 M349.0,163.6 a3.5,5.6 0 0 0 7.0,0 M356.0,163.6 a3.5,5.6 0 0 0 7.0,0 M363.0,163.6 a3.5,5.6 0 0 0 7.0,0 M370.0,163.6 a3.5,5.6 0 0 0 7.0,0 M377.0,163.6 a3.5,5.6 0 0 0 7.0,0 M384.0,163.6 a3.5,5.6 0 0 0 7.0,0 M391.0,163.6 a3.5,5.6 0 0 0 7.0,0 M398.0,163.6 a3.5,5.6 0 0 0 7.0,0 M405.0,163.6 a3.5,5.6 0 0 0 7.0,0 M412.0,163.6 a3.5,5.6 0 0 0 7.0,0 M419.0,163.6 a3.5,5.6 0 0 0 7.0,0 M426.0,163.6 a3.5,5.6 0 0 0 7.0,0 M433.0,163.6 a3.5,5.6 0 0 0 7.0,0 M440.0,163.6 a3.5,5.6 0 0 0 7.0,0 M447.0,163.6 a3.5,5.6 0 0 0 7.0,0 M454.0,163.6 a3.5,5.6 0 0 0 7.0,0 M461.0,163.6 a3.5,5.6 0 0 0 7.0,0 M468.0,163.6 a3.5,5.6 0 0 0 7.0,0 M475.0,163.6 a3.5,5.6 0 0 0 7.0,0 M482.0,163.6 a3.5,5.6 0 0 0 7.0,0 M489.0,163.6 a3.5,5.6 0 0 0 7.0,0 M496.0,163.6 a3.5,5.6 0 0 0 7.0,0 M503.0,163.6 a3.5,5.6 0 0 0 7.0,0 M510.0,163.6 a3.5,5.6 0 0 0 7.0,0 M517.0,163.6 a3.5,5.6 0 0 0 7.0,0 M524.0,163.6 a3.5,5.6 0 0 0 7.0,0 M531.0,163.6 a3.5,5.6 0 0 0 7.0,0 M538.0,163.6 a3.5,5.6 0 0 0 7.0,0 M545.0,163.6 a3.5,5.6 0 0 0 7.0,0 M552.0,163.6 a3.5,5.6 0 0 0 7.0,0 M559.0,163.6 a3.5,5.6 0 0 0 7.0,0 M303.5,168.9 a3.5,5.6 0 0 0 7.0,0 M310.5,168.9 a3.5,5.6 0 0 0 7.0,0 M317.5,168.9 a3.5,5.6 0 0 0 7.0,0 M324.5,168.9 a3.5,5.6 0 0 0 7.0,0 M331.5,168.9 a3.5,5.6 0 0 0 7.0,0 M338.5,168.9 a3.5,5.6 0 0 0 7.0,0 M345.5,168.9 a3.5,5.6 0 0 0 7.0,0 M352.5,168.9 a3.5,5.6 0 0 0 7.0,0 M359.5,168.9 a3.5,5.6 0 0 0 7.0,0 M366.5,168.9 a3.5,5.6 0 0 0 7.0,0 M373.5,168.9 a3.5,5.6 0 0 0 7.0,0 M380.5,168.9 a3.5,5.6 0 0 0 7.0,0 M387.5,168.9 a3.5,5.6 0 0 0 7.0,0 M394.5,168.9 a3.5,5.6 0 0 0 7.0,0 M401.5,168.9 a3.5,5.6 0 0 0 7.0,0 M408.5,168.9 a3.5,5.6 0 0 0 7.0,0 M415.5,168.9 a3.5,5.6 0 0 0 7.0,0 M422.5,168.9 a3.5,5.6 0 0 0 7.0,0 M429.5,168.9 a3.5,5.6 0 0 0 7.0,0 M436.5,168.9 a3.5,5.6 0 0 0 7.0,0 M443.5,168.9 a3.5,5.6 0 0 0 7.0,0 M450.5,168.9 a3.5,5.6 0 0 0 7.0,0 M457.5,168.9 a3.5,5.6 0 0 0 7.0,0 M464.5,168.9 a3.5,5.6 0 0 0 7.0,0 M471.5,168.9 a3.5,5.6 0 0 0 7.0,0 M478.5,168.9 a3.5,5.6 0 0 0 7.0,0 M485.5,168.9 a3.5,5.6 0 0 0 7.0,0 M492.5,168.9 a3.5,5.6 0 0 0 7.0,0 M499.5,168.9 a3.5,5.6 0 0 0 7.0,0 M506.5,168.9 a3.5,5.6 0 0 0 7.0,0 M513.5,168.9 a3.5,5.6 0 0 0 7.0,0 M520.5,168.9 a3.5,5.6 0 0 0 7.0,0 M527.5,168.9 a3.5,5.6 0 0 0 7.0,0 M534.5,168.9 a3.5,5.6 0 0 0 7.0,0 M541.5,168.9 a3.5,5.6 0 0 0 7.0,0 M548.5,168.9 a3.5,5.6 0 0 0 7.0,0 M555.5,168.9 a3.5,5.6 0 0 0 7.0,0 M300.0,174.2 a3.5,5.6 0 0 0 7.0,0 M307.0,174.2 a3.5,5.6 0 0 0 7.0,0 M314.0,174.2 a3.5,5.6 0 0 0 7.0,0 M321.0,174.2 a3.5,5.6 0 0 0 7.0,0 M328.0,174.2 a3.5,5.6 0 0 0 7.0,0 M335.0,174.2 a3.5,5.6 0 0 0 7.0,0 M342.0,174.2 a3.5,5.6 0 0 0 7.0,0 M349.0,174.2 a3.5,5.6 0 0 0 7.0,0 M356.0,174.2 a3.5,5.6 0 0 0 7.0,0 M363.0,174.2 a3.5,5.6 0 0 0 7.0,0 M370.0,174.2 a3.5,5.6 0 0 0 7.0,0 M377.0,174.2 a3.5,5.6 0 0 0 7.0,0 M384.0,174.2 a3.5,5.6 0 0 0 7.0,0 M391.0,174.2 a3.5,5.6 0 0 0 7.0,0 M398.0,174.2 a3.5,5.6 0 0 0 7.0,0 M405.0,174.2 a3.5,5.6 0 0 0 7.0,0 M412.0,174.2 a3.5,5.6 0 0 0 7.0,0 M419.0,174.2 a3.5,5.6 0 0 0 7.0,0 M426.0,174.2 a3.5,5.6 0 0 0 7.0,0 M433.0,174.2 a3.5,5.6 0 0 0 7.0,0 M440.0,174.2 a3.5,5.6 0 0 0 7.0,0 M447.0,174.2 a3.5,5.6 0 0 0 7.0,0 M454.0,174.2 a3.5,5.6 0 0 0 7.0,0 M461.0,174.2 a3.5,5.6 0 0 0 7.0,0 M468.0,174.2 a3.5,5.6 0 0 0 7.0,0 M475.0,174.2 a3.5,5.6 0 0 0 7.0,0 M482.0,174.2 a3.5,5.6 0 0 0 7.0,0 M489.0,174.2 a3.5,5.6 0 0 0 7.0,0 M496.0,174.2 a3.5,5.6 0 0 0 7.0,0 M503.0,174.2 a3.5,5.6 0 0 0 7.0,0 M510.0,174.2 a3.5,5.6 0 0 0 7.0,0 M517.0,174.2 a3.5,5.6 0 0 0 7.0,0 M524.0,174.2 a3.5,5.6 0 0 0 7.0,0 M531.0,174.2 a3.5,5.6 0 0 0 7.0,0 M538.0,174.2 a3.5,5.6 0 0 0 7.0,0 M545.0,174.2 a3.5,5.6 0 0 0 7.0,0 M552.0,174.2 a3.5,5.6 0 0 0 7.0,0 M559.0,174.2 a3.5,5.6 0 0 0 7.0,0 M303.5,179.5 a3.5,5.6 0 0 0 7.0,0 M310.5,179.5 a3.5,5.6 0 0 0 7.0,0 M317.5,179.5 a3.5,5.6 0 0 0 7.0,0 M324.5,179.5 a3.5,5.6 0 0 0 7.0,0 M331.5,179.5 a3.5,5.6 0 0 0 7.0,0 M338.5,179.5 a3.5,5.6 0 0 0 7.0,0 M345.5,179.5 a3.5,5.6 0 0 0 7.0,0 M352.5,179.5 a3.5,5.6 0 0 0 7.0,0 M359.5,179.5 a3.5,5.6 0 0 0 7.0,0 M366.5,179.5 a3.5,5.6 0 0 0 7.0,0 M373.5,179.5 a3.5,5.6 0 0 0 7.0,0 M380.5,179.5 a3.5,5.6 0 0 0 7.0,0 M387.5,179.5 a3.5,5.6 0 0 0 7.0,0 M394.5,179.5 a3.5,5.6 0 0 0 7.0,0 M401.5,179.5 a3.5,5.6 0 0 0 7.0,0 M408.5,179.5 a3.5,5.6 0 0 0 7.0,0 M415.5,179.5 a3.5,5.6 0 0 0 7.0,0 M422.5,179.5 a3.5,5.6 0 0 0 7.0,0 M429.5,179.5 a3.5,5.6 0 0 0 7.0,0 M436.5,179.5 a3.5,5.6 0 0 0 7.0,0 M443.5,179.5 a3.5,5.6 0 0 0 7.0,0 M450.5,179.5 a3.5,5.6 0 0 0 7.0,0 M457.5,179.5 a3.5,5.6 0 0 0 7.0,0 M464.5,179.5 a3.5,5.6 0 0 0 7.0,0 M471.5,179.5 a3.5,5.6 0 0 0 7.0,0 M478.5,179.5 a3.5,5.6 0 0 0 7.0,0 M485.5,179.5 a3.5,5.6 0 0 0 7.0,0 M492.5,179.5 a3.5,5.6 0 0 0 7.0,0 M499.5,179.5 a3.5,5.6 0 0 0 7.0,0 M506.5,179.5 a3.5,5.6 0 0 0 7.0,0 M513.5,179.5 a3.5,5.6 0 0 0 7.0,0 M520.5,179.5 a3.5,5.6 0 0 0 7.0,0 M527.5,179.5 a3.5,5.6 0 0 0 7.0,0 M534.5,179.5 a3.5,5.6 0 0 0 7.0,0 M541.5,179.5 a3.5,5.6 0 0 0 7.0,0 M548.5,179.5 a3.5,5.6 0 0 0 7.0,0 M555.5,179.5 a3.5,5.6 0 0 0 7.0,0 M300.0,184.8 a3.5,5.6 0 0 0 7.0,0 M307.0,184.8 a3.5,5.6 0 0 0 7.0,0 M314.0,184.8 a3.5,5.6 0 0 0 7.0,0 M321.0,184.8 a3.5,5.6 0 0 0 7.0,0 M328.0,184.8 a3.5,5.6 0 0 0 7.0,0 M335.0,184.8 a3.5,5.6 0 0 0 7.0,0 M342.0,184.8 a3.5,5.6 0 0 0 7.0,0 M349.0,184.8 a3.5,5.6 0 0 0 7.0,0 M356.0,184.8 a3.5,5.6 0 0 0 7.0,0 M363.0,184.8 a3.5,5.6 0 0 0 7.0,0 M370.0,184.8 a3.5,5.6 0 0 0 7.0,0 M377.0,184.8 a3.5,5.6 0 0 0 7.0,0 M384.0,184.8 a3.5,5.6 0 0 0 7.0,0 M391.0,184.8 a3.5,5.6 0 0 0 7.0,0 M398.0,184.8 a3.5,5.6 0 0 0 7.0,0 M405.0,184.8 a3.5,5.6 0 0 0 7.0,0 M412.0,184.8 a3.5,5.6 0 0 0 7.0,0 M419.0,184.8 a3.5,5.6 0 0 0 7.0,0 M426.0,184.8 a3.5,5.6 0 0 0 7.0,0 M433.0,184.8 a3.5,5.6 0 0 0 7.0,0 M440.0,184.8 a3.5,5.6 0 0 0 7.0,0 M447.0,184.8 a3.5,5.6 0 0 0 7.0,0 M454.0,184.8 a3.5,5.6 0 0 0 7.0,0 M461.0,184.8 a3.5,5.6 0 0 0 7.0,0 M468.0,184.8 a3.5,5.6 0 0 0 7.0,0 M475.0,184.8 a3.5,5.6 0 0 0 7.0,0 M482.0,184.8 a3.5,5.6 0 0 0 7.0,0 M489.0,184.8 a3.5,5.6 0 0 0 7.0,0 M496.0,184.8 a3.5,5.6 0 0 0 7.0,0 M503.0,184.8 a3.5,5.6 0 0 0 7.0,0 M510.0,184.8 a3.5,5.6 0 0 0 7.0,0 M517.0,184.8 a3.5,5.6 0 0 0 7.0,0 M524.0,184.8 a3.5,5.6 0 0 0 7.0,0 M531.0,184.8 a3.5,5.6 0 0 0 7.0,0 M538.0,184.8 a3.5,5.6 0 0 0 7.0,0 M545.0,184.8 a3.5,5.6 0 0 0 7.0,0 M552.0,184.8 a3.5,5.6 0 0 0 7.0,0 M559.0,184.8 a3.5,5.6 0 0 0 7.0,0 M303.5,190.1 a3.5,5.6 0 0 0 7.0,0 M310.5,190.1 a3.5,5.6 0 0 0 7.0,0 M317.5,190.1 a3.5,5.6 0 0 0 7.0,0 M324.5,190.1 a3.5,5.6 0 0 0 7.0,0 M331.5,190.1 a3.5,5.6 0 0 0 7.0,0 M338.5,190.1 a3.5,5.6 0 0 0 7.0,0 M345.5,190.1 a3.5,5.6 0 0 0 7.0,0 M352.5,190.1 a3.5,5.6 0 0 0 7.0,0 M359.5,190.1 a3.5,5.6 0 0 0 7.0,0 M366.5,190.1 a3.5,5.6 0 0 0 7.0,0 M373.5,190.1 a3.5,5.6 0 0 0 7.0,0 M380.5,190.1 a3.5,5.6 0 0 0 7.0,0 M387.5,190.1 a3.5,5.6 0 0 0 7.0,0 M394.5,190.1 a3.5,5.6 0 0 0 7.0,0 M401.5,190.1 a3.5,5.6 0 0 0 7.0,0 M408.5,190.1 a3.5,5.6 0 0 0 7.0,0 M415.5,190.1 a3.5,5.6 0 0 0 7.0,0 M422.5,190.1 a3.5,5.6 0 0 0 7.0,0 M429.5,190.1 a3.5,5.6 0 0 0 7.0,0 M436.5,190.1 a3.5,5.6 0 0 0 7.0,0 M443.5,190.1 a3.5,5.6 0 0 0 7.0,0 M450.5,190.1 a3.5,5.6 0 0 0 7.0,0 M457.5,190.1 a3.5,5.6 0 0 0 7.0,0 M464.5,190.1 a3.5,5.6 0 0 0 7.0,0 M471.5,190.1 a3.5,5.6 0 0 0 7.0,0 M478.5,190.1 a3.5,5.6 0 0 0 7.0,0 M485.5,190.1 a3.5,5.6 0 0 0 7.0,0 M492.5,190.1 a3.5,5.6 0 0 0 7.0,0 M499.5,190.1 a3.5,5.6 0 0 0 7.0,0 M506.5,190.1 a3.5,5.6 0 0 0 7.0,0 M513.5,190.1 a3.5,5.6 0 0 0 7.0,0 M520.5,190.1 a3.5,5.6 0 0 0 7.0,0 M527.5,190.1 a3.5,5.6 0 0 0 7.0,0 M534.5,190.1 a3.5,5.6 0 0 0 7.0,0 M541.5,190.1 a3.5,5.6 0 0 0 7.0,0 M548.5,190.1 a3.5,5.6 0 0 0 7.0,0 M555.5,190.1 a3.5,5.6 0 0 0 7.0,0 M300.0,195.4 a3.5,5.6 0 0 0 7.0,0 M307.0,195.4 a3.5,5.6 0 0 0 7.0,0 M314.0,195.4 a3.5,5.6 0 0 0 7.0,0 M321.0,195.4 a3.5,5.6 0 0 0 7.0,0 M328.0,195.4 a3.5,5.6 0 0 0 7.0,0 M335.0,195.4 a3.5,5.6 0 0 0 7.0,0 M342.0,195.4 a3.5,5.6 0 0 0 7.0,0 M349.0,195.4 a3.5,5.6 0 0 0 7.0,0 M356.0,195.4 a3.5,5.6 0 0 0 7.0,0 M363.0,195.4 a3.5,5.6 0 0 0 7.0,0 M370.0,195.4 a3.5,5.6 0 0 0 7.0,0 M377.0,195.4 a3.5,5.6 0 0 0 7.0,0 M384.0,195.4 a3.5,5.6 0 0 0 7.0,0 M391.0,195.4 a3.5,5.6 0 0 0 7.0,0 M398.0,195.4 a3.5,5.6 0 0 0 7.0,0 M405.0,195.4 a3.5,5.6 0 0 0 7.0,0 M412.0,195.4 a3.5,5.6 0 0 0 7.0,0 M419.0,195.4 a3.5,5.6 0 0 0 7.0,0 M426.0,195.4 a3.5,5.6 0 0 0 7.0,0 M433.0,195.4 a3.5,5.6 0 0 0 7.0,0 M440.0,195.4 a3.5,5.6 0 0 0 7.0,0 M447.0,195.4 a3.5,5.6 0 0 0 7.0,0 M454.0,195.4 a3.5,5.6 0 0 0 7.0,0 M461.0,195.4 a3.5,5.6 0 0 0 7.0,0 M468.0,195.4 a3.5,5.6 0 0 0 7.0,0 M475.0,195.4 a3.5,5.6 0 0 0 7.0,0 M482.0,195.4 a3.5,5.6 0 0 0 7.0,0 M489.0,195.4 a3.5,5.6 0 0 0 7.0,0 M496.0,195.4 a3.5,5.6 0 0 0 7.0,0 M503.0,195.4 a3.5,5.6 0 0 0 7.0,0 M510.0,195.4 a3.5,5.6 0 0 0 7.0,0 M517.0,195.4 a3.5,5.6 0 0 0 7.0,0 M524.0,195.4 a3.5,5.6 0 0 0 7.0,0 M531.0,195.4 a3.5,5.6 0 0 0 7.0,0 M538.0,195.4 a3.5,5.6 0 0 0 7.0,0 M545.0,195.4 a3.5,5.6 0 0 0 7.0,0 M552.0,195.4 a3.5,5.6 0 0 0 7.0,0 M559.0,195.4 a3.5,5.6 0 0 0 7.0,0 M303.5,200.7 a3.5,5.6 0 0 0 7.0,0 M310.5,200.7 a3.5,5.6 0 0 0 7.0,0 M317.5,200.7 a3.5,5.6 0 0 0 7.0,0 M324.5,200.7 a3.5,5.6 0 0 0 7.0,0 M331.5,200.7 a3.5,5.6 0 0 0 7.0,0 M338.5,200.7 a3.5,5.6 0 0 0 7.0,0 M345.5,200.7 a3.5,5.6 0 0 0 7.0,0 M352.5,200.7 a3.5,5.6 0 0 0 7.0,0 M359.5,200.7 a3.5,5.6 0 0 0 7.0,0 M366.5,200.7 a3.5,5.6 0 0 0 7.0,0 M373.5,200.7 a3.5,5.6 0 0 0 7.0,0 M380.5,200.7 a3.5,5.6 0 0 0 7.0,0 M387.5,200.7 a3.5,5.6 0 0 0 7.0,0 M394.5,200.7 a3.5,5.6 0 0 0 7.0,0 M401.5,200.7 a3.5,5.6 0 0 0 7.0,0 M408.5,200.7 a3.5,5.6 0 0 0 7.0,0 M415.5,200.7 a3.5,5.6 0 0 0 7.0,0 M422.5,200.7 a3.5,5.6 0 0 0 7.0,0 M429.5,200.7 a3.5,5.6 0 0 0 7.0,0 M436.5,200.7 a3.5,5.6 0 0 0 7.0,0 M443.5,200.7 a3.5,5.6 0 0 0 7.0,0 M450.5,200.7 a3.5,5.6 0 0 0 7.0,0 M457.5,200.7 a3.5,5.6 0 0 0 7.0,0 M464.5,200.7 a3.5,5.6 0 0 0 7.0,0 M471.5,200.7 a3.5,5.6 0 0 0 7.0,0 M478.5,200.7 a3.5,5.6 0 0 0 7.0,0 M485.5,200.7 a3.5,5.6 0 0 0 7.0,0 M492.5,200.7 a3.5,5.6 0 0 0 7.0,0 M499.5,200.7 a3.5,5.6 0 0 0 7.0,0 M506.5,200.7 a3.5,5.6 0 0 0 7.0,0 M513.5,200.7 a3.5,5.6 0 0 0 7.0,0 M520.5,200.7 a3.5,5.6 0 0 0 7.0,0 M527.5,200.7 a3.5,5.6 0 0 0 7.0,0 M534.5,200.7 a3.5,5.6 0 0 0 7.0,0 M541.5,200.7 a3.5,5.6 0 0 0 7.0,0 M548.5,200.7 a3.5,5.6 0 0 0 7.0,0 M555.5,200.7 a3.5,5.6 0 0 0 7.0,0 M300.0,206.0 a3.5,5.6 0 0 0 7.0,0 M307.0,206.0 a3.5,5.6 0 0 0 7.0,0 M314.0,206.0 a3.5,5.6 0 0 0 7.0,0 M321.0,206.0 a3.5,5.6 0 0 0 7.0,0 M328.0,206.0 a3.5,5.6 0 0 0 7.0,0 M335.0,206.0 a3.5,5.6 0 0 0 7.0,0 M342.0,206.0 a3.5,5.6 0 0 0 7.0,0 M349.0,206.0 a3.5,5.6 0 0 0 7.0,0 M356.0,206.0 a3.5,5.6 0 0 0 7.0,0 M363.0,206.0 a3.5,5.6 0 0 0 7.0,0 M370.0,206.0 a3.5,5.6 0 0 0 7.0,0 M377.0,206.0 a3.5,5.6 0 0 0 7.0,0 M384.0,206.0 a3.5,5.6 0 0 0 7.0,0 M391.0,206.0 a3.5,5.6 0 0 0 7.0,0 M398.0,206.0 a3.5,5.6 0 0 0 7.0,0 M405.0,206.0 a3.5,5.6 0 0 0 7.0,0 M412.0,206.0 a3.5,5.6 0 0 0 7.0,0 M419.0,206.0 a3.5,5.6 0 0 0 7.0,0 M426.0,206.0 a3.5,5.6 0 0 0 7.0,0 M433.0,206.0 a3.5,5.6 0 0 0 7.0,0 M440.0,206.0 a3.5,5.6 0 0 0 7.0,0 M447.0,206.0 a3.5,5.6 0 0 0 7.0,0 M454.0,206.0 a3.5,5.6 0 0 0 7.0,0 M461.0,206.0 a3.5,5.6 0 0 0 7.0,0 M468.0,206.0 a3.5,5.6 0 0 0 7.0,0 M475.0,206.0 a3.5,5.6 0 0 0 7.0,0 M482.0,206.0 a3.5,5.6 0 0 0 7.0,0 M489.0,206.0 a3.5,5.6 0 0 0 7.0,0 M496.0,206.0 a3.5,5.6 0 0 0 7.0,0 M503.0,206.0 a3.5,5.6 0 0 0 7.0,0 M510.0,206.0 a3.5,5.6 0 0 0 7.0,0 M517.0,206.0 a3.5,5.6 0 0 0 7.0,0 M524.0,206.0 a3.5,5.6 0 0 0 7.0,0 M531.0,206.0 a3.5,5.6 0 0 0 7.0,0 M538.0,206.0 a3.5,5.6 0 0 0 7.0,0 M545.0,206.0 a3.5,5.6 0 0 0 7.0,0 M552.0,206.0 a3.5,5.6 0 0 0 7.0,0 M559.0,206.0 a3.5,5.6 0 0 0 7.0,0 M303.5,211.3 a3.5,5.6 0 0 0 7.0,0 M310.5,211.3 a3.5,5.6 0 0 0 7.0,0 M317.5,211.3 a3.5,5.6 0 0 0 7.0,0 M324.5,211.3 a3.5,5.6 0 0 0 7.0,0 M331.5,211.3 a3.5,5.6 0 0 0 7.0,0 M338.5,211.3 a3.5,5.6 0 0 0 7.0,0 M345.5,211.3 a3.5,5.6 0 0 0 7.0,0 M352.5,211.3 a3.5,5.6 0 0 0 7.0,0 M359.5,211.3 a3.5,5.6 0 0 0 7.0,0 M366.5,211.3 a3.5,5.6 0 0 0 7.0,0 M373.5,211.3 a3.5,5.6 0 0 0 7.0,0 M380.5,211.3 a3.5,5.6 0 0 0 7.0,0 M387.5,211.3 a3.5,5.6 0 0 0 7.0,0 M394.5,211.3 a3.5,5.6 0 0 0 7.0,0 M401.5,211.3 a3.5,5.6 0 0 0 7.0,0 M408.5,211.3 a3.5,5.6 0 0 0 7.0,0 M415.5,211.3 a3.5,5.6 0 0 0 7.0,0 M422.5,211.3 a3.5,5.6 0 0 0 7.0,0 M429.5,211.3 a3.5,5.6 0 0 0 7.0,0 M436.5,211.3 a3.5,5.6 0 0 0 7.0,0 M443.5,211.3 a3.5,5.6 0 0 0 7.0,0 M450.5,211.3 a3.5,5.6 0 0 0 7.0,0 M457.5,211.3 a3.5,5.6 0 0 0 7.0,0 M464.5,211.3 a3.5,5.6 0 0 0 7.0,0 M471.5,211.3 a3.5,5.6 0 0 0 7.0,0 M478.5,211.3 a3.5,5.6 0 0 0 7.0,0 M485.5,211.3 a3.5,5.6 0 0 0 7.0,0 M492.5,211.3 a3.5,5.6 0 0 0 7.0,0 M499.5,211.3 a3.5,5.6 0 0 0 7.0,0 M506.5,211.3 a3.5,5.6 0 0 0 7.0,0 M513.5,211.3 a3.5,5.6 0 0 0 7.0,0 M520.5,211.3 a3.5,5.6 0 0 0 7.0,0 M527.5,211.3 a3.5,5.6 0 0 0 7.0,0 M534.5,211.3 a3.5,5.6 0 0 0 7.0,0 M541.5,211.3 a3.5,5.6 0 0 0 7.0,0 M548.5,211.3 a3.5,5.6 0 0 0 7.0,0 M555.5,211.3 a3.5,5.6 0 0 0 7.0,0 M300.0,216.6 a3.5,5.6 0 0 0 7.0,0 M307.0,216.6 a3.5,5.6 0 0 0 7.0,0 M314.0,216.6 a3.5,5.6 0 0 0 7.0,0 M321.0,216.6 a3.5,5.6 0 0 0 7.0,0 M328.0,216.6 a3.5,5.6 0 0 0 7.0,0 M335.0,216.6 a3.5,5.6 0 0 0 7.0,0 M342.0,216.6 a3.5,5.6 0 0 0 7.0,0 M349.0,216.6 a3.5,5.6 0 0 0 7.0,0 M356.0,216.6 a3.5,5.6 0 0 0 7.0,0 M363.0,216.6 a3.5,5.6 0 0 0 7.0,0 M370.0,216.6 a3.5,5.6 0 0 0 7.0,0 M377.0,216.6 a3.5,5.6 0 0 0 7.0,0 M384.0,216.6 a3.5,5.6 0 0 0 7.0,0 M391.0,216.6 a3.5,5.6 0 0 0 7.0,0 M398.0,216.6 a3.5,5.6 0 0 0 7.0,0 M405.0,216.6 a3.5,5.6 0 0 0 7.0,0 M412.0,216.6 a3.5,5.6 0 0 0 7.0,0 M419.0,216.6 a3.5,5.6 0 0 0 7.0,0 M426.0,216.6 a3.5,5.6 0 0 0 7.0,0 M433.0,216.6 a3.5,5.6 0 0 0 7.0,0 M440.0,216.6 a3.5,5.6 0 0 0 7.0,0 M447.0,216.6 a3.5,5.6 0 0 0 7.0,0 M454.0,216.6 a3.5,5.6 0 0 0 7.0,0 M461.0,216.6 a3.5,5.6 0 0 0 7.0,0 M468.0,216.6 a3.5,5.6 0 0 0 7.0,0 M475.0,216.6 a3.5,5.6 0 0 0 7.0,0 M482.0,216.6 a3.5,5.6 0 0 0 7.0,0 M489.0,216.6 a3.5,5.6 0 0 0 7.0,0 M496.0,216.6 a3.5,5.6 0 0 0 7.0,0 M503.0,216.6 a3.5,5.6 0 0 0 7.0,0 M510.0,216.6 a3.5,5.6 0 0 0 7.0,0 M517.0,216.6 a3.5,5.6 0 0 0 7.0,0 M524.0,216.6 a3.5,5.6 0 0 0 7.0,0 M531.0,216.6 a3.5,5.6 0 0 0 7.0,0 M538.0,216.6 a3.5,5.6 0 0 0 7.0,0 M545.0,216.6 a3.5,5.6 0 0 0 7.0,0 M552.0,216.6 a3.5,5.6 0 0 0 7.0,0 M559.0,216.6 a3.5,5.6 0 0 0 7.0,0 M303.5,221.9 a3.5,5.6 0 0 0 7.0,0 M310.5,221.9 a3.5,5.6 0 0 0 7.0,0 M317.5,221.9 a3.5,5.6 0 0 0 7.0,0 M324.5,221.9 a3.5,5.6 0 0 0 7.0,0 M331.5,221.9 a3.5,5.6 0 0 0 7.0,0 M338.5,221.9 a3.5,5.6 0 0 0 7.0,0 M345.5,221.9 a3.5,5.6 0 0 0 7.0,0 M352.5,221.9 a3.5,5.6 0 0 0 7.0,0 M359.5,221.9 a3.5,5.6 0 0 0 7.0,0 M366.5,221.9 a3.5,5.6 0 0 0 7.0,0 M373.5,221.9 a3.5,5.6 0 0 0 7.0,0 M380.5,221.9 a3.5,5.6 0 0 0 7.0,0 M387.5,221.9 a3.5,5.6 0 0 0 7.0,0 M394.5,221.9 a3.5,5.6 0 0 0 7.0,0 M401.5,221.9 a3.5,5.6 0 0 0 7.0,0 M408.5,221.9 a3.5,5.6 0 0 0 7.0,0 M415.5,221.9 a3.5,5.6 0 0 0 7.0,0 M422.5,221.9 a3.5,5.6 0 0 0 7.0,0 M429.5,221.9 a3.5,5.6 0 0 0 7.0,0 M436.5,221.9 a3.5,5.6 0 0 0 7.0,0 M443.5,221.9 a3.5,5.6 0 0 0 7.0,0 M450.5,221.9 a3.5,5.6 0 0 0 7.0,0 M457.5,221.9 a3.5,5.6 0 0 0 7.0,0 M464.5,221.9 a3.5,5.6 0 0 0 7.0,0 M471.5,221.9 a3.5,5.6 0 0 0 7.0,0 M478.5,221.9 a3.5,5.6 0 0 0 7.0,0 M485.5,221.9 a3.5,5.6 0 0 0 7.0,0 M492.5,221.9 a3.5,5.6 0 0 0 7.0,0 M499.5,221.9 a3.5,5.6 0 0 0 7.0,0 M506.5,221.9 a3.5,5.6 0 0 0 7.0,0 M513.5,221.9 a3.5,5.6 0 0 0 7.0,0 M520.5,221.9 a3.5,5.6 0 0 0 7.0,0 M527.5,221.9 a3.5,5.6 0 0 0 7.0,0 M534.5,221.9 a3.5,5.6 0 0 0 7.0,0 M541.5,221.9 a3.5,5.6 0 0 0 7.0,0 M548.5,221.9 a3.5,5.6 0 0 0 7.0,0 M555.5,221.9 a3.5,5.6 0 0 0 7.0,0 M300.0,227.2 a3.5,5.6 0 0 0 7.0,0 M307.0,227.2 a3.5,5.6 0 0 0 7.0,0 M314.0,227.2 a3.5,5.6 0 0 0 7.0,0 M321.0,227.2 a3.5,5.6 0 0 0 7.0,0 M328.0,227.2 a3.5,5.6 0 0 0 7.0,0 M335.0,227.2 a3.5,5.6 0 0 0 7.0,0 M342.0,227.2 a3.5,5.6 0 0 0 7.0,0 M349.0,227.2 a3.5,5.6 0 0 0 7.0,0 M356.0,227.2 a3.5,5.6 0 0 0 7.0,0 M363.0,227.2 a3.5,5.6 0 0 0 7.0,0 M370.0,227.2 a3.5,5.6 0 0 0 7.0,0 M377.0,227.2 a3.5,5.6 0 0 0 7.0,0 M384.0,227.2 a3.5,5.6 0 0 0 7.0,0 M391.0,227.2 a3.5,5.6 0 0 0 7.0,0 M398.0,227.2 a3.5,5.6 0 0 0 7.0,0 M405.0,227.2 a3.5,5.6 0 0 0 7.0,0 M412.0,227.2 a3.5,5.6 0 0 0 7.0,0 M419.0,227.2 a3.5,5.6 0 0 0 7.0,0 M426.0,227.2 a3.5,5.6 0 0 0 7.0,0 M433.0,227.2 a3.5,5.6 0 0 0 7.0,0 M440.0,227.2 a3.5,5.6 0 0 0 7.0,0 M447.0,227.2 a3.5,5.6 0 0 0 7.0,0 M454.0,227.2 a3.5,5.6 0 0 0 7.0,0 M461.0,227.2 a3.5,5.6 0 0 0 7.0,0 M468.0,227.2 a3.5,5.6 0 0 0 7.0,0 M475.0,227.2 a3.5,5.6 0 0 0 7.0,0 M482.0,227.2 a3.5,5.6 0 0 0 7.0,0 M489.0,227.2 a3.5,5.6 0 0 0 7.0,0 M496.0,227.2 a3.5,5.6 0 0 0 7.0,0 M503.0,227.2 a3.5,5.6 0 0 0 7.0,0 M510.0,227.2 a3.5,5.6 0 0 0 7.0,0 M517.0,227.2 a3.5,5.6 0 0 0 7.0,0 M524.0,227.2 a3.5,5.6 0 0 0 7.0,0 M531.0,227.2 a3.5,5.6 0 0 0 7.0,0 M538.0,227.2 a3.5,5.6 0 0 0 7.0,0 M545.0,227.2 a3.5,5.6 0 0 0 7.0,0 M552.0,227.2 a3.5,5.6 0 0 0 7.0,0 M559.0,227.2 a3.5,5.6 0 0 0 7.0,0 M303.5,232.5 a3.5,5.6 0 0 0 7.0,0 M310.5,232.5 a3.5,5.6 0 0 0 7.0,0 M317.5,232.5 a3.5,5.6 0 0 0 7.0,0 M324.5,232.5 a3.5,5.6 0 0 0 7.0,0 M331.5,232.5 a3.5,5.6 0 0 0 7.0,0 M338.5,232.5 a3.5,5.6 0 0 0 7.0,0 M345.5,232.5 a3.5,5.6 0 0 0 7.0,0 M352.5,232.5 a3.5,5.6 0 0 0 7.0,0 M359.5,232.5 a3.5,5.6 0 0 0 7.0,0 M366.5,232.5 a3.5,5.6 0 0 0 7.0,0 M373.5,232.5 a3.5,5.6 0 0 0 7.0,0 M380.5,232.5 a3.5,5.6 0 0 0 7.0,0 M387.5,232.5 a3.5,5.6 0 0 0 7.0,0 M394.5,232.5 a3.5,5.6 0 0 0 7.0,0 M401.5,232.5 a3.5,5.6 0 0 0 7.0,0 M408.5,232.5 a3.5,5.6 0 0 0 7.0,0 M415.5,232.5 a3.5,5.6 0 0 0 7.0,0 M422.5,232.5 a3.5,5.6 0 0 0 7.0,0 M429.5,232.5 a3.5,5.6 0 0 0 7.0,0 M436.5,232.5 a3.5,5.6 0 0 0 7.0,0 M443.5,232.5 a3.5,5.6 0 0 0 7.0,0 M450.5,232.5 a3.5,5.6 0 0 0 7.0,0 M457.5,232.5 a3.5,5.6 0 0 0 7.0,0 M464.5,232.5 a3.5,5.6 0 0 0 7.0,0 M471.5,232.5 a3.5,5.6 0 0 0 7.0,0 M478.5,232.5 a3.5,5.6 0 0 0 7.0,0 M485.5,232.5 a3.5,5.6 0 0 0 7.0,0 M492.5,232.5 a3.5,5.6 0 0 0 7.0,0 M499.5,232.5 a3.5,5.6 0 0 0 7.0,0 M506.5,232.5 a3.5,5.6 0 0 0 7.0,0 M513.5,232.5 a3.5,5.6 0 0 0 7.0,0 M520.5,232.5 a3.5,5.6 0 0 0 7.0,0 M527.5,232.5 a3.5,5.6 0 0 0 7.0,0 M534.5,232.5 a3.5,5.6 0 0 0 7.0,0 M541.5,232.5 a3.5,5.6 0 0 0 7.0,0 M548.5,232.5 a3.5,5.6 0 0 0 7.0,0 M555.5,232.5 a3.5,5.6 0 0 0 7.0,0 M300.0,237.8 a3.5,5.6 0 0 0 7.0,0 M307.0,237.8 a3.5,5.6 0 0 0 7.0,0 M314.0,237.8 a3.5,5.6 0 0 0 7.0,0 M321.0,237.8 a3.5,5.6 0 0 0 7.0,0 M328.0,237.8 a3.5,5.6 0 0 0 7.0,0 M335.0,237.8 a3.5,5.6 0 0 0 7.0,0 M342.0,237.8 a3.5,5.6 0 0 0 7.0,0 M349.0,237.8 a3.5,5.6 0 0 0 7.0,0 M356.0,237.8 a3.5,5.6 0 0 0 7.0,0 M363.0,237.8 a3.5,5.6 0 0 0 7.0,0 M370.0,237.8 a3.5,5.6 0 0 0 7.0,0 M377.0,237.8 a3.5,5.6 0 0 0 7.0,0 M384.0,237.8 a3.5,5.6 0 0 0 7.0,0 M391.0,237.8 a3.5,5.6 0 0 0 7.0,0 M398.0,237.8 a3.5,5.6 0 0 0 7.0,0 M405.0,237.8 a3.5,5.6 0 0 0 7.0,0 M412.0,237.8 a3.5,5.6 0 0 0 7.0,0 M419.0,237.8 a3.5,5.6 0 0 0 7.0,0 M426.0,237.8 a3.5,5.6 0 0 0 7.0,0 M433.0,237.8 a3.5,5.6 0 0 0 7.0,0 M440.0,237.8 a3.5,5.6 0 0 0 7.0,0 M447.0,237.8 a3.5,5.6 0 0 0 7.0,0 M454.0,237.8 a3.5,5.6 0 0 0 7.0,0 M461.0,237.8 a3.5,5.6 0 0 0 7.0,0 M468.0,237.8 a3.5,5.6 0 0 0 7.0,0 M475.0,237.8 a3.5,5.6 0 0 0 7.0,0 M482.0,237.8 a3.5,5.6 0 0 0 7.0,0 M489.0,237.8 a3.5,5.6 0 0 0 7.0,0 M496.0,237.8 a3.5,5.6 0 0 0 7.0,0 M503.0,237.8 a3.5,5.6 0 0 0 7.0,0 M510.0,237.8 a3.5,5.6 0 0 0 7.0,0 M517.0,237.8 a3.5,5.6 0 0 0 7.0,0 M524.0,237.8 a3.5,5.6 0 0 0 7.0,0 M531.0,237.8 a3.5,5.6 0 0 0 7.0,0 M538.0,237.8 a3.5,5.6 0 0 0 7.0,0 M545.0,237.8 a3.5,5.6 0 0 0 7.0,0 M552.0,237.8 a3.5,5.6 0 0 0 7.0,0 M559.0,237.8 a3.5,5.6 0 0 0 7.0,0 M303.5,243.1 a3.5,5.6 0 0 0 7.0,0 M310.5,243.1 a3.5,5.6 0 0 0 7.0,0 M317.5,243.1 a3.5,5.6 0 0 0 7.0,0 M324.5,243.1 a3.5,5.6 0 0 0 7.0,0 M331.5,243.1 a3.5,5.6 0 0 0 7.0,0 M338.5,243.1 a3.5,5.6 0 0 0 7.0,0 M345.5,243.1 a3.5,5.6 0 0 0 7.0,0 M352.5,243.1 a3.5,5.6 0 0 0 7.0,0 M359.5,243.1 a3.5,5.6 0 0 0 7.0,0 M366.5,243.1 a3.5,5.6 0 0 0 7.0,0 M373.5,243.1 a3.5,5.6 0 0 0 7.0,0 M380.5,243.1 a3.5,5.6 0 0 0 7.0,0 M387.5,243.1 a3.5,5.6 0 0 0 7.0,0 M394.5,243.1 a3.5,5.6 0 0 0 7.0,0 M401.5,243.1 a3.5,5.6 0 0 0 7.0,0 M408.5,243.1 a3.5,5.6 0 0 0 7.0,0 M415.5,243.1 a3.5,5.6 0 0 0 7.0,0 M422.5,243.1 a3.5,5.6 0 0 0 7.0,0 M429.5,243.1 a3.5,5.6 0 0 0 7.0,0 M436.5,243.1 a3.5,5.6 0 0 0 7.0,0 M443.5,243.1 a3.5,5.6 0 0 0 7.0,0 M450.5,243.1 a3.5,5.6 0 0 0 7.0,0 M457.5,243.1 a3.5,5.6 0 0 0 7.0,0 M464.5,243.1 a3.5,5.6 0 0 0 7.0,0 M471.5,243.1 a3.5,5.6 0 0 0 7.0,0 M478.5,243.1 a3.5,5.6 0 0 0 7.0,0 M485.5,243.1 a3.5,5.6 0 0 0 7.0,0 M492.5,243.1 a3.5,5.6 0 0 0 7.0,0 M499.5,243.1 a3.5,5.6 0 0 0 7.0,0 M506.5,243.1 a3.5,5.6 0 0 0 7.0,0 M513.5,243.1 a3.5,5.6 0 0 0 7.0,0 M520.5,243.1 a3.5,5.6 0 0 0 7.0,0 M527.5,243.1 a3.5,5.6 0 0 0 7.0,0 M534.5,243.1 a3.5,5.6 0 0 0 7.0,0 M541.5,243.1 a3.5,5.6 0 0 0 7.0,0 M548.5,243.1 a3.5,5.6 0 0 0 7.0,0 M555.5,243.1 a3.5,5.6 0 0 0 7.0,0 M300.0,248.4 a3.5,5.6 0 0 0 7.0,0 M307.0,248.4 a3.5,5.6 0 0 0 7.0,0 M314.0,248.4 a3.5,5.6 0 0 0 7.0,0 M321.0,248.4 a3.5,5.6 0 0 0 7.0,0 M328.0,248.4 a3.5,5.6 0 0 0 7.0,0 M335.0,248.4 a3.5,5.6 0 0 0 7.0,0 M342.0,248.4 a3.5,5.6 0 0 0 7.0,0 M349.0,248.4 a3.5,5.6 0 0 0 7.0,0 M356.0,248.4 a3.5,5.6 0 0 0 7.0,0 M363.0,248.4 a3.5,5.6 0 0 0 7.0,0 M370.0,248.4 a3.5,5.6 0 0 0 7.0,0 M377.0,248.4 a3.5,5.6 0 0 0 7.0,0 M384.0,248.4 a3.5,5.6 0 0 0 7.0,0 M391.0,248.4 a3.5,5.6 0 0 0 7.0,0 M398.0,248.4 a3.5,5.6 0 0 0 7.0,0 M405.0,248.4 a3.5,5.6 0 0 0 7.0,0 M412.0,248.4 a3.5,5.6 0 0 0 7.0,0 M419.0,248.4 a3.5,5.6 0 0 0 7.0,0 M426.0,248.4 a3.5,5.6 0 0 0 7.0,0 M433.0,248.4 a3.5,5.6 0 0 0 7.0,0 M440.0,248.4 a3.5,5.6 0 0 0 7.0,0 M447.0,248.4 a3.5,5.6 0 0 0 7.0,0 M454.0,248.4 a3.5,5.6 0 0 0 7.0,0 M461.0,248.4 a3.5,5.6 0 0 0 7.0,0 M468.0,248.4 a3.5,5.6 0 0 0 7.0,0 M475.0,248.4 a3.5,5.6 0 0 0 7.0,0 M482.0,248.4 a3.5,5.6 0 0 0 7.0,0 M489.0,248.4 a3.5,5.6 0 0 0 7.0,0 M496.0,248.4 a3.5,5.6 0 0 0 7.0,0 M503.0,248.4 a3.5,5.6 0 0 0 7.0,0 M510.0,248.4 a3.5,5.6 0 0 0 7.0,0 M517.0,248.4 a3.5,5.6 0 0 0 7.0,0 M524.0,248.4 a3.5,5.6 0 0 0 7.0,0 M531.0,248.4 a3.5,5.6 0 0 0 7.0,0 M538.0,248.4 a3.5,5.6 0 0 0 7.0,0 M545.0,248.4 a3.5,5.6 0 0 0 7.0,0 M552.0,248.4 a3.5,5.6 0 0 0 7.0,0 M559.0,248.4 a3.5,5.6 0 0 0 7.0,0 M303.5,253.7 a3.5,5.6 0 0 0 7.0,0 M310.5,253.7 a3.5,5.6 0 0 0 7.0,0 M317.5,253.7 a3.5,5.6 0 0 0 7.0,0 M324.5,253.7 a3.5,5.6 0 0 0 7.0,0 M331.5,253.7 a3.5,5.6 0 0 0 7.0,0 M338.5,253.7 a3.5,5.6 0 0 0 7.0,0 M345.5,253.7 a3.5,5.6 0 0 0 7.0,0 M352.5,253.7 a3.5,5.6 0 0 0 7.0,0 M359.5,253.7 a3.5,5.6 0 0 0 7.0,0 M366.5,253.7 a3.5,5.6 0 0 0 7.0,0 M373.5,253.7 a3.5,5.6 0 0 0 7.0,0 M380.5,253.7 a3.5,5.6 0 0 0 7.0,0 M387.5,253.7 a3.5,5.6 0 0 0 7.0,0 M394.5,253.7 a3.5,5.6 0 0 0 7.0,0 M401.5,253.7 a3.5,5.6 0 0 0 7.0,0 M408.5,253.7 a3.5,5.6 0 0 0 7.0,0 M415.5,253.7 a3.5,5.6 0 0 0 7.0,0 M422.5,253.7 a3.5,5.6 0 0 0 7.0,0 M429.5,253.7 a3.5,5.6 0 0 0 7.0,0 M436.5,253.7 a3.5,5.6 0 0 0 7.0,0 M443.5,253.7 a3.5,5.6 0 0 0 7.0,0 M450.5,253.7 a3.5,5.6 0 0 0 7.0,0 M457.5,253.7 a3.5,5.6 0 0 0 7.0,0 M464.5,253.7 a3.5,5.6 0 0 0 7.0,0 M471.5,253.7 a3.5,5.6 0 0 0 7.0,0 M478.5,253.7 a3.5,5.6 0 0 0 7.0,0 M485.5,253.7 a3.5,5.6 0 0 0 7.0,0 M492.5,253.7 a3.5,5.6 0 0 0 7.0,0 M499.5,253.7 a3.5,5.6 0 0 0 7.0,0 M506.5,253.7 a3.5,5.6 0 0 0 7.0,0 M513.5,253.7 a3.5,5.6 0 0 0 7.0,0 M520.5,253.7 a3.5,5.6 0 0 0 7.0,0 M527.5,253.7 a3.5,5.6 0 0 0 7.0,0 M534.5,253.7 a3.5,5.6 0 0 0 7.0,0 M541.5,253.7 a3.5,5.6 0 0 0 7.0,0 M548.5,253.7 a3.5,5.6 0 0 0 7.0,0 M555.5,253.7 a3.5,5.6 0 0 0 7.0,0 M300.0,259.0 a3.5,5.6 0 0 0 7.0,0 M307.0,259.0 a3.5,5.6 0 0 0 7.0,0 M314.0,259.0 a3.5,5.6 0 0 0 7.0,0 M321.0,259.0 a3.5,5.6 0 0 0 7.0,0 M328.0,259.0 a3.5,5.6 0 0 0 7.0,0 M335.0,259.0 a3.5,5.6 0 0 0 7.0,0 M342.0,259.0 a3.5,5.6 0 0 0 7.0,0 M349.0,259.0 a3.5,5.6 0 0 0 7.0,0 M356.0,259.0 a3.5,5.6 0 0 0 7.0,0 M363.0,259.0 a3.5,5.6 0 0 0 7.0,0 M370.0,259.0 a3.5,5.6 0 0 0 7.0,0 M377.0,259.0 a3.5,5.6 0 0 0 7.0,0 M384.0,259.0 a3.5,5.6 0 0 0 7.0,0 M391.0,259.0 a3.5,5.6 0 0 0 7.0,0 M398.0,259.0 a3.5,5.6 0 0 0 7.0,0 M405.0,259.0 a3.5,5.6 0 0 0 7.0,0 M412.0,259.0 a3.5,5.6 0 0 0 7.0,0 M419.0,259.0 a3.5,5.6 0 0 0 7.0,0 M426.0,259.0 a3.5,5.6 0 0 0 7.0,0 M433.0,259.0 a3.5,5.6 0 0 0 7.0,0 M440.0,259.0 a3.5,5.6 0 0 0 7.0,0 M447.0,259.0 a3.5,5.6 0 0 0 7.0,0 M454.0,259.0 a3.5,5.6 0 0 0 7.0,0 M461.0,259.0 a3.5,5.6 0 0 0 7.0,0 M468.0,259.0 a3.5,5.6 0 0 0 7.0,0 M475.0,259.0 a3.5,5.6 0 0 0 7.0,0 M482.0,259.0 a3.5,5.6 0 0 0 7.0,0 M489.0,259.0 a3.5,5.6 0 0 0 7.0,0 M496.0,259.0 a3.5,5.6 0 0 0 7.0,0 M503.0,259.0 a3.5,5.6 0 0 0 7.0,0 M510.0,259.0 a3.5,5.6 0 0 0 7.0,0 M517.0,259.0 a3.5,5.6 0 0 0 7.0,0 M524.0,259.0 a3.5,5.6 0 0 0 7.0,0 M531.0,259.0 a3.5,5.6 0 0 0 7.0,0 M538.0,259.0 a3.5,5.6 0 0 0 7.0,0 M545.0,259.0 a3.5,5.6 0 0 0 7.0,0 M552.0,259.0 a3.5,5.6 0 0 0 7.0,0 M559.0,259.0 a3.5,5.6 0 0 0 7.0,0 M303.5,264.3 a3.5,5.6 0 0 0 7.0,0 M310.5,264.3 a3.5,5.6 0 0 0 7.0,0 M317.5,264.3 a3.5,5.6 0 0 0 7.0,0 M324.5,264.3 a3.5,5.6 0 0 0 7.0,0 M331.5,264.3 a3.5,5.6 0 0 0 7.0,0 M338.5,264.3 a3.5,5.6 0 0 0 7.0,0 M345.5,264.3 a3.5,5.6 0 0 0 7.0,0 M352.5,264.3 a3.5,5.6 0 0 0 7.0,0 M359.5,264.3 a3.5,5.6 0 0 0 7.0,0 M366.5,264.3 a3.5,5.6 0 0 0 7.0,0 M373.5,264.3 a3.5,5.6 0 0 0 7.0,0 M380.5,264.3 a3.5,5.6 0 0 0 7.0,0 M387.5,264.3 a3.5,5.6 0 0 0 7.0,0 M394.5,264.3 a3.5,5.6 0 0 0 7.0,0 M401.5,264.3 a3.5,5.6 0 0 0 7.0,0 M408.5,264.3 a3.5,5.6 0 0 0 7.0,0 M415.5,264.3 a3.5,5.6 0 0 0 7.0,0 M422.5,264.3 a3.5,5.6 0 0 0 7.0,0 M429.5,264.3 a3.5,5.6 0 0 0 7.0,0 M436.5,264.3 a3.5,5.6 0 0 0 7.0,0 M443.5,264.3 a3.5,5.6 0 0 0 7.0,0 M450.5,264.3 a3.5,5.6 0 0 0 7.0,0 M457.5,264.3 a3.5,5.6 0 0 0 7.0,0 M464.5,264.3 a3.5,5.6 0 0 0 7.0,0 M471.5,264.3 a3.5,5.6 0 0 0 7.0,0 M478.5,264.3 a3.5,5.6 0 0 0 7.0,0 M485.5,264.3 a3.5,5.6 0 0 0 7.0,0 M492.5,264.3 a3.5,5.6 0 0 0 7.0,0 M499.5,264.3 a3.5,5.6 0 0 0 7.0,0 M506.5,264.3 a3.5,5.6 0 0 0 7.0,0 M513.5,264.3 a3.5,5.6 0 0 0 7.0,0 M520.5,264.3 a3.5,5.6 0 0 0 7.0,0 M527.5,264.3 a3.5,5.6 0 0 0 7.0,0 M534.5,264.3 a3.5,5.6 0 0 0 7.0,0 M541.5,264.3 a3.5,5.6 0 0 0 7.0,0 M548.5,264.3 a3.5,5.6 0 0 0 7.0,0 M555.5,264.3 a3.5,5.6 0 0 0 7.0,0 M300.0,269.6 a3.5,5.6 0 0 0 7.0,0 M307.0,269.6 a3.5,5.6 0 0 0 7.0,0 M314.0,269.6 a3.5,5.6 0 0 0 7.0,0 M321.0,269.6 a3.5,5.6 0 0 0 7.0,0 M328.0,269.6 a3.5,5.6 0 0 0 7.0,0 M335.0,269.6 a3.5,5.6 0 0 0 7.0,0 M342.0,269.6 a3.5,5.6 0 0 0 7.0,0 M349.0,269.6 a3.5,5.6 0 0 0 7.0,0 M356.0,269.6 a3.5,5.6 0 0 0 7.0,0 M363.0,269.6 a3.5,5.6 0 0 0 7.0,0 M370.0,269.6 a3.5,5.6 0 0 0 7.0,0 M377.0,269.6 a3.5,5.6 0 0 0 7.0,0 M384.0,269.6 a3.5,5.6 0 0 0 7.0,0 M391.0,269.6 a3.5,5.6 0 0 0 7.0,0 M398.0,269.6 a3.5,5.6 0 0 0 7.0,0 M405.0,269.6 a3.5,5.6 0 0 0 7.0,0 M412.0,269.6 a3.5,5.6 0 0 0 7.0,0 M419.0,269.6 a3.5,5.6 0 0 0 7.0,0 M426.0,269.6 a3.5,5.6 0 0 0 7.0,0 M433.0,269.6 a3.5,5.6 0 0 0 7.0,0 M440.0,269.6 a3.5,5.6 0 0 0 7.0,0 M447.0,269.6 a3.5,5.6 0 0 0 7.0,0 M454.0,269.6 a3.5,5.6 0 0 0 7.0,0 M461.0,269.6 a3.5,5.6 0 0 0 7.0,0 M468.0,269.6 a3.5,5.6 0 0 0 7.0,0 M475.0,269.6 a3.5,5.6 0 0 0 7.0,0 M482.0,269.6 a3.5,5.6 0 0 0 7.0,0 M489.0,269.6 a3.5,5.6 0 0 0 7.0,0 M496.0,269.6 a3.5,5.6 0 0 0 7.0,0 M503.0,269.6 a3.5,5.6 0 0 0 7.0,0 M510.0,269.6 a3.5,5.6 0 0 0 7.0,0 M517.0,269.6 a3.5,5.6 0 0 0 7.0,0 M524.0,269.6 a3.5,5.6 0 0 0 7.0,0 M531.0,269.6 a3.5,5.6 0 0 0 7.0,0 M538.0,269.6 a3.5,5.6 0 0 0 7.0,0 M545.0,269.6 a3.5,5.6 0 0 0 7.0,0 M552.0,269.6 a3.5,5.6 0 0 0 7.0,0 M559.0,269.6 a3.5,5.6 0 0 0 7.0,0 M303.5,274.9 a3.5,5.6 0 0 0 7.0,0 M310.5,274.9 a3.5,5.6 0 0 0 7.0,0 M317.5,274.9 a3.5,5.6 0 0 0 7.0,0 M324.5,274.9 a3.5,5.6 0 0 0 7.0,0 M331.5,274.9 a3.5,5.6 0 0 0 7.0,0 M338.5,274.9 a3.5,5.6 0 0 0 7.0,0 M345.5,274.9 a3.5,5.6 0 0 0 7.0,0 M352.5,274.9 a3.5,5.6 0 0 0 7.0,0 M359.5,274.9 a3.5,5.6 0 0 0 7.0,0 M366.5,274.9 a3.5,5.6 0 0 0 7.0,0 M373.5,274.9 a3.5,5.6 0 0 0 7.0,0 M380.5,274.9 a3.5,5.6 0 0 0 7.0,0 M387.5,274.9 a3.5,5.6 0 0 0 7.0,0 M394.5,274.9 a3.5,5.6 0 0 0 7.0,0 M401.5,274.9 a3.5,5.6 0 0 0 7.0,0 M408.5,274.9 a3.5,5.6 0 0 0 7.0,0 M415.5,274.9 a3.5,5.6 0 0 0 7.0,0 M422.5,274.9 a3.5,5.6 0 0 0 7.0,0 M429.5,274.9 a3.5,5.6 0 0 0 7.0,0 M436.5,274.9 a3.5,5.6 0 0 0 7.0,0 M443.5,274.9 a3.5,5.6 0 0 0 7.0,0 M450.5,274.9 a3.5,5.6 0 0 0 7.0,0 M457.5,274.9 a3.5,5.6 0 0 0 7.0,0 M464.5,274.9 a3.5,5.6 0 0 0 7.0,0 M471.5,274.9 a3.5,5.6 0 0 0 7.0,0 M478.5,274.9 a3.5,5.6 0 0 0 7.0,0 M485.5,274.9 a3.5,5.6 0 0 0 7.0,0 M492.5,274.9 a3.5,5.6 0 0 0 7.0,0 M499.5,274.9 a3.5,5.6 0 0 0 7.0,0 M506.5,274.9 a3.5,5.6 0 0 0 7.0,0 M513.5,274.9 a3.5,5.6 0 0 0 7.0,0 M520.5,274.9 a3.5,5.6 0 0 0 7.0,0 M527.5,274.9 a3.5,5.6 0 0 0 7.0,0 M534.5,274.9 a3.5,5.6 0 0 0 7.0,0 M541.5,274.9 a3.5,5.6 0 0 0 7.0,0 M548.5,274.9 a3.5,5.6 0 0 0 7.0,0 M555.5,274.9 a3.5,5.6 0 0 0 7.0,0 M300.0,280.2 a3.5,5.6 0 0 0 7.0,0 M307.0,280.2 a3.5,5.6 0 0 0 7.0,0 M314.0,280.2 a3.5,5.6 0 0 0 7.0,0 M321.0,280.2 a3.5,5.6 0 0 0 7.0,0 M328.0,280.2 a3.5,5.6 0 0 0 7.0,0 M335.0,280.2 a3.5,5.6 0 0 0 7.0,0 M342.0,280.2 a3.5,5.6 0 0 0 7.0,0 M349.0,280.2 a3.5,5.6 0 0 0 7.0,0 M356.0,280.2 a3.5,5.6 0 0 0 7.0,0 M363.0,280.2 a3.5,5.6 0 0 0 7.0,0 M370.0,280.2 a3.5,5.6 0 0 0 7.0,0 M377.0,280.2 a3.5,5.6 0 0 0 7.0,0 M384.0,280.2 a3.5,5.6 0 0 0 7.0,0 M391.0,280.2 a3.5,5.6 0 0 0 7.0,0 M398.0,280.2 a3.5,5.6 0 0 0 7.0,0 M405.0,280.2 a3.5,5.6 0 0 0 7.0,0 M412.0,280.2 a3.5,5.6 0 0 0 7.0,0 M419.0,280.2 a3.5,5.6 0 0 0 7.0,0 M426.0,280.2 a3.5,5.6 0 0 0 7.0,0 M433.0,280.2 a3.5,5.6 0 0 0 7.0,0 M440.0,280.2 a3.5,5.6 0 0 0 7.0,0 M447.0,280.2 a3.5,5.6 0 0 0 7.0,0 M454.0,280.2 a3.5,5.6 0 0 0 7.0,0 M461.0,280.2 a3.5,5.6 0 0 0 7.0,0 M468.0,280.2 a3.5,5.6 0 0 0 7.0,0 M475.0,280.2 a3.5,5.6 0 0 0 7.0,0 M482.0,280.2 a3.5,5.6 0 0 0 7.0,0 M489.0,280.2 a3.5,5.6 0 0 0 7.0,0 M496.0,280.2 a3.5,5.6 0 0 0 7.0,0 M503.0,280.2 a3.5,5.6 0 0 0 7.0,0 M510.0,280.2 a3.5,5.6 0 0 0 7.0,0 M517.0,280.2 a3.5,5.6 0 0 0 7.0,0 M524.0,280.2 a3.5,5.6 0 0 0 7.0,0 M531.0,280.2 a3.5,5.6 0 0 0 7.0,0 M538.0,280.2 a3.5,5.6 0 0 0 7.0,0 M545.0,280.2 a3.5,5.6 0 0 0 7.0,0 M552.0,280.2 a3.5,5.6 0 0 0 7.0,0 M559.0,280.2 a3.5,5.6 0 0 0 7.0,0 M303.5,285.5 a3.5,5.6 0 0 0 7.0,0 M310.5,285.5 a3.5,5.6 0 0 0 7.0,0 M317.5,285.5 a3.5,5.6 0 0 0 7.0,0 M324.5,285.5 a3.5,5.6 0 0 0 7.0,0 M331.5,285.5 a3.5,5.6 0 0 0 7.0,0 M338.5,285.5 a3.5,5.6 0 0 0 7.0,0 M345.5,285.5 a3.5,5.6 0 0 0 7.0,0 M352.5,285.5 a3.5,5.6 0 0 0 7.0,0 M359.5,285.5 a3.5,5.6 0 0 0 7.0,0 M366.5,285.5 a3.5,5.6 0 0 0 7.0,0 M373.5,285.5 a3.5,5.6 0 0 0 7.0,0 M380.5,285.5 a3.5,5.6 0 0 0 7.0,0 M387.5,285.5 a3.5,5.6 0 0 0 7.0,0 M394.5,285.5 a3.5,5.6 0 0 0 7.0,0 M401.5,285.5 a3.5,5.6 0 0 0 7.0,0 M408.5,285.5 a3.5,5.6 0 0 0 7.0,0 M415.5,285.5 a3.5,5.6 0 0 0 7.0,0 M422.5,285.5 a3.5,5.6 0 0 0 7.0,0 M429.5,285.5 a3.5,5.6 0 0 0 7.0,0 M436.5,285.5 a3.5,5.6 0 0 0 7.0,0 M443.5,285.5 a3.5,5.6 0 0 0 7.0,0 M450.5,285.5 a3.5,5.6 0 0 0 7.0,0 M457.5,285.5 a3.5,5.6 0 0 0 7.0,0 M464.5,285.5 a3.5,5.6 0 0 0 7.0,0 M471.5,285.5 a3.5,5.6 0 0 0 7.0,0 M478.5,285.5 a3.5,5.6 0 0 0 7.0,0 M485.5,285.5 a3.5,5.6 0 0 0 7.0,0 M492.5,285.5 a3.5,5.6 0 0 0 7.0,0 M499.5,285.5 a3.5,5.6 0 0 0 7.0,0 M506.5,285.5 a3.5,5.6 0 0 0 7.0,0 M513.5,285.5 a3.5,5.6 0 0 0 7.0,0 M520.5,285.5 a3.5,5.6 0 0 0 7.0,0 M527.5,285.5 a3.5,5.6 0 0 0 7.0,0 M534.5,285.5 a3.5,5.6 0 0 0 7.0,0 M541.5,285.5 a3.5,5.6 0 0 0 7.0,0 M548.5,285.5 a3.5,5.6 0 0 0 7.0,0 M555.5,285.5 a3.5,5.6 0 0 0 7.0,0 M300.0,290.8 a3.5,5.6 0 0 0 7.0,0 M307.0,290.8 a3.5,5.6 0 0 0 7.0,0 M314.0,290.8 a3.5,5.6 0 0 0 7.0,0 M321.0,290.8 a3.5,5.6 0 0 0 7.0,0 M328.0,290.8 a3.5,5.6 0 0 0 7.0,0 M335.0,290.8 a3.5,5.6 0 0 0 7.0,0 M342.0,290.8 a3.5,5.6 0 0 0 7.0,0 M349.0,290.8 a3.5,5.6 0 0 0 7.0,0 M356.0,290.8 a3.5,5.6 0 0 0 7.0,0 M363.0,290.8 a3.5,5.6 0 0 0 7.0,0 M370.0,290.8 a3.5,5.6 0 0 0 7.0,0 M377.0,290.8 a3.5,5.6 0 0 0 7.0,0 M384.0,290.8 a3.5,5.6 0 0 0 7.0,0 M391.0,290.8 a3.5,5.6 0 0 0 7.0,0 M398.0,290.8 a3.5,5.6 0 0 0 7.0,0 M405.0,290.8 a3.5,5.6 0 0 0 7.0,0 M412.0,290.8 a3.5,5.6 0 0 0 7.0,0 M419.0,290.8 a3.5,5.6 0 0 0 7.0,0 M426.0,290.8 a3.5,5.6 0 0 0 7.0,0 M433.0,290.8 a3.5,5.6 0 0 0 7.0,0 M440.0,290.8 a3.5,5.6 0 0 0 7.0,0 M447.0,290.8 a3.5,5.6 0 0 0 7.0,0 M454.0,290.8 a3.5,5.6 0 0 0 7.0,0 M461.0,290.8 a3.5,5.6 0 0 0 7.0,0 M468.0,290.8 a3.5,5.6 0 0 0 7.0,0 M475.0,290.8 a3.5,5.6 0 0 0 7.0,0 M482.0,290.8 a3.5,5.6 0 0 0 7.0,0 M489.0,290.8 a3.5,5.6 0 0 0 7.0,0 M496.0,290.8 a3.5,5.6 0 0 0 7.0,0 M503.0,290.8 a3.5,5.6 0 0 0 7.0,0 M510.0,290.8 a3.5,5.6 0 0 0 7.0,0 M517.0,290.8 a3.5,5.6 0 0 0 7.0,0 M524.0,290.8 a3.5,5.6 0 0 0 7.0,0 M531.0,290.8 a3.5,5.6 0 0 0 7.0,0 M538.0,290.8 a3.5,5.6 0 0 0 7.0,0 M545.0,290.8 a3.5,5.6 0 0 0 7.0,0 M552.0,290.8 a3.5,5.6 0 0 0 7.0,0 M559.0,290.8 a3.5,5.6 0 0 0 7.0,0 M303.5,296.1 a3.5,5.6 0 0 0 7.0,0 M310.5,296.1 a3.5,5.6 0 0 0 7.0,0 M317.5,296.1 a3.5,5.6 0 0 0 7.0,0 M324.5,296.1 a3.5,5.6 0 0 0 7.0,0 M331.5,296.1 a3.5,5.6 0 0 0 7.0,0 M338.5,296.1 a3.5,5.6 0 0 0 7.0,0 M345.5,296.1 a3.5,5.6 0 0 0 7.0,0 M352.5,296.1 a3.5,5.6 0 0 0 7.0,0 M359.5,296.1 a3.5,5.6 0 0 0 7.0,0 M366.5,296.1 a3.5,5.6 0 0 0 7.0,0 M373.5,296.1 a3.5,5.6 0 0 0 7.0,0 M380.5,296.1 a3.5,5.6 0 0 0 7.0,0 M387.5,296.1 a3.5,5.6 0 0 0 7.0,0 M394.5,296.1 a3.5,5.6 0 0 0 7.0,0 M401.5,296.1 a3.5,5.6 0 0 0 7.0,0 M408.5,296.1 a3.5,5.6 0 0 0 7.0,0 M415.5,296.1 a3.5,5.6 0 0 0 7.0,0 M422.5,296.1 a3.5,5.6 0 0 0 7.0,0 M429.5,296.1 a3.5,5.6 0 0 0 7.0,0 M436.5,296.1 a3.5,5.6 0 0 0 7.0,0 M443.5,296.1 a3.5,5.6 0 0 0 7.0,0 M450.5,296.1 a3.5,5.6 0 0 0 7.0,0 M457.5,296.1 a3.5,5.6 0 0 0 7.0,0 M464.5,296.1 a3.5,5.6 0 0 0 7.0,0 M471.5,296.1 a3.5,5.6 0 0 0 7.0,0 M478.5,296.1 a3.5,5.6 0 0 0 7.0,0 M485.5,296.1 a3.5,5.6 0 0 0 7.0,0 M492.5,296.1 a3.5,5.6 0 0 0 7.0,0 M499.5,296.1 a3.5,5.6 0 0 0 7.0,0 M506.5,296.1 a3.5,5.6 0 0 0 7.0,0 M513.5,296.1 a3.5,5.6 0 0 0 7.0,0 M520.5,296.1 a3.5,5.6 0 0 0 7.0,0 M527.5,296.1 a3.5,5.6 0 0 0 7.0,0 M534.5,296.1 a3.5,5.6 0 0 0 7.0,0 M541.5,296.1 a3.5,5.6 0 0 0 7.0,0 M548.5,296.1 a3.5,5.6 0 0 0 7.0,0 M555.5,296.1 a3.5,5.6 0 0 0 7.0,0 M300.0,301.4 a3.5,5.6 0 0 0 7.0,0 M307.0,301.4 a3.5,5.6 0 0 0 7.0,0 M314.0,301.4 a3.5,5.6 0 0 0 7.0,0 M321.0,301.4 a3.5,5.6 0 0 0 7.0,0 M328.0,301.4 a3.5,5.6 0 0 0 7.0,0 M335.0,301.4 a3.5,5.6 0 0 0 7.0,0 M342.0,301.4 a3.5,5.6 0 0 0 7.0,0 M349.0,301.4 a3.5,5.6 0 0 0 7.0,0 M356.0,301.4 a3.5,5.6 0 0 0 7.0,0 M363.0,301.4 a3.5,5.6 0 0 0 7.0,0 M370.0,301.4 a3.5,5.6 0 0 0 7.0,0 M377.0,301.4 a3.5,5.6 0 0 0 7.0,0 M384.0,301.4 a3.5,5.6 0 0 0 7.0,0 M391.0,301.4 a3.5,5.6 0 0 0 7.0,0 M398.0,301.4 a3.5,5.6 0 0 0 7.0,0 M405.0,301.4 a3.5,5.6 0 0 0 7.0,0 M412.0,301.4 a3.5,5.6 0 0 0 7.0,0 M419.0,301.4 a3.5,5.6 0 0 0 7.0,0 M426.0,301.4 a3.5,5.6 0 0 0 7.0,0 M433.0,301.4 a3.5,5.6 0 0 0 7.0,0 M440.0,301.4 a3.5,5.6 0 0 0 7.0,0 M447.0,301.4 a3.5,5.6 0 0 0 7.0,0 M454.0,301.4 a3.5,5.6 0 0 0 7.0,0 M461.0,301.4 a3.5,5.6 0 0 0 7.0,0 M468.0,301.4 a3.5,5.6 0 0 0 7.0,0 M475.0,301.4 a3.5,5.6 0 0 0 7.0,0 M482.0,301.4 a3.5,5.6 0 0 0 7.0,0 M489.0,301.4 a3.5,5.6 0 0 0 7.0,0 M496.0,301.4 a3.5,5.6 0 0 0 7.0,0 M503.0,301.4 a3.5,5.6 0 0 0 7.0,0 M510.0,301.4 a3.5,5.6 0 0 0 7.0,0 M517.0,301.4 a3.5,5.6 0 0 0 7.0,0 M524.0,301.4 a3.5,5.6 0 0 0 7.0,0 M531.0,301.4 a3.5,5.6 0 0 0 7.0,0 M538.0,301.4 a3.5,5.6 0 0 0 7.0,0 M545.0,301.4 a3.5,5.6 0 0 0 7.0,0 M552.0,301.4 a3.5,5.6 0 0 0 7.0,0 M559.0,301.4 a3.5,5.6 0 0 0 7.0,0 M303.5,306.7 a3.5,5.6 0 0 0 7.0,0 M310.5,306.7 a3.5,5.6 0 0 0 7.0,0 M317.5,306.7 a3.5,5.6 0 0 0 7.0,0 M324.5,306.7 a3.5,5.6 0 0 0 7.0,0 M331.5,306.7 a3.5,5.6 0 0 0 7.0,0 M338.5,306.7 a3.5,5.6 0 0 0 7.0,0 M345.5,306.7 a3.5,5.6 0 0 0 7.0,0 M352.5,306.7 a3.5,5.6 0 0 0 7.0,0 M359.5,306.7 a3.5,5.6 0 0 0 7.0,0 M366.5,306.7 a3.5,5.6 0 0 0 7.0,0 M373.5,306.7 a3.5,5.6 0 0 0 7.0,0 M380.5,306.7 a3.5,5.6 0 0 0 7.0,0 M387.5,306.7 a3.5,5.6 0 0 0 7.0,0 M394.5,306.7 a3.5,5.6 0 0 0 7.0,0 M401.5,306.7 a3.5,5.6 0 0 0 7.0,0 M408.5,306.7 a3.5,5.6 0 0 0 7.0,0 M415.5,306.7 a3.5,5.6 0 0 0 7.0,0 M422.5,306.7 a3.5,5.6 0 0 0 7.0,0 M429.5,306.7 a3.5,5.6 0 0 0 7.0,0 M436.5,306.7 a3.5,5.6 0 0 0 7.0,0 M443.5,306.7 a3.5,5.6 0 0 0 7.0,0 M450.5,306.7 a3.5,5.6 0 0 0 7.0,0 M457.5,306.7 a3.5,5.6 0 0 0 7.0,0 M464.5,306.7 a3.5,5.6 0 0 0 7.0,0 M471.5,306.7 a3.5,5.6 0 0 0 7.0,0 M478.5,306.7 a3.5,5.6 0 0 0 7.0,0 M485.5,306.7 a3.5,5.6 0 0 0 7.0,0 M492.5,306.7 a3.5,5.6 0 0 0 7.0,0 M499.5,306.7 a3.5,5.6 0 0 0 7.0,0 M506.5,306.7 a3.5,5.6 0 0 0 7.0,0 M513.5,306.7 a3.5,5.6 0 0 0 7.0,0 M520.5,306.7 a3.5,5.6 0 0 0 7.0,0 M527.5,306.7 a3.5,5.6 0 0 0 7.0,0 M534.5,306.7 a3.5,5.6 0 0 0 7.0,0 M541.5,306.7 a3.5,5.6 0 0 0 7.0,0 M548.5,306.7 a3.5,5.6 0 0 0 7.0,0 M555.5,306.7 a3.5,5.6 0 0 0 7.0,0" fill="none" stroke="#5c606a" stroke-width="0.5" clip-path="url(#cCr)"/>
<path d="M330.0,158.0 C332.0,155.4 340.0,147.1 345.0,142.5 C350.0,137.9 355.5,134.2 360.0,130.5 C364.5,126.8 368.5,122.5 372.0,120.0 C375.5,117.5 377.2,116.3 381.0,115.5 C384.8,114.7 390.0,114.5 394.5,115.0 C399.0,115.5 403.2,116.9 408.0,118.5 C412.8,120.1 418.0,122.6 423.0,124.5 C428.0,126.4 433.7,129.2 438.0,130.0 C442.3,130.8 444.9,130.0 449.0,129.0 C453.1,128.0 457.8,126.0 462.5,124.0 C467.2,122.0 473.0,119.2 477.5,117.0 C482.0,114.8 486.2,112.3 489.5,111.0 C492.8,109.7 494.8,109.4 497.0,109.3 C499.2,109.2 500.5,109.5 503.0,110.5 C505.5,111.5 509.0,113.2 512.0,115.0 C515.0,116.8 518.2,118.8 521.0,121.0 C523.8,123.2 526.2,125.8 528.5,128.5 C530.8,131.2 532.8,134.2 534.5,137.5 C536.2,140.8 537.5,144.2 539.0,148.0 C540.5,151.8 542.2,155.0 543.5,160.0 C544.8,165.0 545.8,172.7 546.5,178.0 C547.2,183.3 548.1,193.0 547.5,192.0 C546.9,191.0 544.7,177.3 543.0,172.0 C541.3,166.7 540.2,163.2 537.5,160.0 C534.8,156.8 530.8,154.5 527.0,152.5 C523.2,150.5 519.5,149.2 515.0,148.0 C510.5,146.8 505.0,145.7 500.0,145.0 C495.0,144.3 490.0,143.8 485.0,144.0 C480.0,144.2 475.0,145.3 470.0,146.5 C465.0,147.7 460.0,149.2 455.0,151.0 C450.0,152.8 443.8,155.8 440.0,157.0 C436.2,158.2 435.3,158.4 432.0,158.0 C428.7,157.6 424.5,155.6 420.0,154.5 C415.5,153.4 410.0,152.5 405.0,151.5 C400.0,150.5 395.0,149.4 390.0,148.5 C385.0,147.6 380.0,146.2 375.0,146.0 C370.0,145.8 365.0,146.3 360.0,147.0 C355.0,147.7 349.5,148.2 345.0,150.0 C340.5,151.8 335.5,156.7 333.0,158.0 C330.5,159.3 328.0,160.6 330.0,158.0 Z" fill="url(#occ)"/>
<g clip-path="url(#cOcc)">
<ellipse cx="408" cy="138" rx="26" ry="13" fill="url(#hiW)"/>
<ellipse cx="498" cy="122" rx="12" ry="9" fill="url(#hiW)"/>
<ellipse cx="482" cy="142" rx="26" ry="8" fill="url(#hiW)"/>
<ellipse cx="452" cy="142" rx="8" ry="10" fill="url(#hiW)"/>
<ellipse cx="372" cy="132" rx="6" ry="16" fill="#9a9ab8" opacity="0.35" filter="url(#blur3)"/>
<ellipse cx="438" cy="138" rx="4" ry="14" fill="#8a8aac" opacity="0.45" filter="url(#blur3)"/>
<ellipse cx="466" cy="128" rx="10" ry="8" fill="#9a9ab8" opacity="0.4" filter="url(#blur3)"/>
</g>
<path d="M350.0,297.0 C339.8,294.2 342.8,289.7 339.0,285.0 C335.2,280.3 330.2,275.2 327.0,269.0 C323.8,262.8 321.8,255.8 320.0,248.0 C318.2,240.2 316.7,230.0 316.0,222.0 C315.3,214.0 315.5,206.5 316.0,200.0 C316.5,193.5 317.8,188.0 319.0,183.0 C320.2,178.0 321.2,174.2 323.0,170.0 C324.8,165.8 326.3,162.6 330.0,158.0 C333.7,153.4 340.0,147.1 345.0,142.5 C350.0,137.9 355.5,134.2 360.0,130.5 C364.5,126.8 368.5,122.5 372.0,120.0 C375.5,117.5 377.2,116.3 381.0,115.5 C384.8,114.7 390.0,114.5 394.5,115.0 C399.0,115.5 403.2,116.9 408.0,118.5 C412.8,120.1 418.0,122.6 423.0,124.5 C428.0,126.4 433.7,129.2 438.0,130.0 C442.3,130.8 444.9,130.0 449.0,129.0 C453.1,128.0 457.8,126.0 462.5,124.0 C467.2,122.0 473.0,119.2 477.5,117.0 C482.0,114.8 486.2,112.3 489.5,111.0 C492.8,109.7 494.8,109.4 497.0,109.3 C499.2,109.2 500.5,109.5 503.0,110.5 C505.5,111.5 509.0,113.2 512.0,115.0 C515.0,116.8 518.2,118.8 521.0,121.0 C523.8,123.2 526.2,125.8 528.5,128.5 C530.8,131.2 532.8,134.2 534.5,137.5 C536.2,140.8 537.5,144.2 539.0,148.0 C540.5,151.8 542.2,154.3 543.5,160.0 C544.8,165.7 546.1,174.5 547.0,182.0 C547.9,189.5 548.8,198.3 549.0,205.0 C549.2,211.7 548.8,216.2 548.0,222.0 C547.2,227.8 545.7,234.3 544.0,240.0 C542.3,245.7 540.0,251.0 538.0,256.0 C536.0,261.0 534.0,265.8 532.0,270.0 C530.0,274.2 528.0,277.7 526.0,281.0 C524.0,284.3 522.0,287.3 520.0,290.0 C518.0,292.7 520.7,295.0 514.0,297.0 C507.3,299.0 499.0,301.2 480.0,302.0 C461.0,302.8 421.7,302.8 400.0,302.0 C378.3,301.2 360.2,299.8 350.0,297.0 Z" fill="none" stroke="#2a2a2a" stroke-width="0.9"/>
<path d="M330.0,158.0 C332.0,155.4 340.0,147.1 345.0,142.5 C350.0,137.9 355.5,134.2 360.0,130.5 C364.5,126.8 368.5,122.5 372.0,120.0 C375.5,117.5 377.2,116.3 381.0,115.5 C384.8,114.7 390.0,114.5 394.5,115.0 C399.0,115.5 403.2,116.9 408.0,118.5 C412.8,120.1 418.0,122.6 423.0,124.5 C428.0,126.4 433.7,129.2 438.0,130.0 C442.3,130.8 444.9,130.0 449.0,129.0 C453.1,128.0 457.8,126.0 462.5,124.0 C467.2,122.0 473.0,119.2 477.5,117.0 C482.0,114.8 486.2,112.3 489.5,111.0 C492.8,109.7 494.8,109.4 497.0,109.3 C499.2,109.2 500.5,109.5 503.0,110.5 C505.5,111.5 509.0,113.2 512.0,115.0 C515.0,116.8 518.2,118.8 521.0,121.0 C523.8,123.2 526.2,125.8 528.5,128.5 C530.8,131.2 532.8,134.2 534.5,137.5 C536.2,140.8 537.5,144.2 539.0,148.0 C540.5,151.8 542.2,155.0 543.5,160.0 C544.8,165.0 545.8,172.7 546.5,178.0 C547.2,183.3 548.1,193.0 547.5,192.0 C546.9,191.0 544.7,177.3 543.0,172.0 C541.3,166.7 540.2,163.2 537.5,160.0 C534.8,156.8 530.8,154.5 527.0,152.5 C523.2,150.5 519.5,149.2 515.0,148.0 C510.5,146.8 505.0,145.7 500.0,145.0 C495.0,144.3 490.0,143.8 485.0,144.0 C480.0,144.2 475.0,145.3 470.0,146.5 C465.0,147.7 460.0,149.2 455.0,151.0 C450.0,152.8 443.8,155.8 440.0,157.0 C436.2,158.2 435.3,158.4 432.0,158.0 C428.7,157.6 424.5,155.6 420.0,154.5 C415.5,153.4 410.0,152.5 405.0,151.5 C400.0,150.5 395.0,149.4 390.0,148.5 C385.0,147.6 380.0,146.2 375.0,146.0 C370.0,145.8 365.0,146.3 360.0,147.0 C355.0,147.7 349.5,148.2 345.0,150.0 C340.5,151.8 335.5,156.7 333.0,158.0 C330.5,159.3 328.0,160.6 330.0,158.0 Z" fill="none" stroke="#2a2a2a" stroke-width="0.8"/>
<path d="M369.0,304.0 C367.7,298.7 367.8,283.7 367.0,274.0 C366.2,264.3 365.0,255.0 364.0,246.0 C363.0,237.0 361.8,226.7 361.0,220.0 C360.2,213.3 359.5,210.0 359.5,206.0 C359.5,202.0 359.9,198.8 361.0,196.0 C362.1,193.2 363.5,191.1 366.0,189.5 C368.5,187.9 372.0,186.4 376.0,186.5 C380.0,186.6 384.3,188.1 390.0,190.0 C395.7,191.9 403.3,195.8 410.0,198.0 C416.7,200.2 424.3,202.0 430.0,203.0 C435.7,204.0 439.0,204.3 444.0,204.0 C449.0,203.7 454.7,202.3 460.0,201.0 C465.3,199.7 471.0,197.3 476.0,196.0 C481.0,194.7 485.3,193.5 490.0,193.0 C494.7,192.5 500.3,192.2 504.0,193.0 C507.7,193.8 510.2,195.5 512.0,198.0 C513.8,200.5 514.5,203.5 515.0,208.0 C515.5,212.5 515.2,218.0 515.0,225.0 C514.8,232.0 514.8,242.2 514.0,250.0 C513.2,257.8 511.2,265.3 510.0,272.0 C508.8,278.7 507.7,284.7 507.0,290.0 C506.3,295.3 508.8,301.3 506.0,304.0 C503.2,306.7 496.0,306.7 490.0,306.0 C484.0,305.3 478.3,301.3 470.0,300.0 C461.7,298.7 450.0,298.3 440.0,298.0 C430.0,297.7 419.2,297.0 410.0,298.0 C400.8,299.0 390.8,302.7 385.0,304.0 C379.2,305.3 377.7,306.0 375.0,306.0 C372.3,306.0 370.3,309.3 369.0,304.0 Z" fill="url(#dC)"/>
<g clip-path="url(#cDC)" stroke="#c87044" stroke-width="1.15" opacity="0.8" stroke-linecap="round"><line x1="379.5" y1="303.9" x2="322.1" y2="300.8"/><line x1="379.7" y1="300.6" x2="322.3" y2="297.5"/><line x1="379.9" y1="297.3" x2="322.4" y2="294.2"/><line x1="380.0" y1="294.0" x2="322.6" y2="290.9"/><line x1="380.2" y1="290.7" x2="322.8" y2="287.6"/><line x1="380.4" y1="287.4" x2="323.0" y2="284.1"/><line x1="380.6" y1="284.1" x2="323.2" y2="280.6"/><line x1="380.8" y1="280.8" x2="323.4" y2="277.1"/><line x1="381.0" y1="277.4" x2="323.6" y2="273.6"/><line x1="381.2" y1="274.2" x2="323.8" y2="271.7"/><line x1="381.4" y1="271.0" x2="323.9" y2="270.4"/><line x1="381.3" y1="267.8" x2="323.9" y2="269.1"/><line x1="381.1" y1="264.6" x2="323.7" y2="267.8"/><line x1="380.9" y1="261.3" x2="323.6" y2="265.4"/><line x1="380.7" y1="258.1" x2="323.5" y2="264.1"/><line x1="380.4" y1="254.9" x2="323.5" y2="262.7"/><line x1="379.8" y1="251.7" x2="323.1" y2="261.4"/><line x1="379.2" y1="248.6" x2="322.8" y2="259.8"/><line x1="378.5" y1="245.3" x2="322.0" y2="255.9"/><line x1="377.9" y1="242.0" x2="321.1" y2="251.4"/><line x1="377.3" y1="238.7" x2="320.4" y2="246.9"/><line x1="377.0" y1="234.8" x2="319.8" y2="228.3"/><line x1="377.2" y1="230.2" x2="333.0" y2="193.4"/><line x1="381.0" y1="229.2" x2="369.9" y2="172.8"/><line x1="385.1" y1="230.1" x2="395.7" y2="173.6"/><line x1="388.3" y1="230.9" x2="398.5" y2="174.4"/><line x1="391.3" y1="231.5" x2="397.7" y2="174.4"/><line x1="394.5" y1="231.5" x2="398.1" y2="174.1"/><line x1="397.9" y1="231.5" x2="402.4" y2="174.2"/><line x1="401.3" y1="231.8" x2="409.3" y2="174.8"/><line x1="404.6" y1="232.6" x2="416.2" y2="176.3"/><line x1="407.9" y1="233.4" x2="421.9" y2="177.6"/><line x1="411.2" y1="234.2" x2="425.1" y2="178.4"/><line x1="414.3" y1="235.0" x2="428.2" y2="179.2"/><line x1="417.4" y1="235.8" x2="428.5" y2="179.4"/><line x1="420.5" y1="236.5" x2="428.8" y2="179.6"/><line x1="423.7" y1="236.7" x2="429.2" y2="179.5"/><line x1="426.9" y1="236.8" x2="429.8" y2="179.4"/><line x1="430.2" y1="237.0" x2="433.1" y2="179.6"/><line x1="433.5" y1="237.2" x2="436.4" y2="179.7"/><line x1="436.7" y1="237.3" x2="436.7" y2="179.8"/><line x1="439.8" y1="237.5" x2="437.0" y2="180.1"/><line x1="443.0" y1="237.0" x2="437.3" y2="179.8"/><line x1="446.1" y1="236.6" x2="437.6" y2="179.7"/><line x1="449.4" y1="236.1" x2="440.9" y2="179.2"/><line x1="452.7" y1="235.6" x2="444.1" y2="178.7"/><line x1="455.8" y1="235.1" x2="445.4" y2="178.5"/><line x1="459.0" y1="234.6" x2="446.4" y2="178.5"/><line x1="462.1" y1="233.7" x2="447.3" y2="178.2"/><line x1="465.2" y1="232.8" x2="448.3" y2="177.8"/><line x1="468.3" y1="231.8" x2="451.1" y2="176.9"/><line x1="471.5" y1="230.8" x2="456.1" y2="175.4"/><line x1="474.8" y1="229.8" x2="461.6" y2="173.8"/><line x1="478.6" y1="229.1" x2="477.9" y2="171.6"/><line x1="483.2" y1="229.1" x2="514.7" y2="180.9"/><line x1="484.8" y1="232.4" x2="540.4" y2="217.5"/><line x1="484.0" y1="236.7" x2="540.6" y2="246.8"/><line x1="483.1" y1="240.1" x2="538.5" y2="255.4"/><line x1="482.2" y1="243.3" x2="537.6" y2="258.8"/><line x1="481.3" y1="246.5" x2="536.6" y2="262.2"/><line x1="480.4" y1="249.7" x2="535.7" y2="265.5"/><line x1="479.5" y1="252.8" x2="534.9" y2="268.4"/><line x1="478.6" y1="256.0" x2="534.0" y2="271.3"/><line x1="477.7" y1="259.2" x2="533.3" y2="274.2"/><line x1="476.9" y1="262.4" x2="532.5" y2="277.1"/><line x1="476.1" y1="265.6" x2="531.7" y2="280.2"/><line x1="475.2" y1="268.8" x2="530.8" y2="283.4"/><line x1="474.4" y1="271.9" x2="530.3" y2="285.2"/><line x1="473.6" y1="275.0" x2="529.8" y2="286.9"/><line x1="473.0" y1="278.2" x2="529.6" y2="288.5"/><line x1="472.6" y1="281.4" x2="529.4" y2="290.2"/><line x1="472.1" y1="284.7" x2="528.9" y2="293.2"/><line x1="471.6" y1="287.9" x2="528.5" y2="296.5"/><line x1="471.1" y1="291.1" x2="528.2" y2="298.1"/><line x1="470.6" y1="294.3" x2="527.9" y2="299.2"/><line x1="470.5" y1="297.5" x2="527.9" y2="300.2"/><line x1="470.5" y1="300.7" x2="528.0" y2="301.5"/><line x1="470.5" y1="304.0" x2="528.0" y2="304.0"/><line x1="376.2" y1="230.1" x2="322.0" y2="212.1"/><line x1="376.3" y1="229.7" x2="324.5" y2="206.0"/><line x1="376.4" y1="229.5" x2="327.6" y2="200.1"/><line x1="376.6" y1="229.2" x2="331.3" y2="194.6"/><line x1="376.8" y1="228.9" x2="335.6" y2="189.6"/><line x1="377.1" y1="228.7" x2="340.4" y2="185.0"/><line x1="377.3" y1="228.5" x2="345.7" y2="181.1"/><line x1="377.6" y1="228.3" x2="351.5" y2="177.7"/><line x1="377.9" y1="228.2" x2="357.5" y2="175.0"/><line x1="378.2" y1="228.1" x2="363.8" y2="173.0"/><line x1="378.6" y1="228.0" x2="370.3" y2="171.6"/><line x1="483.4" y1="228.0" x2="491.7" y2="171.6"/><line x1="483.8" y1="228.1" x2="498.2" y2="173.0"/><line x1="484.1" y1="228.2" x2="504.5" y2="175.0"/><line x1="484.4" y1="228.3" x2="510.5" y2="177.7"/><line x1="484.7" y1="228.5" x2="516.3" y2="181.1"/><line x1="484.9" y1="228.7" x2="521.6" y2="185.0"/><line x1="485.2" y1="228.9" x2="526.4" y2="189.6"/><line x1="485.4" y1="229.2" x2="530.7" y2="194.6"/><line x1="485.6" y1="229.5" x2="534.4" y2="200.1"/><line x1="485.7" y1="229.7" x2="537.5" y2="206.0"/><line x1="485.8" y1="230.1" x2="540.0" y2="212.1"/></g>
<path d="M369.0,304.0 C367.7,298.7 367.8,283.7 367.0,274.0 C366.2,264.3 365.0,255.0 364.0,246.0 C363.0,237.0 361.8,226.7 361.0,220.0 C360.2,213.3 359.5,210.0 359.5,206.0 C359.5,202.0 359.9,198.8 361.0,196.0 C362.1,193.2 363.5,191.1 366.0,189.5 C368.5,187.9 372.0,186.4 376.0,186.5 C380.0,186.6 384.3,188.1 390.0,190.0 C395.7,191.9 403.3,195.8 410.0,198.0 C416.7,200.2 424.3,202.0 430.0,203.0 C435.7,204.0 439.0,204.3 444.0,204.0 C449.0,203.7 454.7,202.3 460.0,201.0 C465.3,199.7 471.0,197.3 476.0,196.0 C481.0,194.7 485.3,193.5 490.0,193.0 C494.7,192.5 500.3,192.2 504.0,193.0 C507.7,193.8 510.2,195.5 512.0,198.0 C513.8,200.5 514.5,203.5 515.0,208.0 C515.5,212.5 515.2,218.0 515.0,225.0 C514.8,232.0 514.8,242.2 514.0,250.0 C513.2,257.8 511.2,265.3 510.0,272.0 C508.8,278.7 507.7,284.7 507.0,290.0 C506.3,295.3 508.8,301.3 506.0,304.0 C503.2,306.7 496.0,306.7 490.0,306.0 C484.0,305.3 478.3,301.3 470.0,300.0 C461.7,298.7 450.0,298.3 440.0,298.0 C430.0,297.7 419.2,297.0 410.0,298.0 C400.8,299.0 390.8,302.7 385.0,304.0 C379.2,305.3 377.7,306.0 375.0,306.0 C372.3,306.0 370.3,309.3 369.0,304.0 Z" fill="none" stroke="#f8c4a0" stroke-width="6" clip-path="url(#cDC)" opacity="0.7" filter="url(#blur1)"/>
<path d="M379.0,231.0 C380.3,219.8 386.5,232.5 390.0,233.0 C393.5,233.5 395.0,233.0 400.0,234.0 C405.0,235.0 413.3,238.0 420.0,239.0 C426.7,240.0 433.3,240.3 440.0,240.0 C446.7,239.7 454.0,238.3 460.0,237.0 C466.0,235.7 472.2,233.0 476.0,232.0 C479.8,231.0 482.3,229.3 483.0,231.0 C483.7,232.7 481.2,237.8 480.0,242.0 C478.8,246.2 477.5,250.5 476.0,256.0 C474.5,261.5 472.3,268.5 471.0,275.0 C469.7,281.5 468.5,290.8 468.0,295.0 C467.5,299.2 482.3,299.2 468.0,300.0 C453.7,300.8 396.8,311.5 382.0,300.0 C367.2,288.5 377.7,242.2 379.0,231.0 Z" fill="none" stroke="#f8c8a4" stroke-width="12" clip-path="url(#cDC)" opacity="0.55" filter="url(#blur3)"/>

<!-- pulp -->
<path d="M379.0,231.0 C380.7,229.8 386.5,232.5 390.0,233.0 C393.5,233.5 395.0,233.0 400.0,234.0 C405.0,235.0 413.3,238.0 420.0,239.0 C426.7,240.0 433.3,240.3 440.0,240.0 C446.7,239.7 454.0,238.3 460.0,237.0 C466.0,235.7 472.2,233.0 476.0,232.0 C479.8,231.0 482.3,229.3 483.0,231.0 C483.7,232.7 481.2,237.8 480.0,242.0 C478.8,246.2 477.5,250.5 476.0,256.0 C474.5,261.5 472.3,268.5 471.0,275.0 C469.7,281.5 468.5,288.8 468.0,295.0 C467.5,301.2 467.7,306.2 468.0,312.0 C468.3,317.8 469.3,323.7 470.0,330.0 C470.7,336.3 471.5,341.7 472.0,350.0 C472.5,358.3 473.2,370.8 473.0,380.0 C472.8,389.2 472.5,396.7 471.0,405.0 C469.5,413.3 466.5,422.5 464.0,430.0 C461.5,437.5 459.3,443.0 456.0,450.0 C452.7,457.0 448.7,465.0 444.0,472.0 C439.3,479.0 432.0,486.5 428.0,492.0 C424.0,497.5 421.8,503.3 420.0,505.0 C418.2,506.7 416.2,504.5 417.0,502.0 C417.8,499.5 421.5,495.3 425.0,490.0 C428.5,484.7 434.2,477.5 438.0,470.0 C441.8,462.5 445.2,453.3 448.0,445.0 C450.8,436.7 453.7,430.8 455.0,420.0 C456.3,409.2 456.5,393.3 456.0,380.0 C455.5,366.7 453.7,350.3 452.0,340.0 C450.3,329.7 448.0,323.5 446.0,318.0 C444.0,312.5 442.3,309.5 440.0,307.0 C437.7,304.5 434.7,303.8 432.0,303.0 C429.3,302.2 426.7,301.8 424.0,302.0 C421.3,302.2 418.7,302.7 416.0,304.0 C413.3,305.3 410.5,307.7 408.0,310.0 C405.5,312.3 403.0,316.0 401.0,318.0 C399.0,320.0 397.8,317.5 396.0,322.0 C394.2,326.5 392.3,338.3 390.0,345.0 C387.7,351.7 384.4,356.2 382.0,362.0 C379.6,367.8 378.3,372.0 375.5,380.0 C372.7,388.0 368.4,400.0 365.0,410.0 C361.6,420.0 357.5,430.0 355.0,440.0 C352.5,450.0 351.2,462.0 350.0,470.0 C348.8,478.0 348.5,483.0 348.0,488.0 C347.5,493.0 347.5,498.0 347.0,500.0 C346.5,502.0 345.5,502.0 345.0,500.0 C344.5,498.0 344.2,493.0 344.0,488.0 C343.8,483.0 343.5,478.0 344.0,470.0 C344.5,462.0 345.7,450.0 347.0,440.0 C348.3,430.0 350.0,420.0 352.0,410.0 C354.0,400.0 356.7,388.0 359.0,380.0 C361.3,372.0 363.8,367.8 366.0,362.0 C368.2,356.2 370.3,352.0 372.0,345.0 C373.7,338.0 374.5,327.5 376.0,320.0 C377.5,312.5 380.0,305.0 381.0,300.0 C382.0,295.0 381.5,294.2 382.0,290.0 C382.5,285.8 383.8,280.8 384.0,275.0 C384.2,269.2 383.7,260.8 383.0,255.0 C382.3,249.2 380.7,244.0 380.0,240.0 C379.3,236.0 377.3,232.2 379.0,231.0 Z" fill="#b08a40" stroke="#ffe2a6" stroke-width="2.6"/>
<path d="M379.0,231.0 C380.7,229.8 386.5,232.5 390.0,233.0 C393.5,233.5 395.0,233.0 400.0,234.0 C405.0,235.0 413.3,238.0 420.0,239.0 C426.7,240.0 433.3,240.3 440.0,240.0 C446.7,239.7 454.0,238.3 460.0,237.0 C466.0,235.7 472.2,233.0 476.0,232.0 C479.8,231.0 482.3,229.3 483.0,231.0 C483.7,232.7 481.2,237.8 480.0,242.0 C478.8,246.2 477.5,250.5 476.0,256.0 C474.5,261.5 472.3,268.5 471.0,275.0 C469.7,281.5 468.5,288.8 468.0,295.0 C467.5,301.2 470.7,307.5 468.0,312.0 C465.3,316.5 456.7,322.8 452.0,322.0 C447.3,321.2 444.7,310.3 440.0,307.0 C435.3,303.7 429.3,301.5 424.0,302.0 C418.7,302.5 412.7,306.7 408.0,310.0 C403.3,313.3 401.0,320.7 396.0,322.0 C391.0,323.3 380.5,321.7 378.0,318.0 C375.5,314.3 380.3,304.7 381.0,300.0 C381.7,295.3 381.5,294.2 382.0,290.0 C382.5,285.8 383.8,280.8 384.0,275.0 C384.2,269.2 383.7,260.8 383.0,255.0 C382.3,249.2 380.7,244.0 380.0,240.0 C379.3,236.0 377.3,232.2 379.0,231.0 Z" fill="url(#pulpG)"/>
<g clip-path="url(#cPulp)">
<ellipse cx="452" cy="292" rx="16" ry="18" fill="#c8c464" opacity="0.55" filter="url(#blur3)"/>
<ellipse cx="470" cy="360" rx="6" ry="40" fill="#d8c860" opacity="0.45" filter="url(#blur3)"/>
<g filter="url(#blur1)">
<path d="M405,250 C410,262 412,275 408,290 C402,305 396,318 390,330 C383,345 375,362 370,380 C366,395 360,415 356,430" fill="none" stroke="#e04a10" stroke-width="2.2" stroke-linecap="round" opacity="0.75"/><path d="M430,245 C440,262 446,280 452,300 C456,315 460,330 463,350" fill="none" stroke="#e04a10" stroke-width="2.2" stroke-linecap="round" opacity="0.75"/><path d="M420,290 C430,280 440,272 450,262" fill="none" stroke="#e04a10" stroke-width="2.2" stroke-linecap="round" opacity="0.75"/><path d="M348,455 C346,470 345,485 344,495 C343,510 341,520 339,530 C337,538 336,543 335,548" fill="none" stroke="#e04a10" stroke-width="2.2" stroke-linecap="round" opacity="0.75"/><path d="M445,460 C440,468 434,476 427,487 C422,495 418,502 412,512 C408,518 405,524 402,530 C399,536 396,542 392,551" fill="none" stroke="#e04a10" stroke-width="2.2" stroke-linecap="round" opacity="0.75"/>
<path d="M390,240 C391,250 390,258 391,267 C392,276 390,284 388,292" fill="none" stroke="#f0c020" stroke-width="5.0" stroke-linecap="round" opacity="0.35"/><path d="M469.5,242.5 C468,250 464,258 461,267 C458,276 454,284 452,292" fill="none" stroke="#f0c020" stroke-width="5.0" stroke-linecap="round" opacity="0.35"/><path d="M417,260 C425,270 432,280 438,288 C442,292 445,294 447.5,294.8" fill="none" stroke="#f0c020" stroke-width="5.0" stroke-linecap="round" opacity="0.35"/><path d="M405,285 C415,280 425,278 435,276" fill="none" stroke="#f0c020" stroke-width="5.0" stroke-linecap="round" opacity="0.35"/>
<path d="M390,240 C391,250 390,258 391,267 C392,276 390,284 388,292" fill="none" stroke="#f8e040" stroke-width="1.8" stroke-linecap="round" opacity="0.90"/><path d="M469.5,242.5 C468,250 464,258 461,267 C458,276 454,284 452,292" fill="none" stroke="#f8e040" stroke-width="1.8" stroke-linecap="round" opacity="0.90"/><path d="M417,260 C425,270 432,280 438,288 C442,292 445,294 447.5,294.8" fill="none" stroke="#f8e040" stroke-width="1.8" stroke-linecap="round" opacity="0.90"/><path d="M405,285 C415,280 425,278 435,276" fill="none" stroke="#f8e040" stroke-width="1.8" stroke-linecap="round" opacity="0.90"/>
<path d="M391,296 C388,310 382,326 377,338 C372,350 368,362 365,375 C362,390 358,405 355,420 C352,435 350,448 349,460" fill="none" stroke="#f4d410" stroke-width="4.6" stroke-linecap="round" opacity="0.95"/><path d="M466,296 C468,315 470,335 471,355 C472,375 472,395 470,412 C468,428 464,440 458,452 C454,460 448,466 444,472" fill="none" stroke="#f4d410" stroke-width="4.6" stroke-linecap="round" opacity="0.95"/>
</g>
<path d="M428,285 C434,282 440,280 444.8,278 C450,275 455,273 458.5,271" fill="none" stroke="#6a50c0" stroke-width="1.4" stroke-linecap="round" opacity="1.00"/><path d="M410,262 C408,270 412,278 418,282 C424,286 430,284 436,280" fill="none" stroke="#6a50c0" stroke-width="1.4" stroke-linecap="round" opacity="1.00"/><path d="M440,255 C436,262 430,266 424,268" fill="none" stroke="#6a50c0" stroke-width="1.4" stroke-linecap="round" opacity="1.00"/>
<path d="M396.6,306 C394,298 392,292 392.5,288 C393,281 397,277 396.6,274 C398,268 398,264 398,260 C397,254 394,250 395,246.6 C396,243 401,241.5 407.6,243 C411,244 413,247 414.5,249.4" fill="none" stroke="#4a62e4" stroke-width="2.6" stroke-linecap="round" opacity="1.00"/><path d="M398,266 C403,262 407,261 410,261.8 C414,262.5 418,264 421,264.5 C426,265.5 430,268 433.8,267 C438,266 441,265 443,263 C445,261 445,257 446,255 C448,252 450,251 453,250.8 C457,250 461,248 464,249 C467,250 469,251 468,253.5 C468,258 467,262 466.8,267 C466,272 464,277 462.7,281 C461,286 459.5,290 458.5,294.8 C457.5,299 456.5,303 455.8,306" fill="none" stroke="#4a62e4" stroke-width="2.6" stroke-linecap="round" opacity="1.00"/><path d="M424,274 C426,280 427,285 428,288 C430,291 432,293 433.8,294.8 C437,297 440,299 442,300 C444,302 446,304 447.5,306 C450,310 452,314 455,318" fill="none" stroke="#4a62e4" stroke-width="2.6" stroke-linecap="round" opacity="1.00"/><path d="M399,294.8 C403,296 407,297.5 410,297.5 C414,297.5 418,297 421,296 C424,294 426,292 427,290.6" fill="none" stroke="#4a62e4" stroke-width="2.6" stroke-linecap="round" opacity="1.00"/>
</g>
<path d="M396.6,306 C392,312 389,318 388,325 C386,335 383,342 380,350 C373,362 365,372 361.5,380 C356,395 352,420 350.5,440 C349,460 349,470 350,480 C351,495 351,510 352,525 C353,535 353,540 352,543" fill="none" stroke="#4a62e4" stroke-width="4.2" stroke-linecap="round" opacity="1.00"/><path d="M455.8,306 C455,320 457,340 459,360 C461,380 463,395 462,405 C461,418 460,425 458,432 C456,440 453,448 450,453 C447,457 444,460 441,462 C436,468 432,474 429,481 C425,490 419,498 416,504 C414,509 413,513 412,517 C410,523 407,527 403,531 C400,534 397,537 394,541" fill="none" stroke="#4a62e4" stroke-width="4.2" stroke-linecap="round" opacity="1.00"/>
<path d="M348,455 C346,470 345,485 344,495 C343,510 341,520 339,530 C337,538 336,543 335,548" fill="none" stroke="#d8460c" stroke-width="3.6" stroke-linecap="round" opacity="1.00"/><path d="M445,460 C440,468 434,476 427,487 C422,495 418,502 412,512 C408,518 405,524 402,530 C399,536 396,542 392,551" fill="none" stroke="#d8460c" stroke-width="3.6" stroke-linecap="round" opacity="1.00"/>
<!-- vessels bottom -->
<path d="M282,542 C320,540 380,541 420,539 C460,537 500,530 553,517" fill="none" stroke="#4a64e0" stroke-width="4.8" stroke-linecap="round"/>
<path d="M282,556 C286,549 292,546 300,545.5 C320,546 340,550 360,551.5 C390,553 410,552 425,551 C450,549.5 470,548 480,547 C500,544 520,541 534,538 C550,535 562,532 574.5,529.6" fill="none" stroke="#d8460c" stroke-width="4.2" stroke-linecap="round"/>

<!-- bracket -->
<g stroke="#111" stroke-width="2" fill="none">
<path d="M578.3,109.3 H611.2 V507.5 H588"/>
<path d="M587.3,248.4 H611 M587.3,291.6 H611 M611,176.2 H628.4 M611,272.3 H629 M611,394.5 H628.7"/>
</g>

<!-- labels -->
<g stroke="#000" stroke-width="2.4"><line x1="251.0" y1="116.2" x2="341.0" y2="171.5"/><line x1="243.0" y1="173.0" x2="371.0" y2="209.0"/><line x1="228.3" y1="228.3" x2="291.2" y2="257.5"/><line x1="248.0" y1="309.0" x2="396.5" y2="286.5"/><line x1="271.5" y1="418.5" x2="328.0" y2="402.0"/><line x1="229.0" y1="497.0" x2="305.5" y2="503.0"/></g>
<g fill="#fff" stroke="#000" stroke-width="2.4"><circle cx="341.0" cy="171.5" r="7.2"/><circle cx="371.0" cy="209.0" r="7.2"/><circle cx="291.2" cy="257.5" r="7.2"/><circle cx="396.5" cy="286.5" r="7.2"/><circle cx="305.5" cy="503.0" r="7.2"/></g>
<rect x="197.2" y="85.3" width="76.7" height="26.1" fill="#fff" stroke="#7282b0" stroke-width="1.4"/>
<text x="235.2" y="103.0" class="q">?</text>
<rect x="147.9" y="147.8" width="78.1" height="26.6" fill="#fff" stroke="#7282b0" stroke-width="1.4"/>
<text x="186.5" y="165.8" class="q">?</text>
<rect x="125.7" y="206.2" width="77.8" height="25.8" fill="#fff" stroke="#7282b0" stroke-width="1.4"/>
<text x="164.2" y="223.8" class="q">?</text>
<rect x="128.4" y="276.0" width="77.4" height="99.4" fill="#fff" stroke="#7282b0" stroke-width="1.4"/>
<text x="166.7" y="330.4" class="q">?</text>
<rect x="140.7" y="404.8" width="93.3" height="26.0" fill="#fff" stroke="#7282b0" stroke-width="1.4"/>
<text x="186.9" y="422.5" class="q">?</text>
<rect x="137.5" y="458.5" width="77.4" height="58.3" fill="#fff" stroke="#7282b0" stroke-width="1.4"/>
<text x="175.8" y="492.3" class="q">?</text>
<rect x="630.4" y="164.3" width="78.2" height="26.2" fill="#fff" stroke="#7282b0" stroke-width="1.4"/>
<text x="669.1" y="182.1" class="q">?</text>
<rect x="631.6" y="256.9" width="78.1" height="26.4" fill="#fff" stroke="#7282b0" stroke-width="1.4"/>
<text x="670.3" y="274.8" class="q">?</text>
<rect x="636.1" y="381.2" width="78.2" height="26.9" fill="#fff" stroke="#7282b0" stroke-width="1.4"/>
<text x="674.8" y="399.3" class="q">?</text>

</svg>
</body></html>
